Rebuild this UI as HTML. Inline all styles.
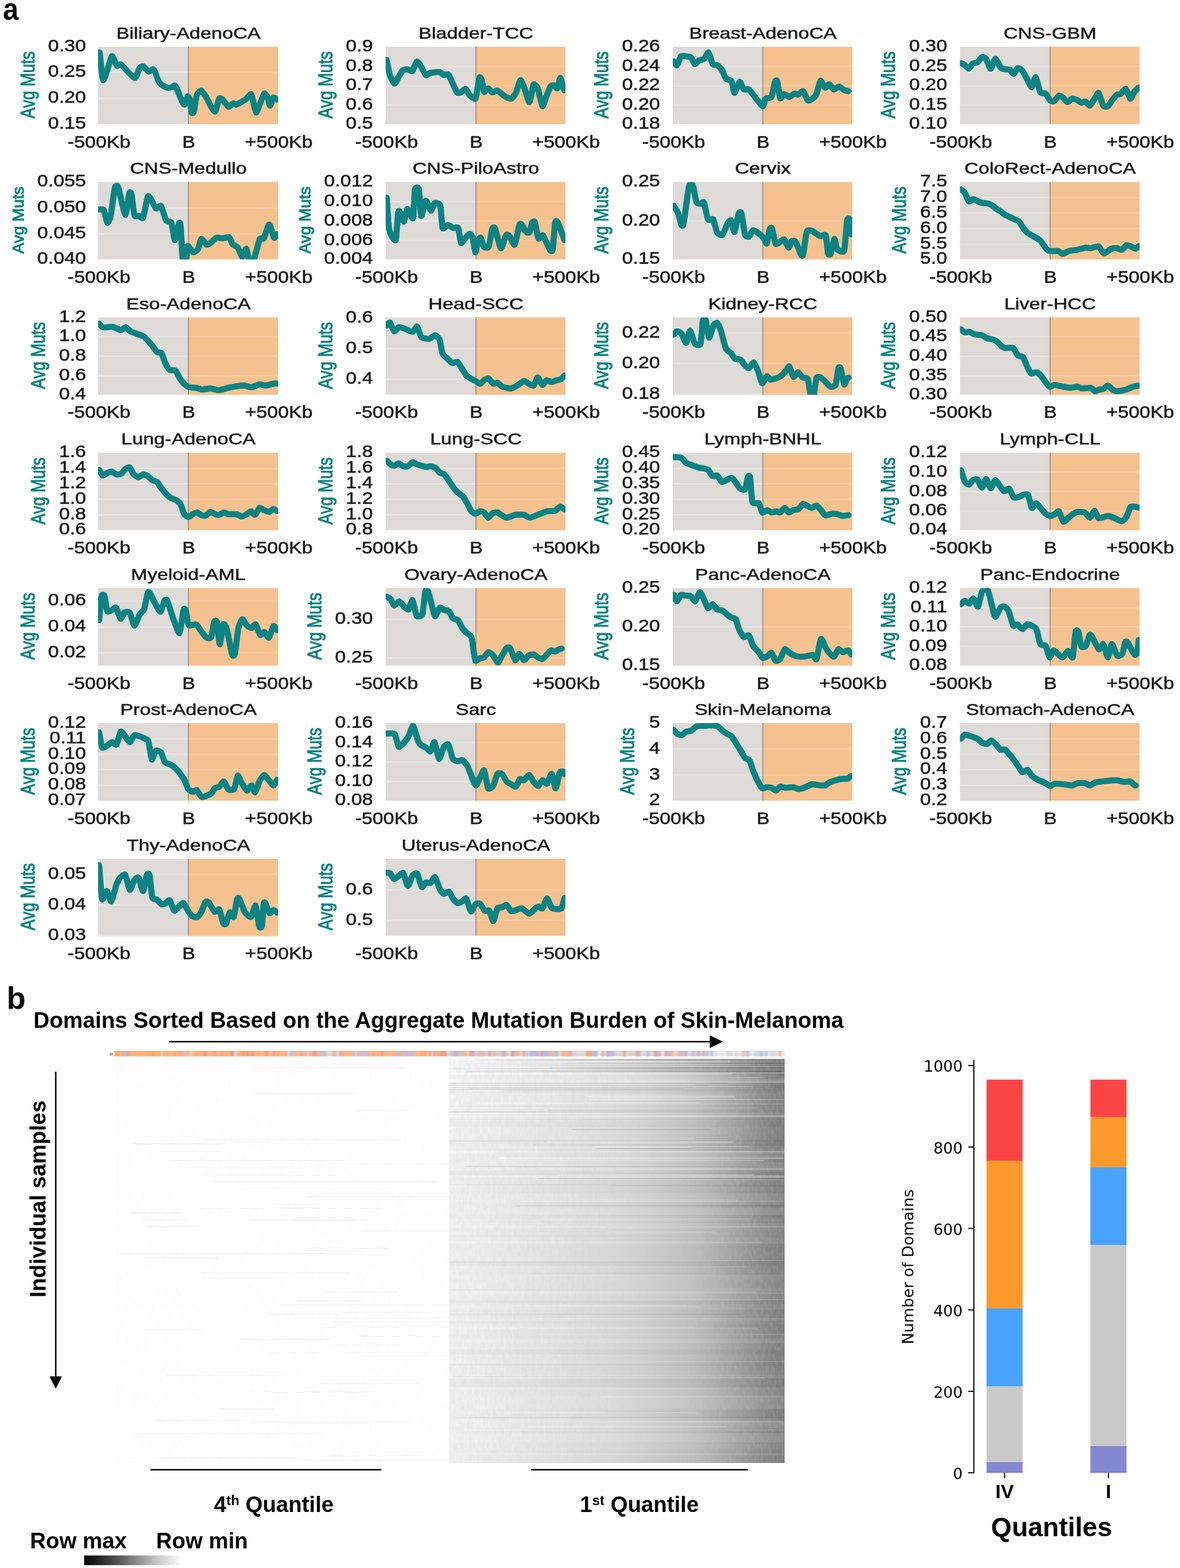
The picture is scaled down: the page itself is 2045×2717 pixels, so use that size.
<!DOCTYPE html>
<html lang="en"><head><meta charset="utf-8"><title>Figure</title>
<style>html,body{margin:0;padding:0;background:#fff}body{width:2045px;height:2717px;overflow:hidden}svg{display:block}</style>
</head><body>
<svg width="2045" height="2717" viewBox="0 0 2045 2717" role="img" aria-label="Figure: mutation burden around domain boundaries">
<defs>
<clipPath id="cp00"><rect x="170.00" y="81.00" width="312.00" height="134.20"/></clipPath>
<clipPath id="cp01"><rect x="668.40" y="81.00" width="311.60" height="134.20"/></clipPath>
<clipPath id="cp02"><rect x="1166.00" y="81.00" width="311.00" height="134.20"/></clipPath>
<clipPath id="cp03"><rect x="1663.60" y="81.00" width="311.40" height="134.20"/></clipPath>
<clipPath id="cp10"><rect x="170.00" y="315.40" width="312.00" height="134.00"/></clipPath>
<clipPath id="cp11"><rect x="668.40" y="315.40" width="311.60" height="134.00"/></clipPath>
<clipPath id="cp12"><rect x="1166.00" y="315.40" width="311.00" height="134.00"/></clipPath>
<clipPath id="cp13"><rect x="1663.60" y="315.40" width="311.40" height="134.00"/></clipPath>
<clipPath id="cp20"><rect x="170.00" y="550.00" width="312.00" height="134.00"/></clipPath>
<clipPath id="cp21"><rect x="668.40" y="550.00" width="311.60" height="134.00"/></clipPath>
<clipPath id="cp22"><rect x="1166.00" y="550.00" width="311.00" height="134.00"/></clipPath>
<clipPath id="cp23"><rect x="1663.60" y="550.00" width="311.40" height="134.00"/></clipPath>
<clipPath id="cp30"><rect x="170.00" y="784.60" width="312.00" height="134.00"/></clipPath>
<clipPath id="cp31"><rect x="668.40" y="784.60" width="311.60" height="134.00"/></clipPath>
<clipPath id="cp32"><rect x="1166.00" y="784.60" width="311.00" height="134.00"/></clipPath>
<clipPath id="cp33"><rect x="1663.60" y="784.60" width="311.40" height="134.00"/></clipPath>
<clipPath id="cp40"><rect x="170.00" y="1019.00" width="312.00" height="134.40"/></clipPath>
<clipPath id="cp41"><rect x="668.40" y="1019.00" width="311.60" height="134.40"/></clipPath>
<clipPath id="cp42"><rect x="1166.00" y="1019.00" width="311.00" height="134.40"/></clipPath>
<clipPath id="cp43"><rect x="1663.60" y="1019.00" width="311.40" height="134.40"/></clipPath>
<clipPath id="cp50"><rect x="170.00" y="1253.00" width="312.00" height="134.40"/></clipPath>
<clipPath id="cp51"><rect x="668.40" y="1253.00" width="311.60" height="134.40"/></clipPath>
<clipPath id="cp52"><rect x="1166.00" y="1253.00" width="311.00" height="134.40"/></clipPath>
<clipPath id="cp53"><rect x="1663.60" y="1253.00" width="311.40" height="134.40"/></clipPath>
<clipPath id="cp60"><rect x="170.00" y="1488.00" width="312.00" height="133.60"/></clipPath>
<clipPath id="cp61"><rect x="668.40" y="1488.00" width="311.60" height="133.60"/></clipPath>
<linearGradient id="gbar" x1="0" x2="1" y1="0" y2="0"><stop offset="0" stop-color="#000"/><stop offset="0.35" stop-color="#555"/><stop offset="0.7" stop-color="#bbb"/><stop offset="1" stop-color="#fff"/></linearGradient>
<filter id="soft" filterUnits="userSpaceOnUse" x="770" y="1830" width="600" height="710"><feGaussianBlur stdDeviation="1.2 0.7"/></filter>
</defs>
<rect width="2045" height="2717" fill="#fff"/>
<text transform="translate(4.90 33.80) scale(0.9 1)" font-family="'Liberation Sans', sans-serif" font-size="54" font-weight="bold" text-anchor="start" fill="#000">a</text>
<text transform="translate(11.40 1747.80)" font-family="'Liberation Sans', sans-serif" font-size="54" font-weight="bold" text-anchor="start" fill="#000">b</text>
<g>
<rect x="170.00" y="81.00" width="156.60" height="134.20" fill="#dedad7"/>
<rect x="326.60" y="81.00" width="155.40" height="134.20" fill="#f5c18f"/>
<text transform="translate(149.20 88.80) scale(1.18 1)" font-family="'Liberation Sans', sans-serif" font-size="28.7" font-weight="normal" text-anchor="end" fill="#1a1a1a" stroke="#1a1a1a" stroke-width="0.6">0.30</text>
<line x1="170.00" x2="326.60" y1="125.40" y2="125.40" stroke="#e8e4e2" stroke-width="2.8"/>
<line x1="326.60" x2="482.00" y1="125.40" y2="125.40" stroke="#f8ca9e" stroke-width="2.8"/>
<text transform="translate(149.20 133.20) scale(1.18 1)" font-family="'Liberation Sans', sans-serif" font-size="28.7" font-weight="normal" text-anchor="end" fill="#1a1a1a" stroke="#1a1a1a" stroke-width="0.6">0.25</text>
<line x1="170.00" x2="326.60" y1="170.40" y2="170.40" stroke="#e8e4e2" stroke-width="2.8"/>
<line x1="326.60" x2="482.00" y1="170.40" y2="170.40" stroke="#f8ca9e" stroke-width="2.8"/>
<text transform="translate(149.20 178.20) scale(1.18 1)" font-family="'Liberation Sans', sans-serif" font-size="28.7" font-weight="normal" text-anchor="end" fill="#1a1a1a" stroke="#1a1a1a" stroke-width="0.6">0.20</text>
<text transform="translate(149.20 223.00) scale(1.18 1)" font-family="'Liberation Sans', sans-serif" font-size="28.7" font-weight="normal" text-anchor="end" fill="#1a1a1a" stroke="#1a1a1a" stroke-width="0.6">0.15</text>
<line x1="326.60" x2="326.60" y1="81.00" y2="215.20" stroke="#7d7068" stroke-width="1.2"/>
<path d="M171.8 93.0C171.9 93.0 172.3 88.4 173.0 93.0C173.7 97.6 177.0 138.4 179.0 139.0C181.0 139.6 191.3 102.9 193.0 99.0C194.7 95.1 195.0 98.5 196.0 100.0C197.0 101.5 201.6 112.8 203.0 114.0C204.4 115.2 207.0 109.9 210.0 112.0C213.0 114.1 229.8 134.4 233.0 135.0C236.2 135.6 240.5 120.0 242.0 118.0C243.5 116.0 246.4 114.4 248.0 115.0C249.6 115.6 256.3 123.5 258.0 124.0C259.7 124.5 263.9 119.9 265.0 120.0C266.1 120.1 268.1 123.1 269.0 125.0C269.9 126.9 272.9 136.8 274.0 139.0C275.1 141.2 278.4 145.7 280.0 147.0C281.6 148.3 288.2 151.6 290.0 152.0C291.8 152.4 296.7 151.4 298.0 151.0C299.3 150.6 302.0 147.4 303.0 148.0C304.0 148.6 306.8 154.3 308.0 157.0C309.2 159.7 313.8 172.6 315.0 175.0C316.2 177.4 319.0 181.8 320.0 181.0C321.0 180.2 324.1 167.8 325.0 167.0C325.9 166.2 328.3 170.2 329.0 173.0C329.7 175.8 331.3 193.0 332.0 195.0C332.7 197.0 335.1 196.0 336.0 193.0C336.9 190.0 339.7 168.6 341.0 165.0C342.3 161.4 347.4 156.7 349.0 157.0C350.6 157.3 355.3 165.2 357.0 168.0C358.7 170.8 364.4 182.5 366.0 185.0C367.6 187.5 371.6 194.4 373.0 193.0C374.4 191.6 378.7 173.0 380.0 171.0C381.3 169.0 384.4 171.6 386.0 173.0C387.6 174.4 394.2 184.4 396.0 185.0C397.8 185.6 402.6 179.4 404.0 179.0C405.4 178.6 407.8 181.7 410.0 181.0C412.2 180.3 423.5 173.8 426.0 172.0C428.5 170.2 433.7 162.5 435.0 163.0C436.3 163.5 438.1 173.8 439.0 177.0C439.9 180.2 442.9 194.6 444.0 195.0C445.1 195.4 448.6 184.3 450.0 181.0C451.4 177.7 456.6 163.2 458.0 162.0C459.4 160.8 463.0 166.9 464.0 169.0C465.0 171.1 467.0 183.0 468.0 183.0C469.0 183.0 472.8 170.0 474.0 169.0C475.2 168.0 479.6 172.2 480.2 172.5" fill="none" stroke="#0d8383" stroke-width="10.6" stroke-linejoin="round" stroke-linecap="round" clip-path="url(#cp00)"/>
<text transform="translate(326.50 66.80) scale(1.2 1)" font-family="'Liberation Sans', sans-serif" font-size="28.4" font-weight="normal" text-anchor="middle" fill="#1a1a1a" stroke="#1a1a1a" stroke-width="0.6">Biliary-AdenoCA</text>
<text transform="translate(171.60 255.50) scale(1.165 1)" font-family="'Liberation Sans', sans-serif" font-size="29" font-weight="normal" text-anchor="middle" fill="#1a1a1a" stroke="#1a1a1a" stroke-width="0.6">-500Kb</text>
<text transform="translate(327.00 255.50) scale(1.165 1)" font-family="'Liberation Sans', sans-serif" font-size="29" font-weight="normal" text-anchor="middle" fill="#1a1a1a" stroke="#1a1a1a" stroke-width="0.6">B</text>
<text transform="translate(483.20 255.50) scale(1.165 1)" font-family="'Liberation Sans', sans-serif" font-size="29" font-weight="normal" text-anchor="middle" fill="#1a1a1a" stroke="#1a1a1a" stroke-width="0.6">+500Kb</text>
<text transform="translate(59.60 147.10) rotate(-90) scale(0.8 1)" font-family="'Liberation Sans', sans-serif" font-size="35" text-anchor="middle" fill="#0d8383" stroke="#0d8383" stroke-width="1.2">Avg Muts</text>
</g>
<g>
<rect x="668.40" y="81.00" width="156.40" height="134.20" fill="#dedad7"/>
<rect x="824.80" y="81.00" width="155.20" height="134.20" fill="#f5c18f"/>
<text transform="translate(646.30 88.80) scale(1.18 1)" font-family="'Liberation Sans', sans-serif" font-size="28.7" font-weight="normal" text-anchor="end" fill="#1a1a1a" stroke="#1a1a1a" stroke-width="0.6">0.9</text>
<line x1="668.40" x2="824.80" y1="115.00" y2="115.00" stroke="#e8e4e2" stroke-width="2.8"/>
<line x1="824.80" x2="980.00" y1="115.00" y2="115.00" stroke="#f8ca9e" stroke-width="2.8"/>
<text transform="translate(646.30 122.80) scale(1.18 1)" font-family="'Liberation Sans', sans-serif" font-size="28.7" font-weight="normal" text-anchor="end" fill="#1a1a1a" stroke="#1a1a1a" stroke-width="0.6">0.8</text>
<line x1="668.40" x2="824.80" y1="148.60" y2="148.60" stroke="#e8e4e2" stroke-width="2.8"/>
<line x1="824.80" x2="980.00" y1="148.60" y2="148.60" stroke="#f8ca9e" stroke-width="2.8"/>
<text transform="translate(646.30 156.40) scale(1.18 1)" font-family="'Liberation Sans', sans-serif" font-size="28.7" font-weight="normal" text-anchor="end" fill="#1a1a1a" stroke="#1a1a1a" stroke-width="0.6">0.7</text>
<line x1="668.40" x2="824.80" y1="182.00" y2="182.00" stroke="#e8e4e2" stroke-width="2.8"/>
<line x1="824.80" x2="980.00" y1="182.00" y2="182.00" stroke="#f8ca9e" stroke-width="2.8"/>
<text transform="translate(646.30 189.80) scale(1.18 1)" font-family="'Liberation Sans', sans-serif" font-size="28.7" font-weight="normal" text-anchor="end" fill="#1a1a1a" stroke="#1a1a1a" stroke-width="0.6">0.6</text>
<text transform="translate(646.30 223.00) scale(1.18 1)" font-family="'Liberation Sans', sans-serif" font-size="28.7" font-weight="normal" text-anchor="end" fill="#1a1a1a" stroke="#1a1a1a" stroke-width="0.6">0.5</text>
<line x1="824.80" x2="824.80" y1="81.00" y2="215.20" stroke="#7d7068" stroke-width="1.2"/>
<path d="M670.2 104.8C670.2 104.8 669.8 102.4 670.4 105.0C671.0 107.6 674.6 127.0 676.0 131.0C677.4 135.0 682.5 144.8 684.0 145.0C685.5 145.2 689.6 135.3 691.0 133.0C692.4 130.7 696.5 123.3 698.0 122.0C699.5 120.7 704.3 119.9 706.0 120.0C707.7 120.1 713.4 124.3 715.0 123.0C716.6 121.7 720.7 108.1 722.0 107.0C723.3 105.9 726.4 109.7 728.0 112.0C729.6 114.3 736.2 128.6 738.0 130.0C739.8 131.4 743.6 126.5 746.0 126.0C748.4 125.5 759.7 124.6 762.0 125.0C764.3 125.4 767.5 129.6 769.0 130.0C770.5 130.4 775.6 127.9 777.0 129.0C778.4 130.1 781.5 137.9 783.0 141.0C784.5 144.1 790.4 158.1 792.0 160.0C793.6 161.9 797.5 160.6 799.0 160.0C800.5 159.4 805.5 153.5 807.0 154.0C808.5 154.5 812.3 163.3 814.0 165.0C815.7 166.7 822.6 172.2 824.0 171.0C825.4 169.8 826.9 156.7 827.6 153.0C828.3 149.3 830.3 135.4 831.0 134.0C831.7 132.6 834.2 136.5 835.0 139.0C835.8 141.5 837.9 157.6 839.0 159.0C840.1 160.4 844.6 152.9 846.0 153.0C847.4 153.1 851.4 159.6 853.0 160.0C854.6 160.4 859.8 156.3 862.0 157.0C864.2 157.7 872.6 165.6 875.0 167.0C877.4 168.4 884.1 171.6 886.0 171.0C887.9 170.4 892.4 164.2 894.0 161.0C895.6 157.8 900.5 139.8 902.0 139.0C903.5 138.2 907.5 149.2 909.0 153.0C910.5 156.8 915.7 176.4 917.0 177.0C918.3 177.6 921.2 162.1 922.0 159.0C922.8 155.9 924.0 146.6 925.0 146.0C926.0 145.4 930.5 149.2 932.0 153.0C933.5 156.8 938.6 182.4 940.0 184.0C941.4 185.6 944.6 172.4 946.0 169.0C947.4 165.6 952.6 152.1 954.0 150.0C955.4 147.9 958.8 147.7 960.0 148.0C961.2 148.3 964.9 154.3 966.0 153.0C967.1 151.7 970.0 135.2 971.0 135.0C972.0 134.8 975.3 148.9 976.0 151.0C976.7 153.1 978.0 155.8 978.2 156.3" fill="none" stroke="#0d8383" stroke-width="10.6" stroke-linejoin="round" stroke-linecap="round" clip-path="url(#cp01)"/>
<text transform="translate(824.70 66.80) scale(1.2 1)" font-family="'Liberation Sans', sans-serif" font-size="28.4" font-weight="normal" text-anchor="middle" fill="#1a1a1a" stroke="#1a1a1a" stroke-width="0.6">Bladder-TCC</text>
<text transform="translate(670.00 255.50) scale(1.165 1)" font-family="'Liberation Sans', sans-serif" font-size="29" font-weight="normal" text-anchor="middle" fill="#1a1a1a" stroke="#1a1a1a" stroke-width="0.6">-500Kb</text>
<text transform="translate(825.20 255.50) scale(1.165 1)" font-family="'Liberation Sans', sans-serif" font-size="29" font-weight="normal" text-anchor="middle" fill="#1a1a1a" stroke="#1a1a1a" stroke-width="0.6">B</text>
<text transform="translate(981.20 255.50) scale(1.165 1)" font-family="'Liberation Sans', sans-serif" font-size="29" font-weight="normal" text-anchor="middle" fill="#1a1a1a" stroke="#1a1a1a" stroke-width="0.6">+500Kb</text>
<text transform="translate(575.53 147.10) rotate(-90) scale(0.8 1)" font-family="'Liberation Sans', sans-serif" font-size="35" text-anchor="middle" fill="#0d8383" stroke="#0d8383" stroke-width="1.2">Avg Muts</text>
</g>
<g>
<rect x="1166.00" y="81.00" width="156.10" height="134.20" fill="#dedad7"/>
<rect x="1322.10" y="81.00" width="154.90" height="134.20" fill="#f5c18f"/>
<text transform="translate(1143.90 88.80) scale(1.18 1)" font-family="'Liberation Sans', sans-serif" font-size="28.7" font-weight="normal" text-anchor="end" fill="#1a1a1a" stroke="#1a1a1a" stroke-width="0.6">0.26</text>
<line x1="1166.00" x2="1322.10" y1="115.00" y2="115.00" stroke="#e8e4e2" stroke-width="2.8"/>
<line x1="1322.10" x2="1477.00" y1="115.00" y2="115.00" stroke="#f8ca9e" stroke-width="2.8"/>
<text transform="translate(1143.90 122.80) scale(1.18 1)" font-family="'Liberation Sans', sans-serif" font-size="28.7" font-weight="normal" text-anchor="end" fill="#1a1a1a" stroke="#1a1a1a" stroke-width="0.6">0.24</text>
<line x1="1166.00" x2="1322.10" y1="148.60" y2="148.60" stroke="#e8e4e2" stroke-width="2.8"/>
<line x1="1322.10" x2="1477.00" y1="148.60" y2="148.60" stroke="#f8ca9e" stroke-width="2.8"/>
<text transform="translate(1143.90 156.40) scale(1.18 1)" font-family="'Liberation Sans', sans-serif" font-size="28.7" font-weight="normal" text-anchor="end" fill="#1a1a1a" stroke="#1a1a1a" stroke-width="0.6">0.22</text>
<line x1="1166.00" x2="1322.10" y1="182.00" y2="182.00" stroke="#e8e4e2" stroke-width="2.8"/>
<line x1="1322.10" x2="1477.00" y1="182.00" y2="182.00" stroke="#f8ca9e" stroke-width="2.8"/>
<text transform="translate(1143.90 189.80) scale(1.18 1)" font-family="'Liberation Sans', sans-serif" font-size="28.7" font-weight="normal" text-anchor="end" fill="#1a1a1a" stroke="#1a1a1a" stroke-width="0.6">0.20</text>
<text transform="translate(1143.90 223.00) scale(1.18 1)" font-family="'Liberation Sans', sans-serif" font-size="28.7" font-weight="normal" text-anchor="end" fill="#1a1a1a" stroke="#1a1a1a" stroke-width="0.6">0.18</text>
<line x1="1322.10" x2="1322.10" y1="81.00" y2="215.20" stroke="#7d7068" stroke-width="1.2"/>
<path d="M1167.8 106.5C1168.3 107.1 1171.8 113.8 1173.0 113.0C1174.2 112.2 1178.4 99.6 1180.0 98.0C1181.6 96.4 1187.2 97.2 1189.0 97.4C1190.8 97.6 1196.5 98.6 1198.0 100.0C1199.5 101.4 1202.7 110.5 1204.0 111.0C1205.3 111.5 1209.4 105.9 1211.0 105.0C1212.6 104.1 1218.3 103.4 1220.0 102.0C1221.7 100.6 1226.5 90.1 1228.0 91.0C1229.5 91.9 1233.5 108.8 1235.0 111.0C1236.5 113.2 1241.4 112.0 1243.0 113.0C1244.6 114.0 1249.5 118.7 1251.0 121.0C1252.5 123.3 1256.3 134.0 1258.0 136.0C1259.7 138.0 1266.5 138.5 1268.0 141.0C1269.5 143.5 1271.6 160.9 1273.0 161.0C1274.4 161.1 1280.4 142.6 1282.0 142.0C1283.6 141.4 1287.4 153.7 1289.0 155.0C1290.6 156.3 1296.0 153.6 1298.0 155.0C1300.0 156.4 1306.6 166.1 1309.0 169.0C1311.4 171.9 1320.2 183.8 1322.0 184.0C1323.8 184.2 1325.5 172.6 1327.0 171.0C1328.5 169.4 1335.4 170.9 1337.0 168.0C1338.6 165.1 1342.0 144.7 1343.0 142.0C1344.0 139.3 1346.1 138.2 1347.0 141.0C1347.9 143.8 1350.8 167.8 1352.0 170.0C1353.2 172.2 1357.4 163.2 1359.0 163.0C1360.6 162.8 1366.2 168.1 1368.0 168.0C1369.8 167.9 1375.5 162.4 1377.0 162.0C1378.5 161.6 1381.5 164.4 1383.0 164.0C1384.5 163.6 1390.3 157.0 1392.0 158.0C1393.7 159.0 1398.4 172.7 1400.0 174.0C1401.6 175.3 1406.5 172.1 1408.0 171.0C1409.5 169.9 1413.6 166.1 1415.0 163.0C1416.4 159.9 1420.5 141.1 1422.0 140.0C1423.5 138.9 1428.5 151.4 1430.0 152.0C1431.5 152.6 1435.5 145.7 1437.0 146.0C1438.5 146.3 1443.3 154.6 1445.0 155.0C1446.7 155.4 1452.2 149.9 1454.0 150.0C1455.8 150.1 1461.4 155.2 1463.0 156.0C1464.6 156.8 1469.7 157.8 1470.4 158.0" fill="none" stroke="#0d8383" stroke-width="10.6" stroke-linejoin="round" stroke-linecap="round" clip-path="url(#cp02)"/>
<text transform="translate(1322.00 66.80) scale(1.2 1)" font-family="'Liberation Sans', sans-serif" font-size="28.4" font-weight="normal" text-anchor="middle" fill="#1a1a1a" stroke="#1a1a1a" stroke-width="0.6">Breast-AdenoCA</text>
<text transform="translate(1167.60 255.50) scale(1.165 1)" font-family="'Liberation Sans', sans-serif" font-size="29" font-weight="normal" text-anchor="middle" fill="#1a1a1a" stroke="#1a1a1a" stroke-width="0.6">-500Kb</text>
<text transform="translate(1322.50 255.50) scale(1.165 1)" font-family="'Liberation Sans', sans-serif" font-size="29" font-weight="normal" text-anchor="middle" fill="#1a1a1a" stroke="#1a1a1a" stroke-width="0.6">B</text>
<text transform="translate(1478.20 255.50) scale(1.165 1)" font-family="'Liberation Sans', sans-serif" font-size="29" font-weight="normal" text-anchor="middle" fill="#1a1a1a" stroke="#1a1a1a" stroke-width="0.6">+500Kb</text>
<text transform="translate(1054.10 147.10) rotate(-90) scale(0.8 1)" font-family="'Liberation Sans', sans-serif" font-size="35" text-anchor="middle" fill="#0d8383" stroke="#0d8383" stroke-width="1.2">Avg Muts</text>
</g>
<g>
<rect x="1663.60" y="81.00" width="156.30" height="134.20" fill="#dedad7"/>
<rect x="1819.90" y="81.00" width="155.10" height="134.20" fill="#f5c18f"/>
<text transform="translate(1641.50 88.80) scale(1.18 1)" font-family="'Liberation Sans', sans-serif" font-size="28.7" font-weight="normal" text-anchor="end" fill="#1a1a1a" stroke="#1a1a1a" stroke-width="0.6">0.30</text>
<line x1="1663.60" x2="1819.90" y1="115.00" y2="115.00" stroke="#e8e4e2" stroke-width="2.8"/>
<line x1="1819.90" x2="1975.00" y1="115.00" y2="115.00" stroke="#f8ca9e" stroke-width="2.8"/>
<text transform="translate(1641.50 122.80) scale(1.18 1)" font-family="'Liberation Sans', sans-serif" font-size="28.7" font-weight="normal" text-anchor="end" fill="#1a1a1a" stroke="#1a1a1a" stroke-width="0.6">0.25</text>
<line x1="1663.60" x2="1819.90" y1="148.60" y2="148.60" stroke="#e8e4e2" stroke-width="2.8"/>
<line x1="1819.90" x2="1975.00" y1="148.60" y2="148.60" stroke="#f8ca9e" stroke-width="2.8"/>
<text transform="translate(1641.50 156.40) scale(1.18 1)" font-family="'Liberation Sans', sans-serif" font-size="28.7" font-weight="normal" text-anchor="end" fill="#1a1a1a" stroke="#1a1a1a" stroke-width="0.6">0.20</text>
<line x1="1663.60" x2="1819.90" y1="182.00" y2="182.00" stroke="#e8e4e2" stroke-width="2.8"/>
<line x1="1819.90" x2="1975.00" y1="182.00" y2="182.00" stroke="#f8ca9e" stroke-width="2.8"/>
<text transform="translate(1641.50 189.80) scale(1.18 1)" font-family="'Liberation Sans', sans-serif" font-size="28.7" font-weight="normal" text-anchor="end" fill="#1a1a1a" stroke="#1a1a1a" stroke-width="0.6">0.15</text>
<text transform="translate(1641.50 223.00) scale(1.18 1)" font-family="'Liberation Sans', sans-serif" font-size="28.7" font-weight="normal" text-anchor="end" fill="#1a1a1a" stroke="#1a1a1a" stroke-width="0.6">0.10</text>
<line x1="1819.90" x2="1819.90" y1="81.00" y2="215.20" stroke="#7d7068" stroke-width="1.2"/>
<path d="M1665.4 109.6C1666.0 109.8 1669.6 111.1 1671.0 112.0C1672.4 112.9 1677.5 119.2 1679.0 119.0C1680.5 118.8 1684.5 111.1 1686.0 110.0C1687.5 108.9 1692.4 109.1 1694.0 108.0C1695.6 106.9 1700.5 99.6 1702.0 99.0C1703.5 98.4 1707.5 100.0 1709.0 102.0C1710.5 104.0 1715.4 119.0 1717.0 119.0C1718.6 119.0 1723.3 102.2 1725.0 102.0C1726.7 101.8 1732.3 115.2 1734.0 117.0C1735.7 118.8 1740.4 119.6 1742.0 120.0C1743.6 120.4 1748.5 120.2 1750.0 121.0C1751.5 121.8 1755.6 128.3 1757.0 128.0C1758.4 127.7 1762.5 118.5 1764.0 118.0C1765.5 117.5 1770.3 120.9 1772.0 123.0C1773.7 125.1 1779.4 136.2 1781.0 139.0C1782.6 141.8 1786.6 151.5 1788.0 151.0C1789.4 150.5 1793.5 133.1 1795.0 134.0C1796.5 134.9 1801.3 157.2 1803.0 160.0C1804.7 162.8 1810.3 160.6 1812.0 162.0C1813.7 163.4 1818.5 172.7 1820.0 174.0C1821.5 175.3 1825.5 175.8 1827.0 175.0C1828.5 174.2 1833.5 166.6 1835.0 166.0C1836.5 165.4 1840.5 167.9 1842.0 169.0C1843.5 170.1 1848.4 176.8 1850.0 177.0C1851.6 177.2 1856.4 171.4 1858.0 171.0C1859.6 170.6 1864.4 172.3 1866.0 173.0C1867.6 173.7 1872.5 177.7 1874.0 178.0C1875.5 178.3 1879.5 175.5 1881.0 176.0C1882.5 176.5 1887.4 183.5 1889.0 183.0C1890.6 182.5 1895.5 173.2 1897.0 171.0C1898.5 168.8 1902.5 159.8 1904.0 161.0C1905.5 162.2 1910.4 180.7 1912.0 183.0C1913.6 185.3 1918.4 185.0 1920.0 184.0C1921.6 183.0 1926.4 175.0 1928.0 173.0C1929.6 171.0 1934.6 165.0 1936.0 164.0C1937.4 163.0 1940.5 164.0 1942.0 163.0C1943.5 162.0 1949.3 153.2 1951.0 154.0C1952.7 154.8 1957.5 170.5 1959.0 171.0C1960.5 171.5 1964.6 160.9 1966.0 159.0C1967.4 157.1 1972.5 152.5 1973.2 151.8" fill="none" stroke="#0d8383" stroke-width="10.6" stroke-linejoin="round" stroke-linecap="round" clip-path="url(#cp03)"/>
<text transform="translate(1819.80 66.80) scale(1.2 1)" font-family="'Liberation Sans', sans-serif" font-size="28.4" font-weight="normal" text-anchor="middle" fill="#1a1a1a" stroke="#1a1a1a" stroke-width="0.6">CNS-GBM</text>
<text transform="translate(1665.20 255.50) scale(1.165 1)" font-family="'Liberation Sans', sans-serif" font-size="29" font-weight="normal" text-anchor="middle" fill="#1a1a1a" stroke="#1a1a1a" stroke-width="0.6">-500Kb</text>
<text transform="translate(1820.30 255.50) scale(1.165 1)" font-family="'Liberation Sans', sans-serif" font-size="29" font-weight="normal" text-anchor="middle" fill="#1a1a1a" stroke="#1a1a1a" stroke-width="0.6">B</text>
<text transform="translate(1976.20 255.50) scale(1.165 1)" font-family="'Liberation Sans', sans-serif" font-size="29" font-weight="normal" text-anchor="middle" fill="#1a1a1a" stroke="#1a1a1a" stroke-width="0.6">+500Kb</text>
<text transform="translate(1551.20 147.10) rotate(-90) scale(0.8 1)" font-family="'Liberation Sans', sans-serif" font-size="35" text-anchor="middle" fill="#0d8383" stroke="#0d8383" stroke-width="1.2">Avg Muts</text>
</g>
<g>
<rect x="170.00" y="315.40" width="156.60" height="134.00" fill="#dedad7"/>
<rect x="326.60" y="315.40" width="155.40" height="134.00" fill="#f5c18f"/>
<text transform="translate(149.20 323.20) scale(1.18 1)" font-family="'Liberation Sans', sans-serif" font-size="28.7" font-weight="normal" text-anchor="end" fill="#1a1a1a" stroke="#1a1a1a" stroke-width="0.6">0.055</text>
<line x1="170.00" x2="326.60" y1="360.60" y2="360.60" stroke="#e8e4e2" stroke-width="2.8"/>
<line x1="326.60" x2="482.00" y1="360.60" y2="360.60" stroke="#f8ca9e" stroke-width="2.8"/>
<text transform="translate(149.20 368.40) scale(1.18 1)" font-family="'Liberation Sans', sans-serif" font-size="28.7" font-weight="normal" text-anchor="end" fill="#1a1a1a" stroke="#1a1a1a" stroke-width="0.6">0.050</text>
<line x1="170.00" x2="326.60" y1="405.00" y2="405.00" stroke="#e8e4e2" stroke-width="2.8"/>
<line x1="326.60" x2="482.00" y1="405.00" y2="405.00" stroke="#f8ca9e" stroke-width="2.8"/>
<text transform="translate(149.20 412.80) scale(1.18 1)" font-family="'Liberation Sans', sans-serif" font-size="28.7" font-weight="normal" text-anchor="end" fill="#1a1a1a" stroke="#1a1a1a" stroke-width="0.6">0.045</text>
<text transform="translate(149.20 457.20) scale(1.18 1)" font-family="'Liberation Sans', sans-serif" font-size="28.7" font-weight="normal" text-anchor="end" fill="#1a1a1a" stroke="#1a1a1a" stroke-width="0.6">0.040</text>
<line x1="326.60" x2="326.60" y1="315.40" y2="449.40" stroke="#7d7068" stroke-width="1.2"/>
<path d="M171.8 363.0C171.8 363.0 171.2 362.9 172.0 363.0C172.8 363.1 178.6 361.7 180.0 364.0C181.4 366.3 184.8 385.1 186.0 386.0C187.2 386.9 190.7 379.0 192.0 373.0C193.3 367.0 197.7 330.8 199.0 326.0C200.3 321.2 203.2 320.4 205.0 325.0C206.8 329.6 215.1 371.0 217.0 372.0C218.9 373.0 222.9 338.5 224.0 335.0C225.1 331.5 227.1 333.2 228.0 337.0C228.9 340.8 231.7 369.3 233.0 373.0C234.3 376.7 239.5 373.6 241.0 374.0C242.5 374.4 246.5 380.3 248.0 377.0C249.5 373.7 254.7 344.3 256.0 341.0C257.3 337.7 259.6 342.0 261.0 344.0C262.4 346.0 268.2 359.7 270.0 361.0C271.8 362.3 277.2 354.9 279.0 357.0C280.8 359.1 286.2 379.1 288.0 382.0C289.8 384.9 295.5 382.6 297.0 386.0C298.5 389.4 301.7 415.8 303.0 416.0C304.3 416.2 309.0 390.5 310.0 388.0C311.0 385.5 312.3 384.1 313.0 391.0C313.7 397.9 316.1 450.4 317.0 457.0C317.9 463.6 321.2 460.0 322.0 457.0C322.8 454.0 324.3 429.7 325.0 427.0C325.7 424.3 328.0 429.0 329.0 430.0C330.0 431.0 333.6 436.8 335.0 437.0C336.4 437.2 341.6 434.3 343.0 432.0C344.4 429.7 347.5 414.8 349.0 414.0C350.5 413.2 356.3 423.4 358.0 424.0C359.7 424.6 364.3 421.2 366.0 420.0C367.7 418.8 373.0 412.7 375.0 412.0C377.0 411.3 383.8 413.1 386.0 413.0C388.2 412.9 395.3 410.0 397.0 411.0C398.7 412.0 401.5 421.2 403.0 423.0C404.5 424.8 410.3 426.8 412.0 429.0C413.7 431.2 418.5 444.8 420.0 445.0C421.5 445.2 425.8 430.0 427.0 431.0C428.2 432.0 431.3 452.6 432.4 455.0C433.5 457.4 436.6 459.0 438.4 455.0C440.2 451.0 448.1 419.2 450.0 415.0C451.9 410.8 455.5 415.4 457.0 413.0C458.5 410.6 463.9 393.2 465.0 391.0C466.1 388.8 467.0 388.9 468.0 391.0C469.0 393.1 473.8 410.5 475.0 412.0C476.2 413.5 479.7 406.5 480.2 405.9" fill="none" stroke="#0d8383" stroke-width="10.6" stroke-linejoin="round" stroke-linecap="round" clip-path="url(#cp10)"/>
<text transform="translate(326.50 301.20) scale(1.2 1)" font-family="'Liberation Sans', sans-serif" font-size="28.4" font-weight="normal" text-anchor="middle" fill="#1a1a1a" stroke="#1a1a1a" stroke-width="0.6">CNS-Medullo</text>
<text transform="translate(171.60 489.70) scale(1.165 1)" font-family="'Liberation Sans', sans-serif" font-size="29" font-weight="normal" text-anchor="middle" fill="#1a1a1a" stroke="#1a1a1a" stroke-width="0.6">-500Kb</text>
<text transform="translate(327.00 489.70) scale(1.165 1)" font-family="'Liberation Sans', sans-serif" font-size="29" font-weight="normal" text-anchor="middle" fill="#1a1a1a" stroke="#1a1a1a" stroke-width="0.6">B</text>
<text transform="translate(483.20 489.70) scale(1.165 1)" font-family="'Liberation Sans', sans-serif" font-size="29" font-weight="normal" text-anchor="middle" fill="#1a1a1a" stroke="#1a1a1a" stroke-width="0.6">+500Kb</text>
<text transform="translate(40.77 381.40) rotate(-90) scale(1.018 1)" font-family="'Liberation Sans', sans-serif" font-size="27.5" text-anchor="middle" fill="#0d8383" stroke="#0d8383" stroke-width="1.2">Avg Muts</text>
</g>
<g>
<rect x="668.40" y="315.40" width="156.40" height="134.00" fill="#dedad7"/>
<rect x="824.80" y="315.40" width="155.20" height="134.00" fill="#f5c18f"/>
<text transform="translate(646.30 323.20) scale(1.18 1)" font-family="'Liberation Sans', sans-serif" font-size="28.7" font-weight="normal" text-anchor="end" fill="#1a1a1a" stroke="#1a1a1a" stroke-width="0.6">0.012</text>
<line x1="668.40" x2="824.80" y1="349.40" y2="349.40" stroke="#e8e4e2" stroke-width="2.8"/>
<line x1="824.80" x2="980.00" y1="349.40" y2="349.40" stroke="#f8ca9e" stroke-width="2.8"/>
<text transform="translate(646.30 357.20) scale(1.18 1)" font-family="'Liberation Sans', sans-serif" font-size="28.7" font-weight="normal" text-anchor="end" fill="#1a1a1a" stroke="#1a1a1a" stroke-width="0.6">0.010</text>
<line x1="668.40" x2="824.80" y1="383.00" y2="383.00" stroke="#e8e4e2" stroke-width="2.8"/>
<line x1="824.80" x2="980.00" y1="383.00" y2="383.00" stroke="#f8ca9e" stroke-width="2.8"/>
<text transform="translate(646.30 390.80) scale(1.18 1)" font-family="'Liberation Sans', sans-serif" font-size="28.7" font-weight="normal" text-anchor="end" fill="#1a1a1a" stroke="#1a1a1a" stroke-width="0.6">0.008</text>
<line x1="668.40" x2="824.80" y1="417.00" y2="417.00" stroke="#e8e4e2" stroke-width="2.8"/>
<line x1="824.80" x2="980.00" y1="417.00" y2="417.00" stroke="#f8ca9e" stroke-width="2.8"/>
<text transform="translate(646.30 424.80) scale(1.18 1)" font-family="'Liberation Sans', sans-serif" font-size="28.7" font-weight="normal" text-anchor="end" fill="#1a1a1a" stroke="#1a1a1a" stroke-width="0.6">0.006</text>
<text transform="translate(646.30 457.20) scale(1.18 1)" font-family="'Liberation Sans', sans-serif" font-size="28.7" font-weight="normal" text-anchor="end" fill="#1a1a1a" stroke="#1a1a1a" stroke-width="0.6">0.004</text>
<line x1="824.80" x2="824.80" y1="315.40" y2="449.40" stroke="#7d7068" stroke-width="1.2"/>
<path d="M670.2 344.8C670.2 344.8 670.0 340.0 670.4 345.0C670.8 350.0 673.0 388.4 674.0 395.0C675.0 401.6 678.8 409.0 680.0 411.0C681.2 413.0 685.0 419.2 686.0 415.0C687.0 410.8 689.3 373.8 690.0 369.0C690.7 364.2 692.0 365.5 693.0 367.0C694.0 368.5 698.7 384.5 700.0 384.0C701.3 383.5 704.4 362.6 706.0 362.0C707.6 361.4 714.7 381.3 716.0 378.0C717.3 374.7 718.0 334.0 719.0 329.0C720.0 324.0 724.9 323.5 726.0 328.0C727.1 332.5 728.9 371.9 730.0 374.0C731.1 376.1 736.0 351.4 737.0 349.0C738.0 346.6 739.0 348.4 740.0 350.0C741.0 351.6 745.7 364.8 747.0 365.0C748.3 365.2 751.4 352.9 753.0 352.0C754.6 351.1 761.6 351.7 763.0 356.0C764.4 360.3 765.7 391.6 767.0 395.0C768.3 398.4 774.1 390.0 776.0 390.0C777.9 390.0 784.2 394.5 786.0 395.0C787.8 395.5 792.7 392.4 794.0 395.0C795.3 397.6 797.8 419.2 799.0 421.0C800.2 422.8 804.5 414.6 806.0 413.0C807.5 411.4 812.7 405.2 814.0 405.0C815.3 404.8 818.0 407.8 819.0 411.0C820.0 414.2 823.0 436.5 824.0 437.0C825.0 437.5 828.1 418.5 829.0 416.0C829.9 413.5 832.0 410.8 833.0 412.0C834.0 413.2 837.6 426.5 839.0 428.0C840.4 429.5 845.6 430.1 847.0 427.0C848.4 423.9 851.9 400.1 853.0 397.0C854.1 393.9 856.5 392.7 858.0 396.0C859.5 399.3 866.1 428.8 868.0 430.0C869.9 431.2 875.5 410.1 877.0 408.0C878.5 405.9 881.5 407.4 883.0 409.0C884.5 410.6 890.3 425.9 892.0 424.0C893.7 422.1 898.8 393.5 900.0 390.0C901.2 386.5 902.8 387.8 904.0 389.0C905.2 390.2 910.6 400.7 912.0 402.0C913.4 403.3 917.0 403.6 918.0 402.0C919.0 400.4 921.1 387.7 922.0 386.0C922.9 384.3 925.9 382.3 927.0 385.0C928.1 387.7 931.6 410.7 933.0 413.0C934.4 415.3 939.0 406.0 941.0 408.0C943.0 410.0 951.3 430.6 953.0 433.0C954.7 435.4 957.1 436.7 958.0 432.0C958.9 427.3 961.1 390.6 962.0 386.0C962.9 381.4 965.4 383.0 967.0 386.0C968.6 389.0 977.1 412.9 978.2 415.9" fill="none" stroke="#0d8383" stroke-width="10.6" stroke-linejoin="round" stroke-linecap="round" clip-path="url(#cp11)"/>
<text transform="translate(824.70 301.20) scale(1.2 1)" font-family="'Liberation Sans', sans-serif" font-size="28.4" font-weight="normal" text-anchor="middle" fill="#1a1a1a" stroke="#1a1a1a" stroke-width="0.6">CNS-PiloAstro</text>
<text transform="translate(670.00 489.70) scale(1.165 1)" font-family="'Liberation Sans', sans-serif" font-size="29" font-weight="normal" text-anchor="middle" fill="#1a1a1a" stroke="#1a1a1a" stroke-width="0.6">-500Kb</text>
<text transform="translate(825.20 489.70) scale(1.165 1)" font-family="'Liberation Sans', sans-serif" font-size="29" font-weight="normal" text-anchor="middle" fill="#1a1a1a" stroke="#1a1a1a" stroke-width="0.6">B</text>
<text transform="translate(981.20 489.70) scale(1.165 1)" font-family="'Liberation Sans', sans-serif" font-size="29" font-weight="normal" text-anchor="middle" fill="#1a1a1a" stroke="#1a1a1a" stroke-width="0.6">+500Kb</text>
<text transform="translate(537.87 381.40) rotate(-90) scale(1.018 1)" font-family="'Liberation Sans', sans-serif" font-size="27.5" text-anchor="middle" fill="#0d8383" stroke="#0d8383" stroke-width="1.2">Avg Muts</text>
</g>
<g>
<rect x="1166.00" y="315.40" width="156.10" height="134.00" fill="#dedad7"/>
<rect x="1322.10" y="315.40" width="154.90" height="134.00" fill="#f5c18f"/>
<text transform="translate(1143.90 323.20) scale(1.18 1)" font-family="'Liberation Sans', sans-serif" font-size="28.7" font-weight="normal" text-anchor="end" fill="#1a1a1a" stroke="#1a1a1a" stroke-width="0.6">0.25</text>
<line x1="1166.00" x2="1322.10" y1="383.00" y2="383.00" stroke="#e8e4e2" stroke-width="2.8"/>
<line x1="1322.10" x2="1477.00" y1="383.00" y2="383.00" stroke="#f8ca9e" stroke-width="2.8"/>
<text transform="translate(1143.90 390.80) scale(1.18 1)" font-family="'Liberation Sans', sans-serif" font-size="28.7" font-weight="normal" text-anchor="end" fill="#1a1a1a" stroke="#1a1a1a" stroke-width="0.6">0.20</text>
<text transform="translate(1143.90 457.20) scale(1.18 1)" font-family="'Liberation Sans', sans-serif" font-size="28.7" font-weight="normal" text-anchor="end" fill="#1a1a1a" stroke="#1a1a1a" stroke-width="0.6">0.15</text>
<line x1="1322.10" x2="1322.10" y1="315.40" y2="449.40" stroke="#7d7068" stroke-width="1.2"/>
<path d="M1167.8 356.7C1168.5 357.9 1173.7 365.7 1175.0 369.0C1176.3 372.3 1180.0 388.3 1181.0 390.0C1182.0 391.7 1183.7 392.7 1185.0 386.0C1186.3 379.3 1192.4 329.4 1194.0 323.0C1195.6 316.6 1199.7 319.3 1201.0 322.0C1202.3 324.7 1205.7 346.9 1207.0 350.0C1208.3 353.1 1212.7 352.9 1214.0 353.0C1215.3 353.1 1218.7 348.3 1220.0 351.0C1221.3 353.7 1225.4 377.1 1227.0 380.0C1228.6 382.9 1234.4 377.7 1236.0 380.0C1237.6 382.3 1241.4 400.3 1243.0 403.0C1244.6 405.7 1250.2 408.6 1252.0 407.0C1253.8 405.4 1259.5 389.5 1261.0 387.0C1262.5 384.5 1265.8 380.5 1267.0 382.0C1268.2 383.5 1271.7 403.2 1273.0 402.0C1274.3 400.8 1278.8 373.2 1280.0 370.0C1281.2 366.8 1283.9 366.4 1285.0 370.0C1286.1 373.6 1289.7 402.0 1291.0 406.0C1292.3 410.0 1296.6 410.7 1298.0 410.0C1299.4 409.3 1303.1 399.4 1305.0 399.0C1306.9 398.6 1315.0 404.4 1317.0 406.0C1319.0 407.6 1323.8 413.4 1325.0 415.0C1326.2 416.6 1328.1 423.8 1329.0 422.0C1329.9 420.2 1333.1 399.6 1334.0 397.0C1334.9 394.4 1337.0 393.5 1338.0 396.0C1339.0 398.5 1342.6 419.7 1344.0 422.0C1345.4 424.3 1350.5 419.7 1352.0 419.0C1353.5 418.3 1357.5 414.0 1359.0 415.0C1360.5 416.0 1365.7 428.7 1367.0 429.0C1368.3 429.3 1370.8 419.0 1372.0 418.0C1373.2 417.0 1377.4 416.7 1379.0 419.0C1380.6 421.3 1386.7 438.8 1388.0 441.0C1389.3 443.2 1391.0 444.9 1392.0 441.0C1393.0 437.1 1396.5 406.1 1398.0 402.0C1399.5 397.9 1404.7 399.3 1407.0 400.0C1409.3 400.7 1418.6 408.2 1421.0 409.0C1423.4 409.8 1429.6 405.0 1431.0 408.0C1432.4 411.0 1434.1 435.9 1435.0 439.0C1435.9 442.1 1438.9 441.5 1440.0 439.0C1441.1 436.5 1444.9 414.7 1446.0 414.0C1447.1 413.3 1449.3 430.0 1451.0 432.0C1452.7 434.0 1461.3 439.0 1463.0 434.0C1464.7 429.0 1467.0 387.3 1468.0 382.0C1469.0 376.7 1472.3 378.6 1473.0 381.0C1473.7 383.4 1475.0 403.4 1475.2 405.9" fill="none" stroke="#0d8383" stroke-width="10.6" stroke-linejoin="round" stroke-linecap="round" clip-path="url(#cp12)"/>
<text transform="translate(1322.00 301.20) scale(1.2 1)" font-family="'Liberation Sans', sans-serif" font-size="28.4" font-weight="normal" text-anchor="middle" fill="#1a1a1a" stroke="#1a1a1a" stroke-width="0.6">Cervix</text>
<text transform="translate(1167.60 489.70) scale(1.165 1)" font-family="'Liberation Sans', sans-serif" font-size="29" font-weight="normal" text-anchor="middle" fill="#1a1a1a" stroke="#1a1a1a" stroke-width="0.6">-500Kb</text>
<text transform="translate(1322.50 489.70) scale(1.165 1)" font-family="'Liberation Sans', sans-serif" font-size="29" font-weight="normal" text-anchor="middle" fill="#1a1a1a" stroke="#1a1a1a" stroke-width="0.6">B</text>
<text transform="translate(1478.20 489.70) scale(1.165 1)" font-family="'Liberation Sans', sans-serif" font-size="29" font-weight="normal" text-anchor="middle" fill="#1a1a1a" stroke="#1a1a1a" stroke-width="0.6">+500Kb</text>
<text transform="translate(1054.10 381.40) rotate(-90) scale(0.8 1)" font-family="'Liberation Sans', sans-serif" font-size="35" text-anchor="middle" fill="#0d8383" stroke="#0d8383" stroke-width="1.2">Avg Muts</text>
</g>
<g>
<rect x="1663.60" y="315.40" width="156.30" height="134.00" fill="#dedad7"/>
<rect x="1819.90" y="315.40" width="155.10" height="134.00" fill="#f5c18f"/>
<text transform="translate(1641.50 323.20) scale(1.18 1)" font-family="'Liberation Sans', sans-serif" font-size="28.7" font-weight="normal" text-anchor="end" fill="#1a1a1a" stroke="#1a1a1a" stroke-width="0.6">7.5</text>
<line x1="1663.60" x2="1819.90" y1="342.20" y2="342.20" stroke="#e8e4e2" stroke-width="2.8"/>
<line x1="1819.90" x2="1975.00" y1="342.20" y2="342.20" stroke="#f8ca9e" stroke-width="2.8"/>
<text transform="translate(1641.50 350.00) scale(1.18 1)" font-family="'Liberation Sans', sans-serif" font-size="28.7" font-weight="normal" text-anchor="end" fill="#1a1a1a" stroke="#1a1a1a" stroke-width="0.6">7.0</text>
<line x1="1663.60" x2="1819.90" y1="369.00" y2="369.00" stroke="#e8e4e2" stroke-width="2.8"/>
<line x1="1819.90" x2="1975.00" y1="369.00" y2="369.00" stroke="#f8ca9e" stroke-width="2.8"/>
<text transform="translate(1641.50 376.80) scale(1.18 1)" font-family="'Liberation Sans', sans-serif" font-size="28.7" font-weight="normal" text-anchor="end" fill="#1a1a1a" stroke="#1a1a1a" stroke-width="0.6">6.5</text>
<line x1="1663.60" x2="1819.90" y1="396.00" y2="396.00" stroke="#e8e4e2" stroke-width="2.8"/>
<line x1="1819.90" x2="1975.00" y1="396.00" y2="396.00" stroke="#f8ca9e" stroke-width="2.8"/>
<text transform="translate(1641.50 403.80) scale(1.18 1)" font-family="'Liberation Sans', sans-serif" font-size="28.7" font-weight="normal" text-anchor="end" fill="#1a1a1a" stroke="#1a1a1a" stroke-width="0.6">6.0</text>
<line x1="1663.60" x2="1819.90" y1="423.00" y2="423.00" stroke="#e8e4e2" stroke-width="2.8"/>
<line x1="1819.90" x2="1975.00" y1="423.00" y2="423.00" stroke="#f8ca9e" stroke-width="2.8"/>
<text transform="translate(1641.50 430.80) scale(1.18 1)" font-family="'Liberation Sans', sans-serif" font-size="28.7" font-weight="normal" text-anchor="end" fill="#1a1a1a" stroke="#1a1a1a" stroke-width="0.6">5.5</text>
<text transform="translate(1641.50 457.20) scale(1.18 1)" font-family="'Liberation Sans', sans-serif" font-size="28.7" font-weight="normal" text-anchor="end" fill="#1a1a1a" stroke="#1a1a1a" stroke-width="0.6">5.0</text>
<line x1="1819.90" x2="1819.90" y1="315.40" y2="449.40" stroke="#7d7068" stroke-width="1.2"/>
<path d="M1665.4 328.2C1666.1 328.8 1670.6 331.9 1672.0 334.0C1673.4 336.1 1677.5 347.9 1679.0 349.0C1680.5 350.1 1685.2 344.9 1687.0 345.0C1688.8 345.1 1695.2 349.3 1697.0 350.0C1698.8 350.7 1703.4 351.7 1705.0 352.0C1706.6 352.3 1711.4 352.5 1713.0 353.0C1714.6 353.5 1719.5 356.0 1721.0 357.0C1722.5 358.0 1726.7 362.1 1728.0 363.0C1729.3 363.9 1732.8 365.2 1734.0 366.0C1735.2 366.8 1738.0 369.8 1740.0 371.0C1742.0 372.2 1751.4 376.7 1754.0 378.0C1756.6 379.3 1764.2 382.5 1766.0 384.0C1767.8 385.5 1770.6 391.1 1772.0 393.0C1773.4 394.9 1778.2 401.4 1780.0 403.0C1781.8 404.6 1787.8 407.7 1790.0 409.0C1792.2 410.3 1800.2 414.5 1802.0 416.0C1803.8 417.5 1806.8 422.4 1808.0 424.0C1809.2 425.6 1812.8 430.9 1814.0 432.0C1815.2 433.1 1818.0 434.7 1820.0 435.0C1822.0 435.3 1831.8 434.5 1834.0 435.0C1836.2 435.5 1840.2 440.0 1842.0 440.0C1843.8 440.0 1849.6 435.7 1852.0 435.0C1854.4 434.3 1863.0 433.6 1866.0 433.0C1869.0 432.4 1879.6 429.3 1882.0 429.0C1884.4 428.7 1887.8 430.2 1890.0 430.0C1892.2 429.8 1901.7 426.1 1904.0 427.0C1906.3 427.9 1910.8 438.6 1913.0 439.0C1915.2 439.4 1923.7 431.9 1926.0 431.0C1928.3 430.1 1934.2 429.8 1936.0 430.0C1937.8 430.2 1942.4 433.5 1944.0 433.0C1945.6 432.5 1950.4 425.6 1952.0 425.0C1953.6 424.4 1958.4 426.4 1960.0 427.0C1961.6 427.6 1966.7 431.0 1968.0 431.0C1969.3 431.0 1972.7 427.0 1973.2 426.5" fill="none" stroke="#0d8383" stroke-width="10.6" stroke-linejoin="round" stroke-linecap="round" clip-path="url(#cp13)"/>
<text transform="translate(1819.80 301.20) scale(1.2 1)" font-family="'Liberation Sans', sans-serif" font-size="28.4" font-weight="normal" text-anchor="middle" fill="#1a1a1a" stroke="#1a1a1a" stroke-width="0.6">ColoRect-AdenoCA</text>
<text transform="translate(1665.20 489.70) scale(1.165 1)" font-family="'Liberation Sans', sans-serif" font-size="29" font-weight="normal" text-anchor="middle" fill="#1a1a1a" stroke="#1a1a1a" stroke-width="0.6">-500Kb</text>
<text transform="translate(1820.30 489.70) scale(1.165 1)" font-family="'Liberation Sans', sans-serif" font-size="29" font-weight="normal" text-anchor="middle" fill="#1a1a1a" stroke="#1a1a1a" stroke-width="0.6">B</text>
<text transform="translate(1976.20 489.70) scale(1.165 1)" font-family="'Liberation Sans', sans-serif" font-size="29" font-weight="normal" text-anchor="middle" fill="#1a1a1a" stroke="#1a1a1a" stroke-width="0.6">+500Kb</text>
<text transform="translate(1570.03 381.40) rotate(-90) scale(0.8 1)" font-family="'Liberation Sans', sans-serif" font-size="35" text-anchor="middle" fill="#0d8383" stroke="#0d8383" stroke-width="1.2">Avg Muts</text>
</g>
<g>
<rect x="170.00" y="550.00" width="156.60" height="134.00" fill="#dedad7"/>
<rect x="326.60" y="550.00" width="155.40" height="134.00" fill="#f5c18f"/>
<text transform="translate(149.20 557.80) scale(1.18 1)" font-family="'Liberation Sans', sans-serif" font-size="28.7" font-weight="normal" text-anchor="end" fill="#1a1a1a" stroke="#1a1a1a" stroke-width="0.6">1.2</text>
<line x1="170.00" x2="326.60" y1="583.60" y2="583.60" stroke="#e8e4e2" stroke-width="2.8"/>
<line x1="326.60" x2="482.00" y1="583.60" y2="583.60" stroke="#f8ca9e" stroke-width="2.8"/>
<text transform="translate(149.20 591.40) scale(1.18 1)" font-family="'Liberation Sans', sans-serif" font-size="28.7" font-weight="normal" text-anchor="end" fill="#1a1a1a" stroke="#1a1a1a" stroke-width="0.6">1.0</text>
<line x1="170.00" x2="326.60" y1="617.20" y2="617.20" stroke="#e8e4e2" stroke-width="2.8"/>
<line x1="326.60" x2="482.00" y1="617.20" y2="617.20" stroke="#f8ca9e" stroke-width="2.8"/>
<text transform="translate(149.20 625.00) scale(1.18 1)" font-family="'Liberation Sans', sans-serif" font-size="28.7" font-weight="normal" text-anchor="end" fill="#1a1a1a" stroke="#1a1a1a" stroke-width="0.6">0.8</text>
<line x1="170.00" x2="326.60" y1="651.00" y2="651.00" stroke="#e8e4e2" stroke-width="2.8"/>
<line x1="326.60" x2="482.00" y1="651.00" y2="651.00" stroke="#f8ca9e" stroke-width="2.8"/>
<text transform="translate(149.20 658.80) scale(1.18 1)" font-family="'Liberation Sans', sans-serif" font-size="28.7" font-weight="normal" text-anchor="end" fill="#1a1a1a" stroke="#1a1a1a" stroke-width="0.6">0.6</text>
<text transform="translate(149.20 691.80) scale(1.18 1)" font-family="'Liberation Sans', sans-serif" font-size="28.7" font-weight="normal" text-anchor="end" fill="#1a1a1a" stroke="#1a1a1a" stroke-width="0.6">0.4</text>
<line x1="326.60" x2="326.60" y1="550.00" y2="684.00" stroke="#7d7068" stroke-width="1.2"/>
<path d="M171.8 560.8C172.4 561.4 176.6 566.4 178.0 567.0C179.4 567.6 184.4 567.1 186.0 567.0C187.6 566.9 192.4 565.8 194.0 566.0C195.6 566.2 200.4 568.4 202.0 569.0C203.6 569.6 208.4 572.2 210.0 572.0C211.6 571.8 216.4 566.8 218.0 567.0C219.6 567.2 224.2 572.9 226.0 574.0C227.8 575.1 233.7 577.1 236.0 578.0C238.3 578.9 247.0 581.8 249.0 583.0C251.0 584.2 254.5 588.4 256.0 590.0C257.5 591.6 262.4 597.0 264.0 599.0C265.6 601.0 270.4 608.7 272.0 610.0C273.6 611.3 278.6 610.2 280.0 612.0C281.4 613.8 284.6 625.1 286.0 628.0C287.4 630.9 292.2 639.6 294.0 641.0C295.8 642.4 302.2 640.5 304.0 642.0C305.8 643.5 310.4 653.6 312.0 656.0C313.6 658.4 318.4 664.5 320.0 666.0C321.6 667.5 326.0 670.4 328.0 671.0C330.0 671.6 337.8 671.6 340.0 672.0C342.2 672.4 347.6 674.9 350.0 675.0C352.4 675.1 361.0 672.9 364.0 673.0C367.0 673.1 376.4 676.2 380.0 676.0C383.6 675.8 395.8 671.8 400.0 671.0C404.2 670.2 418.4 668.0 422.0 668.0C425.6 668.0 433.2 671.2 436.0 671.0C438.8 670.8 447.6 666.3 450.0 666.0C452.4 665.7 457.4 668.2 460.0 668.0C462.6 667.8 474.0 664.7 476.0 664.4C478.0 664.1 479.8 664.7 480.2 664.8" fill="none" stroke="#0d8383" stroke-width="10.6" stroke-linejoin="round" stroke-linecap="round" clip-path="url(#cp20)"/>
<text transform="translate(326.50 535.80) scale(1.2 1)" font-family="'Liberation Sans', sans-serif" font-size="28.4" font-weight="normal" text-anchor="middle" fill="#1a1a1a" stroke="#1a1a1a" stroke-width="0.6">Eso-AdenoCA</text>
<text transform="translate(171.60 724.30) scale(1.165 1)" font-family="'Liberation Sans', sans-serif" font-size="29" font-weight="normal" text-anchor="middle" fill="#1a1a1a" stroke="#1a1a1a" stroke-width="0.6">-500Kb</text>
<text transform="translate(327.00 724.30) scale(1.165 1)" font-family="'Liberation Sans', sans-serif" font-size="29" font-weight="normal" text-anchor="middle" fill="#1a1a1a" stroke="#1a1a1a" stroke-width="0.6">B</text>
<text transform="translate(483.20 724.30) scale(1.165 1)" font-family="'Liberation Sans', sans-serif" font-size="29" font-weight="normal" text-anchor="middle" fill="#1a1a1a" stroke="#1a1a1a" stroke-width="0.6">+500Kb</text>
<text transform="translate(78.43 616.00) rotate(-90) scale(0.8 1)" font-family="'Liberation Sans', sans-serif" font-size="35" text-anchor="middle" fill="#0d8383" stroke="#0d8383" stroke-width="1.2">Avg Muts</text>
</g>
<g>
<rect x="668.40" y="550.00" width="156.40" height="134.00" fill="#dedad7"/>
<rect x="824.80" y="550.00" width="155.20" height="134.00" fill="#f5c18f"/>
<line x1="668.40" x2="824.80" y1="550.80" y2="550.80" stroke="#e8e4e2" stroke-width="2.8"/>
<line x1="824.80" x2="980.00" y1="550.80" y2="550.80" stroke="#f8ca9e" stroke-width="2.8"/>
<text transform="translate(646.30 558.60) scale(1.18 1)" font-family="'Liberation Sans', sans-serif" font-size="28.7" font-weight="normal" text-anchor="end" fill="#1a1a1a" stroke="#1a1a1a" stroke-width="0.6">0.6</text>
<line x1="668.40" x2="824.80" y1="604.00" y2="604.00" stroke="#e8e4e2" stroke-width="2.8"/>
<line x1="824.80" x2="980.00" y1="604.00" y2="604.00" stroke="#f8ca9e" stroke-width="2.8"/>
<text transform="translate(646.30 611.80) scale(1.18 1)" font-family="'Liberation Sans', sans-serif" font-size="28.7" font-weight="normal" text-anchor="end" fill="#1a1a1a" stroke="#1a1a1a" stroke-width="0.6">0.5</text>
<line x1="668.40" x2="824.80" y1="657.00" y2="657.00" stroke="#e8e4e2" stroke-width="2.8"/>
<line x1="824.80" x2="980.00" y1="657.00" y2="657.00" stroke="#f8ca9e" stroke-width="2.8"/>
<text transform="translate(646.30 664.80) scale(1.18 1)" font-family="'Liberation Sans', sans-serif" font-size="28.7" font-weight="normal" text-anchor="end" fill="#1a1a1a" stroke="#1a1a1a" stroke-width="0.6">0.4</text>
<line x1="824.80" x2="824.80" y1="550.00" y2="684.00" stroke="#7d7068" stroke-width="1.2"/>
<path d="M670.2 564.0C670.8 563.5 674.7 558.0 676.0 559.0C677.3 560.0 681.5 573.2 683.0 574.0C684.5 574.8 689.3 567.5 691.0 567.0C692.7 566.5 697.6 568.2 700.0 569.0C702.4 569.8 712.7 575.3 715.0 575.0C717.3 574.7 721.5 565.1 723.0 566.0C724.5 566.9 727.9 581.9 730.0 584.0C732.1 586.1 741.6 587.3 744.0 587.0C746.4 586.7 752.2 580.8 754.0 581.0C755.8 581.2 760.7 585.8 762.0 589.0C763.3 592.2 765.6 609.7 767.0 613.0C768.4 616.3 774.3 620.4 776.0 622.0C777.7 623.6 782.3 628.5 784.0 629.0C785.7 629.5 791.4 626.1 793.0 627.0C794.6 627.9 798.5 635.7 800.0 638.0C801.5 640.3 806.4 648.2 808.0 650.0C809.6 651.8 814.4 655.0 816.0 656.0C817.6 657.0 822.4 659.1 824.0 660.0C825.6 660.9 830.4 665.2 832.0 665.0C833.6 664.8 838.5 658.9 840.0 658.0C841.5 657.1 845.5 655.3 847.0 656.0C848.5 656.7 853.5 664.3 855.0 665.0C856.5 665.7 860.5 662.5 862.0 663.0C863.5 663.5 868.4 669.1 870.0 670.0C871.6 670.9 876.4 671.7 878.0 672.0C879.6 672.3 884.0 673.5 886.0 673.0C888.0 672.5 895.8 668.3 898.0 667.0C900.2 665.7 906.0 660.1 908.0 660.0C910.0 659.9 916.3 665.2 918.0 666.0C919.7 666.8 923.6 669.2 925.0 668.0C926.4 666.8 930.5 654.1 932.0 654.0C933.5 653.9 938.5 666.5 940.0 667.0C941.5 667.5 945.4 659.5 947.0 659.0C948.6 658.5 954.3 662.0 956.0 662.0C957.7 662.0 962.4 659.5 964.0 659.0C965.6 658.5 970.6 657.8 972.0 657.0C973.4 656.2 977.6 651.4 978.2 650.8" fill="none" stroke="#0d8383" stroke-width="10.6" stroke-linejoin="round" stroke-linecap="round" clip-path="url(#cp21)"/>
<text transform="translate(824.70 535.80) scale(1.2 1)" font-family="'Liberation Sans', sans-serif" font-size="28.4" font-weight="normal" text-anchor="middle" fill="#1a1a1a" stroke="#1a1a1a" stroke-width="0.6">Head-SCC</text>
<text transform="translate(670.00 724.30) scale(1.165 1)" font-family="'Liberation Sans', sans-serif" font-size="29" font-weight="normal" text-anchor="middle" fill="#1a1a1a" stroke="#1a1a1a" stroke-width="0.6">-500Kb</text>
<text transform="translate(825.20 724.30) scale(1.165 1)" font-family="'Liberation Sans', sans-serif" font-size="29" font-weight="normal" text-anchor="middle" fill="#1a1a1a" stroke="#1a1a1a" stroke-width="0.6">B</text>
<text transform="translate(981.20 724.30) scale(1.165 1)" font-family="'Liberation Sans', sans-serif" font-size="29" font-weight="normal" text-anchor="middle" fill="#1a1a1a" stroke="#1a1a1a" stroke-width="0.6">+500Kb</text>
<text transform="translate(575.53 616.00) rotate(-90) scale(0.8 1)" font-family="'Liberation Sans', sans-serif" font-size="35" text-anchor="middle" fill="#0d8383" stroke="#0d8383" stroke-width="1.2">Avg Muts</text>
</g>
<g>
<rect x="1166.00" y="550.00" width="156.10" height="134.00" fill="#dedad7"/>
<rect x="1322.10" y="550.00" width="154.90" height="134.00" fill="#f5c18f"/>
<line x1="1166.00" x2="1322.10" y1="577.00" y2="577.00" stroke="#e8e4e2" stroke-width="2.8"/>
<line x1="1322.10" x2="1477.00" y1="577.00" y2="577.00" stroke="#f8ca9e" stroke-width="2.8"/>
<text transform="translate(1143.90 584.80) scale(1.18 1)" font-family="'Liberation Sans', sans-serif" font-size="28.7" font-weight="normal" text-anchor="end" fill="#1a1a1a" stroke="#1a1a1a" stroke-width="0.6">0.22</text>
<line x1="1166.00" x2="1322.10" y1="630.00" y2="630.00" stroke="#e8e4e2" stroke-width="2.8"/>
<line x1="1322.10" x2="1477.00" y1="630.00" y2="630.00" stroke="#f8ca9e" stroke-width="2.8"/>
<text transform="translate(1143.90 637.80) scale(1.18 1)" font-family="'Liberation Sans', sans-serif" font-size="28.7" font-weight="normal" text-anchor="end" fill="#1a1a1a" stroke="#1a1a1a" stroke-width="0.6">0.20</text>
<line x1="1166.00" x2="1322.10" y1="683.00" y2="683.00" stroke="#e8e4e2" stroke-width="2.8"/>
<line x1="1322.10" x2="1477.00" y1="683.00" y2="683.00" stroke="#f8ca9e" stroke-width="2.8"/>
<text transform="translate(1143.90 690.80) scale(1.18 1)" font-family="'Liberation Sans', sans-serif" font-size="28.7" font-weight="normal" text-anchor="end" fill="#1a1a1a" stroke="#1a1a1a" stroke-width="0.6">0.18</text>
<line x1="1322.10" x2="1322.10" y1="550.00" y2="684.00" stroke="#7d7068" stroke-width="1.2"/>
<path d="M1167.8 579.7C1168.3 579.1 1171.7 574.2 1173.0 574.0C1174.3 573.8 1179.4 576.0 1181.0 578.0C1182.6 580.0 1187.5 594.5 1189.0 594.0C1190.5 593.5 1194.5 572.9 1196.0 573.0C1197.5 573.1 1202.2 592.7 1204.0 595.0C1205.8 597.3 1212.6 599.9 1214.0 596.0C1215.4 592.1 1217.1 560.1 1218.0 556.0C1218.9 551.9 1221.9 552.1 1223.0 555.0C1224.1 557.9 1227.6 584.2 1229.0 585.0C1230.4 585.8 1235.6 565.5 1237.0 563.0C1238.4 560.5 1241.8 559.1 1243.0 560.0C1244.2 560.9 1247.5 567.6 1249.0 572.0C1250.5 576.4 1256.2 600.0 1258.0 604.0C1259.8 608.0 1265.4 610.2 1267.0 612.0C1268.6 613.8 1272.4 620.9 1274.0 622.0C1275.6 623.1 1281.3 621.9 1283.0 623.0C1284.7 624.1 1289.5 631.5 1291.0 633.0C1292.5 634.5 1296.5 638.5 1298.0 638.0C1299.5 637.5 1304.5 627.7 1306.0 628.0C1307.5 628.3 1311.5 637.4 1313.0 641.0C1314.5 644.6 1319.4 662.9 1321.0 664.0C1322.6 665.1 1327.5 652.6 1329.0 652.0C1330.5 651.4 1333.8 657.9 1336.0 658.0C1338.2 658.1 1348.5 654.4 1351.0 653.0C1353.5 651.6 1359.3 645.8 1361.0 644.0C1362.7 642.2 1366.6 634.1 1368.0 635.0C1369.4 635.9 1373.5 652.0 1375.0 653.0C1376.5 654.0 1381.4 644.9 1383.0 645.0C1384.6 645.1 1389.3 652.8 1391.0 654.0C1392.7 655.2 1398.6 653.8 1400.0 657.0C1401.4 660.2 1404.0 683.0 1405.0 686.0C1406.0 689.0 1409.0 690.1 1410.0 687.0C1411.0 683.9 1413.8 658.3 1415.0 655.0C1416.2 651.7 1420.4 653.3 1422.0 654.0C1423.6 654.7 1429.3 660.4 1431.0 662.0C1432.7 663.6 1437.3 669.5 1439.0 670.0C1440.7 670.5 1446.6 670.2 1448.0 667.0C1449.4 663.8 1452.1 640.8 1453.0 638.0C1453.9 635.2 1456.0 636.2 1457.0 639.0C1458.0 641.8 1461.9 664.3 1463.0 666.0C1464.1 667.7 1467.2 657.2 1468.0 656.0C1468.8 654.8 1470.3 654.6 1470.6 654.4" fill="none" stroke="#0d8383" stroke-width="10.6" stroke-linejoin="round" stroke-linecap="round" clip-path="url(#cp22)"/>
<text transform="translate(1322.00 535.80) scale(1.2 1)" font-family="'Liberation Sans', sans-serif" font-size="28.4" font-weight="normal" text-anchor="middle" fill="#1a1a1a" stroke="#1a1a1a" stroke-width="0.6">Kidney-RCC</text>
<text transform="translate(1167.60 724.30) scale(1.165 1)" font-family="'Liberation Sans', sans-serif" font-size="29" font-weight="normal" text-anchor="middle" fill="#1a1a1a" stroke="#1a1a1a" stroke-width="0.6">-500Kb</text>
<text transform="translate(1322.50 724.30) scale(1.165 1)" font-family="'Liberation Sans', sans-serif" font-size="29" font-weight="normal" text-anchor="middle" fill="#1a1a1a" stroke="#1a1a1a" stroke-width="0.6">B</text>
<text transform="translate(1478.20 724.30) scale(1.165 1)" font-family="'Liberation Sans', sans-serif" font-size="29" font-weight="normal" text-anchor="middle" fill="#1a1a1a" stroke="#1a1a1a" stroke-width="0.6">+500Kb</text>
<text transform="translate(1054.10 616.00) rotate(-90) scale(0.8 1)" font-family="'Liberation Sans', sans-serif" font-size="35" text-anchor="middle" fill="#0d8383" stroke="#0d8383" stroke-width="1.2">Avg Muts</text>
</g>
<g>
<rect x="1663.60" y="550.00" width="156.30" height="134.00" fill="#dedad7"/>
<rect x="1819.90" y="550.00" width="155.10" height="134.00" fill="#f5c18f"/>
<text transform="translate(1641.50 557.80) scale(1.18 1)" font-family="'Liberation Sans', sans-serif" font-size="28.7" font-weight="normal" text-anchor="end" fill="#1a1a1a" stroke="#1a1a1a" stroke-width="0.6">0.50</text>
<line x1="1663.60" x2="1819.90" y1="583.60" y2="583.60" stroke="#e8e4e2" stroke-width="2.8"/>
<line x1="1819.90" x2="1975.00" y1="583.60" y2="583.60" stroke="#f8ca9e" stroke-width="2.8"/>
<text transform="translate(1641.50 591.40) scale(1.18 1)" font-family="'Liberation Sans', sans-serif" font-size="28.7" font-weight="normal" text-anchor="end" fill="#1a1a1a" stroke="#1a1a1a" stroke-width="0.6">0.45</text>
<line x1="1663.60" x2="1819.90" y1="617.20" y2="617.20" stroke="#e8e4e2" stroke-width="2.8"/>
<line x1="1819.90" x2="1975.00" y1="617.20" y2="617.20" stroke="#f8ca9e" stroke-width="2.8"/>
<text transform="translate(1641.50 625.00) scale(1.18 1)" font-family="'Liberation Sans', sans-serif" font-size="28.7" font-weight="normal" text-anchor="end" fill="#1a1a1a" stroke="#1a1a1a" stroke-width="0.6">0.40</text>
<line x1="1663.60" x2="1819.90" y1="651.00" y2="651.00" stroke="#e8e4e2" stroke-width="2.8"/>
<line x1="1819.90" x2="1975.00" y1="651.00" y2="651.00" stroke="#f8ca9e" stroke-width="2.8"/>
<text transform="translate(1641.50 658.80) scale(1.18 1)" font-family="'Liberation Sans', sans-serif" font-size="28.7" font-weight="normal" text-anchor="end" fill="#1a1a1a" stroke="#1a1a1a" stroke-width="0.6">0.35</text>
<text transform="translate(1641.50 691.80) scale(1.18 1)" font-family="'Liberation Sans', sans-serif" font-size="28.7" font-weight="normal" text-anchor="end" fill="#1a1a1a" stroke="#1a1a1a" stroke-width="0.6">0.30</text>
<line x1="1819.90" x2="1819.90" y1="550.00" y2="684.00" stroke="#7d7068" stroke-width="1.2"/>
<path d="M1665.4 570.8C1666.1 571.3 1670.5 575.6 1672.0 576.0C1673.5 576.4 1678.4 574.7 1680.0 575.0C1681.6 575.3 1685.8 578.4 1688.0 579.0C1690.2 579.6 1699.8 580.3 1702.0 581.0C1704.2 581.7 1708.2 585.3 1710.0 586.0C1711.8 586.7 1718.2 587.4 1720.0 588.0C1721.8 588.6 1726.4 590.8 1728.0 592.0C1729.6 593.2 1734.6 598.9 1736.0 600.0C1737.4 601.1 1740.0 602.7 1742.0 603.0C1744.0 603.3 1753.8 601.7 1756.0 603.0C1758.2 604.3 1762.3 614.4 1764.0 616.0C1765.7 617.6 1771.4 617.1 1773.0 619.0C1774.6 620.9 1778.6 632.2 1780.0 635.0C1781.4 637.8 1785.4 646.0 1787.0 647.0C1788.6 648.0 1794.3 644.6 1796.0 645.0C1797.7 645.4 1802.4 649.3 1804.0 651.0C1805.6 652.7 1810.5 660.1 1812.0 662.0C1813.5 663.9 1817.4 669.5 1819.0 670.0C1820.6 670.5 1825.7 667.0 1828.0 667.0C1830.3 667.0 1839.2 669.5 1842.0 670.0C1844.8 670.5 1853.6 672.0 1856.0 672.0C1858.4 672.0 1864.0 669.9 1866.0 670.0C1868.0 670.1 1873.6 672.8 1876.0 673.0C1878.4 673.2 1887.8 671.5 1890.0 672.0C1892.2 672.5 1896.5 677.7 1898.0 678.0C1899.5 678.3 1903.6 675.4 1905.0 675.0C1906.4 674.6 1910.5 674.7 1912.0 674.0C1913.5 673.3 1918.4 667.9 1920.0 668.0C1921.6 668.1 1926.4 674.0 1928.0 675.0C1929.6 676.0 1933.6 678.0 1936.0 678.0C1938.4 678.0 1949.2 675.8 1952.0 675.0C1954.8 674.2 1961.9 670.7 1964.0 670.0C1966.1 669.3 1972.3 668.5 1973.2 668.3" fill="none" stroke="#0d8383" stroke-width="10.6" stroke-linejoin="round" stroke-linecap="round" clip-path="url(#cp23)"/>
<text transform="translate(1819.80 535.80) scale(1.2 1)" font-family="'Liberation Sans', sans-serif" font-size="28.4" font-weight="normal" text-anchor="middle" fill="#1a1a1a" stroke="#1a1a1a" stroke-width="0.6">Liver-HCC</text>
<text transform="translate(1665.20 724.30) scale(1.165 1)" font-family="'Liberation Sans', sans-serif" font-size="29" font-weight="normal" text-anchor="middle" fill="#1a1a1a" stroke="#1a1a1a" stroke-width="0.6">-500Kb</text>
<text transform="translate(1820.30 724.30) scale(1.165 1)" font-family="'Liberation Sans', sans-serif" font-size="29" font-weight="normal" text-anchor="middle" fill="#1a1a1a" stroke="#1a1a1a" stroke-width="0.6">B</text>
<text transform="translate(1976.20 724.30) scale(1.165 1)" font-family="'Liberation Sans', sans-serif" font-size="29" font-weight="normal" text-anchor="middle" fill="#1a1a1a" stroke="#1a1a1a" stroke-width="0.6">+500Kb</text>
<text transform="translate(1551.20 616.00) rotate(-90) scale(0.8 1)" font-family="'Liberation Sans', sans-serif" font-size="35" text-anchor="middle" fill="#0d8383" stroke="#0d8383" stroke-width="1.2">Avg Muts</text>
</g>
<g>
<rect x="170.00" y="784.60" width="156.60" height="134.00" fill="#dedad7"/>
<rect x="326.60" y="784.60" width="155.40" height="134.00" fill="#f5c18f"/>
<text transform="translate(149.20 792.40) scale(1.18 1)" font-family="'Liberation Sans', sans-serif" font-size="28.7" font-weight="normal" text-anchor="end" fill="#1a1a1a" stroke="#1a1a1a" stroke-width="0.6">1.6</text>
<line x1="170.00" x2="326.60" y1="811.60" y2="811.60" stroke="#e8e4e2" stroke-width="2.8"/>
<line x1="326.60" x2="482.00" y1="811.60" y2="811.60" stroke="#f8ca9e" stroke-width="2.8"/>
<text transform="translate(149.20 819.40) scale(1.18 1)" font-family="'Liberation Sans', sans-serif" font-size="28.7" font-weight="normal" text-anchor="end" fill="#1a1a1a" stroke="#1a1a1a" stroke-width="0.6">1.4</text>
<line x1="170.00" x2="326.60" y1="838.40" y2="838.40" stroke="#e8e4e2" stroke-width="2.8"/>
<line x1="326.60" x2="482.00" y1="838.40" y2="838.40" stroke="#f8ca9e" stroke-width="2.8"/>
<text transform="translate(149.20 846.20) scale(1.18 1)" font-family="'Liberation Sans', sans-serif" font-size="28.7" font-weight="normal" text-anchor="end" fill="#1a1a1a" stroke="#1a1a1a" stroke-width="0.6">1.2</text>
<line x1="170.00" x2="326.60" y1="865.00" y2="865.00" stroke="#e8e4e2" stroke-width="2.8"/>
<line x1="326.60" x2="482.00" y1="865.00" y2="865.00" stroke="#f8ca9e" stroke-width="2.8"/>
<text transform="translate(149.20 872.80) scale(1.18 1)" font-family="'Liberation Sans', sans-serif" font-size="28.7" font-weight="normal" text-anchor="end" fill="#1a1a1a" stroke="#1a1a1a" stroke-width="0.6">1.0</text>
<line x1="170.00" x2="326.60" y1="892.00" y2="892.00" stroke="#e8e4e2" stroke-width="2.8"/>
<line x1="326.60" x2="482.00" y1="892.00" y2="892.00" stroke="#f8ca9e" stroke-width="2.8"/>
<text transform="translate(149.20 899.80) scale(1.18 1)" font-family="'Liberation Sans', sans-serif" font-size="28.7" font-weight="normal" text-anchor="end" fill="#1a1a1a" stroke="#1a1a1a" stroke-width="0.6">0.8</text>
<text transform="translate(149.20 926.40) scale(1.18 1)" font-family="'Liberation Sans', sans-serif" font-size="28.7" font-weight="normal" text-anchor="end" fill="#1a1a1a" stroke="#1a1a1a" stroke-width="0.6">0.6</text>
<line x1="326.60" x2="326.60" y1="784.60" y2="918.60" stroke="#7d7068" stroke-width="1.2"/>
<path d="M171.8 814.3C172.4 815.2 176.7 823.4 178.0 824.0C179.3 824.6 183.5 820.7 185.0 820.0C186.5 819.3 191.3 816.8 193.0 817.0C194.7 817.2 200.3 821.6 202.0 822.0C203.7 822.4 208.5 821.9 210.0 821.0C211.5 820.1 215.5 814.1 217.0 813.0C218.5 811.9 223.6 809.2 225.0 810.0C226.4 810.8 229.5 819.3 231.0 821.0C232.5 822.7 238.3 826.9 240.0 827.0C241.7 827.1 246.4 822.2 248.0 822.0C249.6 821.8 254.4 824.0 256.0 825.0C257.6 826.0 262.4 831.0 264.0 832.0C265.6 833.0 270.5 833.7 272.0 835.0C273.5 836.3 277.4 842.9 279.0 845.0C280.6 847.1 286.3 854.2 288.0 856.0C289.7 857.8 294.2 861.9 296.0 863.0C297.8 864.1 304.3 865.9 306.0 867.0C307.7 868.1 311.7 871.7 313.0 874.0C314.3 876.3 317.7 887.8 319.0 890.0C320.3 892.2 324.5 895.9 326.0 896.0C327.5 896.1 332.5 891.8 334.0 891.0C335.5 890.2 339.4 887.8 341.0 888.0C342.6 888.2 348.4 892.5 350.0 893.0C351.6 893.5 355.5 893.6 357.0 893.0C358.5 892.4 363.4 887.2 365.0 887.0C366.6 886.8 371.5 890.5 373.0 891.0C374.5 891.5 378.5 892.3 380.0 892.0C381.5 891.7 386.4 888.1 388.0 888.0C389.6 887.9 393.8 890.7 396.0 891.0C398.2 891.3 407.7 890.6 410.0 891.0C412.3 891.4 417.2 895.0 419.0 895.0C420.8 895.0 426.4 891.9 428.0 891.0C429.6 890.1 433.6 885.9 435.0 886.0C436.4 886.1 440.5 892.6 442.0 892.0C443.5 891.4 448.4 880.8 450.0 880.0C451.6 879.2 456.4 883.3 458.0 884.0C459.6 884.7 464.4 887.2 466.0 887.0C467.6 886.8 472.6 882.1 474.0 882.0C475.4 881.9 479.6 885.2 480.2 885.5" fill="none" stroke="#0d8383" stroke-width="10.6" stroke-linejoin="round" stroke-linecap="round" clip-path="url(#cp30)"/>
<text transform="translate(326.50 770.40) scale(1.2 1)" font-family="'Liberation Sans', sans-serif" font-size="28.4" font-weight="normal" text-anchor="middle" fill="#1a1a1a" stroke="#1a1a1a" stroke-width="0.6">Lung-AdenoCA</text>
<text transform="translate(171.60 958.90) scale(1.165 1)" font-family="'Liberation Sans', sans-serif" font-size="29" font-weight="normal" text-anchor="middle" fill="#1a1a1a" stroke="#1a1a1a" stroke-width="0.6">-500Kb</text>
<text transform="translate(327.00 958.90) scale(1.165 1)" font-family="'Liberation Sans', sans-serif" font-size="29" font-weight="normal" text-anchor="middle" fill="#1a1a1a" stroke="#1a1a1a" stroke-width="0.6">B</text>
<text transform="translate(483.20 958.90) scale(1.165 1)" font-family="'Liberation Sans', sans-serif" font-size="29" font-weight="normal" text-anchor="middle" fill="#1a1a1a" stroke="#1a1a1a" stroke-width="0.6">+500Kb</text>
<text transform="translate(78.43 850.60) rotate(-90) scale(0.8 1)" font-family="'Liberation Sans', sans-serif" font-size="35" text-anchor="middle" fill="#0d8383" stroke="#0d8383" stroke-width="1.2">Avg Muts</text>
</g>
<g>
<rect x="668.40" y="784.60" width="156.40" height="134.00" fill="#dedad7"/>
<rect x="824.80" y="784.60" width="155.20" height="134.00" fill="#f5c18f"/>
<text transform="translate(646.30 792.40) scale(1.18 1)" font-family="'Liberation Sans', sans-serif" font-size="28.7" font-weight="normal" text-anchor="end" fill="#1a1a1a" stroke="#1a1a1a" stroke-width="0.6">1.8</text>
<line x1="668.40" x2="824.80" y1="811.60" y2="811.60" stroke="#e8e4e2" stroke-width="2.8"/>
<line x1="824.80" x2="980.00" y1="811.60" y2="811.60" stroke="#f8ca9e" stroke-width="2.8"/>
<text transform="translate(646.30 819.40) scale(1.18 1)" font-family="'Liberation Sans', sans-serif" font-size="28.7" font-weight="normal" text-anchor="end" fill="#1a1a1a" stroke="#1a1a1a" stroke-width="0.6">1.6</text>
<line x1="668.40" x2="824.80" y1="838.40" y2="838.40" stroke="#e8e4e2" stroke-width="2.8"/>
<line x1="824.80" x2="980.00" y1="838.40" y2="838.40" stroke="#f8ca9e" stroke-width="2.8"/>
<text transform="translate(646.30 846.20) scale(1.18 1)" font-family="'Liberation Sans', sans-serif" font-size="28.7" font-weight="normal" text-anchor="end" fill="#1a1a1a" stroke="#1a1a1a" stroke-width="0.6">1.4</text>
<line x1="668.40" x2="824.80" y1="865.00" y2="865.00" stroke="#e8e4e2" stroke-width="2.8"/>
<line x1="824.80" x2="980.00" y1="865.00" y2="865.00" stroke="#f8ca9e" stroke-width="2.8"/>
<text transform="translate(646.30 872.80) scale(1.18 1)" font-family="'Liberation Sans', sans-serif" font-size="28.7" font-weight="normal" text-anchor="end" fill="#1a1a1a" stroke="#1a1a1a" stroke-width="0.6">1.2</text>
<line x1="668.40" x2="824.80" y1="892.00" y2="892.00" stroke="#e8e4e2" stroke-width="2.8"/>
<line x1="824.80" x2="980.00" y1="892.00" y2="892.00" stroke="#f8ca9e" stroke-width="2.8"/>
<text transform="translate(646.30 899.80) scale(1.18 1)" font-family="'Liberation Sans', sans-serif" font-size="28.7" font-weight="normal" text-anchor="end" fill="#1a1a1a" stroke="#1a1a1a" stroke-width="0.6">1.0</text>
<text transform="translate(646.30 926.40) scale(1.18 1)" font-family="'Liberation Sans', sans-serif" font-size="28.7" font-weight="normal" text-anchor="end" fill="#1a1a1a" stroke="#1a1a1a" stroke-width="0.6">0.8</text>
<line x1="824.80" x2="824.80" y1="784.60" y2="918.60" stroke="#7d7068" stroke-width="1.2"/>
<path d="M670.2 798.2C670.8 798.8 674.7 803.1 676.0 804.0C677.3 804.9 681.5 807.1 683.0 807.0C684.5 806.9 689.4 802.9 691.0 803.0C692.6 803.1 697.4 807.5 699.0 808.0C700.6 808.5 705.4 808.7 707.0 808.0C708.6 807.3 713.3 801.3 715.0 801.0C716.7 800.7 721.7 804.2 724.0 805.0C726.3 805.8 735.8 808.7 738.0 809.0C740.2 809.3 744.3 807.8 746.0 808.0C747.7 808.2 753.4 809.9 755.0 811.0C756.6 812.1 760.5 817.9 762.0 819.0C763.5 820.1 768.4 820.6 770.0 822.0C771.6 823.4 776.4 830.7 778.0 833.0C779.6 835.3 784.4 842.9 786.0 845.0C787.6 847.1 792.3 852.4 794.0 854.0C795.7 855.6 801.4 859.1 803.0 861.0C804.6 862.9 808.6 870.5 810.0 873.0C811.4 875.5 815.6 884.3 817.0 886.0C818.4 887.7 822.5 890.0 824.0 890.0C825.5 890.0 830.5 886.2 832.0 886.0C833.5 885.8 837.6 886.9 839.0 888.0C840.4 889.1 844.5 896.9 846.0 897.0C847.5 897.1 852.4 889.9 854.0 889.0C855.6 888.1 860.4 887.6 862.0 888.0C863.6 888.4 868.4 892.1 870.0 893.0C871.6 893.9 875.6 897.1 878.0 897.0C880.4 896.9 891.0 892.5 894.0 892.0C897.0 891.5 905.6 891.5 908.0 892.0C910.4 892.5 915.6 897.0 918.0 897.0C920.4 897.0 929.0 893.1 932.0 892.0C935.0 890.9 945.0 886.7 948.0 886.0C951.0 885.3 959.7 885.8 962.0 885.0C964.3 884.2 969.4 878.2 971.0 878.0C972.6 877.8 977.5 882.0 978.2 882.5" fill="none" stroke="#0d8383" stroke-width="10.6" stroke-linejoin="round" stroke-linecap="round" clip-path="url(#cp31)"/>
<text transform="translate(824.70 770.40) scale(1.2 1)" font-family="'Liberation Sans', sans-serif" font-size="28.4" font-weight="normal" text-anchor="middle" fill="#1a1a1a" stroke="#1a1a1a" stroke-width="0.6">Lung-SCC</text>
<text transform="translate(670.00 958.90) scale(1.165 1)" font-family="'Liberation Sans', sans-serif" font-size="29" font-weight="normal" text-anchor="middle" fill="#1a1a1a" stroke="#1a1a1a" stroke-width="0.6">-500Kb</text>
<text transform="translate(825.20 958.90) scale(1.165 1)" font-family="'Liberation Sans', sans-serif" font-size="29" font-weight="normal" text-anchor="middle" fill="#1a1a1a" stroke="#1a1a1a" stroke-width="0.6">B</text>
<text transform="translate(981.20 958.90) scale(1.165 1)" font-family="'Liberation Sans', sans-serif" font-size="29" font-weight="normal" text-anchor="middle" fill="#1a1a1a" stroke="#1a1a1a" stroke-width="0.6">+500Kb</text>
<text transform="translate(575.53 850.60) rotate(-90) scale(0.8 1)" font-family="'Liberation Sans', sans-serif" font-size="35" text-anchor="middle" fill="#0d8383" stroke="#0d8383" stroke-width="1.2">Avg Muts</text>
</g>
<g>
<rect x="1166.00" y="784.60" width="156.10" height="134.00" fill="#dedad7"/>
<rect x="1322.10" y="784.60" width="154.90" height="134.00" fill="#f5c18f"/>
<text transform="translate(1143.90 792.40) scale(1.18 1)" font-family="'Liberation Sans', sans-serif" font-size="28.7" font-weight="normal" text-anchor="end" fill="#1a1a1a" stroke="#1a1a1a" stroke-width="0.6">0.45</text>
<line x1="1166.00" x2="1322.10" y1="811.60" y2="811.60" stroke="#e8e4e2" stroke-width="2.8"/>
<line x1="1322.10" x2="1477.00" y1="811.60" y2="811.60" stroke="#f8ca9e" stroke-width="2.8"/>
<text transform="translate(1143.90 819.40) scale(1.18 1)" font-family="'Liberation Sans', sans-serif" font-size="28.7" font-weight="normal" text-anchor="end" fill="#1a1a1a" stroke="#1a1a1a" stroke-width="0.6">0.40</text>
<line x1="1166.00" x2="1322.10" y1="838.40" y2="838.40" stroke="#e8e4e2" stroke-width="2.8"/>
<line x1="1322.10" x2="1477.00" y1="838.40" y2="838.40" stroke="#f8ca9e" stroke-width="2.8"/>
<text transform="translate(1143.90 846.20) scale(1.18 1)" font-family="'Liberation Sans', sans-serif" font-size="28.7" font-weight="normal" text-anchor="end" fill="#1a1a1a" stroke="#1a1a1a" stroke-width="0.6">0.35</text>
<line x1="1166.00" x2="1322.10" y1="865.00" y2="865.00" stroke="#e8e4e2" stroke-width="2.8"/>
<line x1="1322.10" x2="1477.00" y1="865.00" y2="865.00" stroke="#f8ca9e" stroke-width="2.8"/>
<text transform="translate(1143.90 872.80) scale(1.18 1)" font-family="'Liberation Sans', sans-serif" font-size="28.7" font-weight="normal" text-anchor="end" fill="#1a1a1a" stroke="#1a1a1a" stroke-width="0.6">0.30</text>
<line x1="1166.00" x2="1322.10" y1="892.00" y2="892.00" stroke="#e8e4e2" stroke-width="2.8"/>
<line x1="1322.10" x2="1477.00" y1="892.00" y2="892.00" stroke="#f8ca9e" stroke-width="2.8"/>
<text transform="translate(1143.90 899.80) scale(1.18 1)" font-family="'Liberation Sans', sans-serif" font-size="28.7" font-weight="normal" text-anchor="end" fill="#1a1a1a" stroke="#1a1a1a" stroke-width="0.6">0.25</text>
<text transform="translate(1143.90 926.40) scale(1.18 1)" font-family="'Liberation Sans', sans-serif" font-size="28.7" font-weight="normal" text-anchor="end" fill="#1a1a1a" stroke="#1a1a1a" stroke-width="0.6">0.20</text>
<line x1="1322.10" x2="1322.10" y1="784.60" y2="918.60" stroke="#7d7068" stroke-width="1.2"/>
<path d="M1167.8 792.1C1168.5 792.1 1173.6 792.2 1175.0 792.4C1176.4 792.6 1180.6 793.0 1182.0 794.0C1183.4 795.0 1187.3 800.8 1189.0 802.0C1190.7 803.2 1196.8 805.2 1199.0 806.0C1201.2 806.8 1208.8 809.8 1211.0 810.4C1213.2 811.0 1219.3 811.5 1221.0 812.0C1222.7 812.5 1226.6 813.7 1228.0 815.0C1229.4 816.3 1233.5 824.1 1235.0 825.0C1236.5 825.9 1241.4 823.0 1243.0 824.0C1244.6 825.0 1249.4 834.2 1251.0 835.0C1252.6 835.8 1257.4 832.7 1259.0 832.0C1260.6 831.3 1265.5 827.8 1267.0 828.0C1268.5 828.2 1272.5 832.2 1274.0 834.0C1275.5 835.8 1280.3 844.6 1282.0 846.0C1283.7 847.4 1289.6 849.9 1291.0 848.0C1292.4 846.1 1295.1 829.1 1296.0 827.0C1296.9 824.9 1299.2 822.7 1300.0 827.0C1300.8 831.3 1302.5 865.5 1304.0 870.0C1305.5 874.5 1313.3 870.2 1315.0 872.0C1316.7 873.8 1319.6 886.8 1321.0 888.0C1322.4 889.2 1327.4 884.0 1329.0 884.0C1330.6 884.0 1335.4 887.8 1337.0 888.0C1338.6 888.2 1343.5 886.0 1345.0 886.0C1346.5 886.0 1350.5 888.6 1352.0 888.0C1353.5 887.4 1358.5 880.0 1360.0 880.0C1361.5 880.0 1365.5 887.6 1367.0 888.0C1368.5 888.4 1373.3 884.6 1375.0 884.0C1376.7 883.4 1382.3 883.1 1384.0 882.0C1385.7 880.9 1390.6 873.6 1392.0 873.0C1393.4 872.4 1396.5 875.3 1398.0 876.0C1399.5 876.7 1405.3 880.0 1407.0 880.0C1408.7 880.0 1413.4 875.6 1415.0 876.0C1416.6 876.4 1421.5 882.3 1423.0 884.0C1424.5 885.7 1428.0 892.4 1430.0 893.0C1432.0 893.6 1440.9 890.2 1443.0 890.0C1445.1 889.8 1449.2 890.6 1451.0 891.0C1452.8 891.4 1459.1 893.8 1461.0 894.0C1462.9 894.2 1469.5 892.7 1470.4 892.6" fill="none" stroke="#0d8383" stroke-width="10.6" stroke-linejoin="round" stroke-linecap="round" clip-path="url(#cp32)"/>
<text transform="translate(1322.00 770.40) scale(1.2 1)" font-family="'Liberation Sans', sans-serif" font-size="28.4" font-weight="normal" text-anchor="middle" fill="#1a1a1a" stroke="#1a1a1a" stroke-width="0.6">Lymph-BNHL</text>
<text transform="translate(1167.60 958.90) scale(1.165 1)" font-family="'Liberation Sans', sans-serif" font-size="29" font-weight="normal" text-anchor="middle" fill="#1a1a1a" stroke="#1a1a1a" stroke-width="0.6">-500Kb</text>
<text transform="translate(1322.50 958.90) scale(1.165 1)" font-family="'Liberation Sans', sans-serif" font-size="29" font-weight="normal" text-anchor="middle" fill="#1a1a1a" stroke="#1a1a1a" stroke-width="0.6">B</text>
<text transform="translate(1478.20 958.90) scale(1.165 1)" font-family="'Liberation Sans', sans-serif" font-size="29" font-weight="normal" text-anchor="middle" fill="#1a1a1a" stroke="#1a1a1a" stroke-width="0.6">+500Kb</text>
<text transform="translate(1054.10 850.60) rotate(-90) scale(0.8 1)" font-family="'Liberation Sans', sans-serif" font-size="35" text-anchor="middle" fill="#0d8383" stroke="#0d8383" stroke-width="1.2">Avg Muts</text>
</g>
<g>
<rect x="1663.60" y="784.60" width="156.30" height="134.00" fill="#dedad7"/>
<rect x="1819.90" y="784.60" width="155.10" height="134.00" fill="#f5c18f"/>
<text transform="translate(1641.50 792.40) scale(1.18 1)" font-family="'Liberation Sans', sans-serif" font-size="28.7" font-weight="normal" text-anchor="end" fill="#1a1a1a" stroke="#1a1a1a" stroke-width="0.6">0.12</text>
<line x1="1663.60" x2="1819.90" y1="818.40" y2="818.40" stroke="#e8e4e2" stroke-width="2.8"/>
<line x1="1819.90" x2="1975.00" y1="818.40" y2="818.40" stroke="#f8ca9e" stroke-width="2.8"/>
<text transform="translate(1641.50 826.20) scale(1.18 1)" font-family="'Liberation Sans', sans-serif" font-size="28.7" font-weight="normal" text-anchor="end" fill="#1a1a1a" stroke="#1a1a1a" stroke-width="0.6">0.10</text>
<line x1="1663.60" x2="1819.90" y1="852.00" y2="852.00" stroke="#e8e4e2" stroke-width="2.8"/>
<line x1="1819.90" x2="1975.00" y1="852.00" y2="852.00" stroke="#f8ca9e" stroke-width="2.8"/>
<text transform="translate(1641.50 859.80) scale(1.18 1)" font-family="'Liberation Sans', sans-serif" font-size="28.7" font-weight="normal" text-anchor="end" fill="#1a1a1a" stroke="#1a1a1a" stroke-width="0.6">0.08</text>
<line x1="1663.60" x2="1819.90" y1="885.60" y2="885.60" stroke="#e8e4e2" stroke-width="2.8"/>
<line x1="1819.90" x2="1975.00" y1="885.60" y2="885.60" stroke="#f8ca9e" stroke-width="2.8"/>
<text transform="translate(1641.50 893.40) scale(1.18 1)" font-family="'Liberation Sans', sans-serif" font-size="28.7" font-weight="normal" text-anchor="end" fill="#1a1a1a" stroke="#1a1a1a" stroke-width="0.6">0.06</text>
<text transform="translate(1641.50 926.40) scale(1.18 1)" font-family="'Liberation Sans', sans-serif" font-size="28.7" font-weight="normal" text-anchor="end" fill="#1a1a1a" stroke="#1a1a1a" stroke-width="0.6">0.04</text>
<line x1="1819.90" x2="1819.90" y1="784.60" y2="918.60" stroke="#7d7068" stroke-width="1.2"/>
<path d="M1665.4 814.9C1666.1 816.8 1670.6 831.5 1672.0 834.0C1673.4 836.5 1677.6 840.2 1679.0 840.0C1680.4 839.8 1684.5 832.9 1686.0 832.0C1687.5 831.1 1692.4 829.7 1694.0 831.0C1695.6 832.3 1700.5 845.1 1702.0 845.0C1703.5 844.9 1707.5 829.9 1709.0 830.0C1710.5 830.1 1715.4 845.8 1717.0 846.0C1718.6 846.2 1723.3 832.2 1725.0 832.0C1726.7 831.8 1732.5 842.1 1734.0 844.0C1735.5 845.9 1738.5 850.7 1740.0 851.0C1741.5 851.3 1747.3 845.9 1749.0 847.0C1750.7 848.1 1755.3 860.6 1757.0 862.0C1758.7 863.4 1764.3 861.5 1766.0 861.0C1767.7 860.5 1772.4 857.3 1774.0 857.0C1775.6 856.7 1780.6 855.7 1782.0 858.0C1783.4 860.3 1786.6 878.6 1788.0 880.0C1789.4 881.4 1794.4 871.9 1796.0 872.0C1797.6 872.1 1802.4 879.2 1804.0 881.0C1805.6 882.8 1810.4 888.7 1812.0 890.0C1813.6 891.3 1818.4 893.9 1820.0 894.0C1821.6 894.1 1826.5 891.8 1828.0 891.0C1829.5 890.2 1833.5 884.7 1835.0 886.0C1836.5 887.3 1841.4 902.8 1843.0 904.0C1844.6 905.2 1849.5 899.2 1851.0 898.0C1852.5 896.8 1856.4 893.1 1858.0 892.0C1859.6 890.9 1864.8 887.4 1867.0 887.0C1869.2 886.6 1877.8 887.0 1880.0 888.0C1882.2 889.0 1887.3 897.3 1889.0 897.0C1890.7 896.7 1895.5 884.9 1897.0 885.0C1898.5 885.1 1901.7 897.1 1904.0 898.0C1906.3 898.9 1917.4 894.1 1920.0 894.0C1922.6 893.9 1927.6 896.1 1930.0 897.0C1932.4 897.9 1941.8 903.1 1944.0 903.0C1946.2 902.9 1950.5 898.4 1952.0 896.0C1953.5 893.6 1957.6 880.8 1959.0 879.0C1960.4 877.2 1964.6 877.9 1966.0 878.0C1967.4 878.1 1972.5 879.4 1973.2 879.6" fill="none" stroke="#0d8383" stroke-width="10.6" stroke-linejoin="round" stroke-linecap="round" clip-path="url(#cp33)"/>
<text transform="translate(1819.80 770.40) scale(1.2 1)" font-family="'Liberation Sans', sans-serif" font-size="28.4" font-weight="normal" text-anchor="middle" fill="#1a1a1a" stroke="#1a1a1a" stroke-width="0.6">Lymph-CLL</text>
<text transform="translate(1665.20 958.90) scale(1.165 1)" font-family="'Liberation Sans', sans-serif" font-size="29" font-weight="normal" text-anchor="middle" fill="#1a1a1a" stroke="#1a1a1a" stroke-width="0.6">-500Kb</text>
<text transform="translate(1820.30 958.90) scale(1.165 1)" font-family="'Liberation Sans', sans-serif" font-size="29" font-weight="normal" text-anchor="middle" fill="#1a1a1a" stroke="#1a1a1a" stroke-width="0.6">B</text>
<text transform="translate(1976.20 958.90) scale(1.165 1)" font-family="'Liberation Sans', sans-serif" font-size="29" font-weight="normal" text-anchor="middle" fill="#1a1a1a" stroke="#1a1a1a" stroke-width="0.6">+500Kb</text>
<text transform="translate(1551.20 850.60) rotate(-90) scale(0.8 1)" font-family="'Liberation Sans', sans-serif" font-size="35" text-anchor="middle" fill="#0d8383" stroke="#0d8383" stroke-width="1.2">Avg Muts</text>
</g>
<g>
<rect x="170.00" y="1019.00" width="156.60" height="134.40" fill="#dedad7"/>
<rect x="326.60" y="1019.00" width="155.40" height="134.40" fill="#f5c18f"/>
<line x1="170.00" x2="326.60" y1="1041.40" y2="1041.40" stroke="#e8e4e2" stroke-width="2.8"/>
<line x1="326.60" x2="482.00" y1="1041.40" y2="1041.40" stroke="#f8ca9e" stroke-width="2.8"/>
<text transform="translate(149.20 1049.20) scale(1.18 1)" font-family="'Liberation Sans', sans-serif" font-size="28.7" font-weight="normal" text-anchor="end" fill="#1a1a1a" stroke="#1a1a1a" stroke-width="0.6">0.06</text>
<line x1="170.00" x2="326.60" y1="1086.60" y2="1086.60" stroke="#e8e4e2" stroke-width="2.8"/>
<line x1="326.60" x2="482.00" y1="1086.60" y2="1086.60" stroke="#f8ca9e" stroke-width="2.8"/>
<text transform="translate(149.20 1094.40) scale(1.18 1)" font-family="'Liberation Sans', sans-serif" font-size="28.7" font-weight="normal" text-anchor="end" fill="#1a1a1a" stroke="#1a1a1a" stroke-width="0.6">0.04</text>
<line x1="170.00" x2="326.60" y1="1131.00" y2="1131.00" stroke="#e8e4e2" stroke-width="2.8"/>
<line x1="326.60" x2="482.00" y1="1131.00" y2="1131.00" stroke="#f8ca9e" stroke-width="2.8"/>
<text transform="translate(149.20 1138.80) scale(1.18 1)" font-family="'Liberation Sans', sans-serif" font-size="28.7" font-weight="normal" text-anchor="end" fill="#1a1a1a" stroke="#1a1a1a" stroke-width="0.6">0.02</text>
<line x1="326.60" x2="326.60" y1="1019.00" y2="1153.40" stroke="#7d7068" stroke-width="1.2"/>
<path d="M171.8 1073.2C171.8 1073.2 171.6 1077.0 172.0 1073.0C172.4 1069.0 175.1 1037.0 176.0 1033.0C176.9 1029.0 180.0 1030.4 181.0 1033.0C182.0 1035.6 184.7 1056.6 186.0 1059.0C187.3 1061.4 192.5 1057.6 194.0 1057.0C195.5 1056.4 199.5 1051.5 201.0 1053.0C202.5 1054.5 207.5 1071.2 209.0 1072.0C210.5 1072.8 214.4 1062.0 216.0 1061.0C217.6 1060.0 223.3 1059.7 225.0 1062.0C226.7 1064.3 231.3 1083.7 233.0 1084.0C234.7 1084.3 240.3 1067.9 242.0 1065.0C243.7 1062.1 248.6 1058.8 250.0 1055.0C251.4 1051.2 255.0 1029.7 256.0 1027.0C257.0 1024.3 258.8 1026.3 260.0 1028.0C261.2 1029.7 266.2 1040.8 268.0 1044.0C269.8 1047.2 276.3 1060.3 278.0 1060.0C279.7 1059.7 283.8 1042.9 285.0 1041.0C286.2 1039.1 288.5 1038.0 290.0 1041.0C291.5 1044.0 297.9 1065.4 300.0 1071.0C302.1 1076.6 309.2 1098.4 311.0 1097.0C312.8 1095.6 316.9 1060.9 318.0 1057.0C319.1 1053.1 321.1 1055.4 322.0 1058.0C322.9 1060.6 325.2 1080.6 327.0 1083.0C328.8 1085.4 337.9 1081.0 340.0 1082.0C342.1 1083.0 346.2 1090.7 348.0 1093.0C349.8 1095.3 356.2 1103.9 358.0 1105.0C359.8 1106.1 364.7 1106.7 366.0 1104.0C367.3 1101.3 370.0 1080.6 371.0 1078.0C372.0 1075.4 375.0 1074.2 376.0 1078.0C377.0 1081.8 379.9 1115.6 381.0 1116.0C382.1 1116.4 385.8 1084.6 387.0 1082.0C388.2 1079.4 391.5 1084.9 393.0 1090.0C394.5 1095.1 400.6 1128.7 402.0 1133.0C403.4 1137.3 405.9 1137.4 407.0 1133.0C408.1 1128.6 411.7 1095.0 413.0 1089.0C414.3 1083.0 418.5 1073.5 420.0 1073.0C421.5 1072.5 426.4 1082.5 428.0 1084.0C429.6 1085.5 434.5 1088.2 436.0 1088.0C437.5 1087.8 441.5 1080.8 443.0 1082.0C444.5 1083.2 449.5 1098.7 451.0 1100.0C452.5 1101.3 456.5 1094.5 458.0 1095.0C459.5 1095.5 464.4 1106.0 466.0 1105.0C467.6 1104.0 472.6 1086.3 474.0 1085.0C475.4 1083.7 479.6 1091.4 480.2 1092.1" fill="none" stroke="#0d8383" stroke-width="10.6" stroke-linejoin="round" stroke-linecap="round" clip-path="url(#cp40)"/>
<text transform="translate(326.50 1004.80) scale(1.2 1)" font-family="'Liberation Sans', sans-serif" font-size="28.4" font-weight="normal" text-anchor="middle" fill="#1a1a1a" stroke="#1a1a1a" stroke-width="0.6">Myeloid-AML</text>
<text transform="translate(171.60 1193.70) scale(1.165 1)" font-family="'Liberation Sans', sans-serif" font-size="29" font-weight="normal" text-anchor="middle" fill="#1a1a1a" stroke="#1a1a1a" stroke-width="0.6">-500Kb</text>
<text transform="translate(327.00 1193.70) scale(1.165 1)" font-family="'Liberation Sans', sans-serif" font-size="29" font-weight="normal" text-anchor="middle" fill="#1a1a1a" stroke="#1a1a1a" stroke-width="0.6">B</text>
<text transform="translate(483.20 1193.70) scale(1.165 1)" font-family="'Liberation Sans', sans-serif" font-size="29" font-weight="normal" text-anchor="middle" fill="#1a1a1a" stroke="#1a1a1a" stroke-width="0.6">+500Kb</text>
<text transform="translate(59.60 1085.20) rotate(-90) scale(0.8 1)" font-family="'Liberation Sans', sans-serif" font-size="35" text-anchor="middle" fill="#0d8383" stroke="#0d8383" stroke-width="1.2">Avg Muts</text>
</g>
<g>
<rect x="668.40" y="1019.00" width="156.40" height="134.40" fill="#dedad7"/>
<rect x="824.80" y="1019.00" width="155.20" height="134.40" fill="#f5c18f"/>
<line x1="668.40" x2="824.80" y1="1073.00" y2="1073.00" stroke="#e8e4e2" stroke-width="2.8"/>
<line x1="824.80" x2="980.00" y1="1073.00" y2="1073.00" stroke="#f8ca9e" stroke-width="2.8"/>
<text transform="translate(646.30 1080.80) scale(1.18 1)" font-family="'Liberation Sans', sans-serif" font-size="28.7" font-weight="normal" text-anchor="end" fill="#1a1a1a" stroke="#1a1a1a" stroke-width="0.6">0.30</text>
<line x1="668.40" x2="824.80" y1="1140.00" y2="1140.00" stroke="#e8e4e2" stroke-width="2.8"/>
<line x1="824.80" x2="980.00" y1="1140.00" y2="1140.00" stroke="#f8ca9e" stroke-width="2.8"/>
<text transform="translate(646.30 1147.80) scale(1.18 1)" font-family="'Liberation Sans', sans-serif" font-size="28.7" font-weight="normal" text-anchor="end" fill="#1a1a1a" stroke="#1a1a1a" stroke-width="0.6">0.25</text>
<line x1="824.80" x2="824.80" y1="1019.00" y2="1153.40" stroke="#7d7068" stroke-width="1.2"/>
<path d="M670.2 1033.8C670.9 1034.2 675.7 1036.5 677.0 1038.0C678.3 1039.5 681.5 1048.6 683.0 1049.0C684.5 1049.4 690.3 1041.8 692.0 1042.0C693.7 1042.2 698.4 1049.6 700.0 1051.0C701.6 1052.4 706.5 1057.1 708.0 1056.0C709.5 1054.9 713.6 1038.9 715.0 1040.0C716.4 1041.1 720.3 1064.6 722.0 1067.0C723.7 1069.4 730.5 1068.2 732.0 1064.0C733.5 1059.8 736.0 1028.9 737.0 1025.0C738.0 1021.1 740.8 1022.4 742.0 1025.0C743.2 1027.6 747.8 1046.7 749.0 1051.0C750.2 1055.3 752.7 1067.8 754.0 1068.0C755.3 1068.2 760.4 1054.1 762.0 1053.0C763.6 1051.9 768.4 1056.4 770.0 1057.0C771.6 1057.6 776.5 1057.6 778.0 1059.0C779.5 1060.4 783.4 1069.4 785.0 1071.0C786.6 1072.6 792.4 1073.3 794.0 1075.0C795.6 1076.7 799.6 1085.9 801.0 1088.0C802.4 1090.1 806.4 1094.4 808.0 1096.0C809.6 1097.6 815.7 1100.7 817.0 1104.0C818.3 1107.3 820.3 1124.9 821.0 1129.0C821.7 1133.1 823.0 1143.8 824.0 1145.0C825.0 1146.2 829.5 1141.6 831.0 1141.0C832.5 1140.4 837.5 1140.1 839.0 1139.0C840.5 1137.9 844.5 1130.4 846.0 1130.0C847.5 1129.6 852.3 1133.2 854.0 1135.0C855.7 1136.8 861.4 1147.9 863.0 1148.0C864.6 1148.1 868.5 1138.5 870.0 1136.0C871.5 1133.5 876.6 1124.3 878.0 1123.0C879.4 1121.7 882.5 1120.9 884.0 1123.0C885.5 1125.1 891.4 1143.0 893.0 1144.0C894.6 1145.0 898.5 1133.0 900.0 1133.0C901.5 1133.0 906.4 1143.7 908.0 1144.0C909.6 1144.3 914.3 1137.0 916.0 1136.0C917.7 1135.0 923.4 1133.7 925.0 1134.0C926.6 1134.3 930.5 1138.2 932.0 1139.0C933.5 1139.8 938.4 1142.5 940.0 1142.0C941.6 1141.5 946.5 1135.5 948.0 1134.0C949.5 1132.5 953.6 1127.5 955.0 1127.0C956.4 1126.5 960.6 1129.2 962.0 1129.0C963.4 1128.8 967.9 1125.5 969.0 1125.0C970.1 1124.5 973.0 1124.1 973.4 1124.0" fill="none" stroke="#0d8383" stroke-width="10.6" stroke-linejoin="round" stroke-linecap="round" clip-path="url(#cp41)"/>
<text transform="translate(824.70 1004.80) scale(1.2 1)" font-family="'Liberation Sans', sans-serif" font-size="28.4" font-weight="normal" text-anchor="middle" fill="#1a1a1a" stroke="#1a1a1a" stroke-width="0.6">Ovary-AdenoCA</text>
<text transform="translate(670.00 1193.70) scale(1.165 1)" font-family="'Liberation Sans', sans-serif" font-size="29" font-weight="normal" text-anchor="middle" fill="#1a1a1a" stroke="#1a1a1a" stroke-width="0.6">-500Kb</text>
<text transform="translate(825.20 1193.70) scale(1.165 1)" font-family="'Liberation Sans', sans-serif" font-size="29" font-weight="normal" text-anchor="middle" fill="#1a1a1a" stroke="#1a1a1a" stroke-width="0.6">B</text>
<text transform="translate(981.20 1193.70) scale(1.165 1)" font-family="'Liberation Sans', sans-serif" font-size="29" font-weight="normal" text-anchor="middle" fill="#1a1a1a" stroke="#1a1a1a" stroke-width="0.6">+500Kb</text>
<text transform="translate(556.70 1085.20) rotate(-90) scale(0.8 1)" font-family="'Liberation Sans', sans-serif" font-size="35" text-anchor="middle" fill="#0d8383" stroke="#0d8383" stroke-width="1.2">Avg Muts</text>
</g>
<g>
<rect x="1166.00" y="1019.00" width="156.10" height="134.40" fill="#dedad7"/>
<rect x="1322.10" y="1019.00" width="154.90" height="134.40" fill="#f5c18f"/>
<text transform="translate(1143.90 1026.80) scale(1.18 1)" font-family="'Liberation Sans', sans-serif" font-size="28.7" font-weight="normal" text-anchor="end" fill="#1a1a1a" stroke="#1a1a1a" stroke-width="0.6">0.25</text>
<line x1="1166.00" x2="1322.10" y1="1086.00" y2="1086.00" stroke="#e8e4e2" stroke-width="2.8"/>
<line x1="1322.10" x2="1477.00" y1="1086.00" y2="1086.00" stroke="#f8ca9e" stroke-width="2.8"/>
<text transform="translate(1143.90 1093.80) scale(1.18 1)" font-family="'Liberation Sans', sans-serif" font-size="28.7" font-weight="normal" text-anchor="end" fill="#1a1a1a" stroke="#1a1a1a" stroke-width="0.6">0.20</text>
<text transform="translate(1143.90 1161.20) scale(1.18 1)" font-family="'Liberation Sans', sans-serif" font-size="28.7" font-weight="normal" text-anchor="end" fill="#1a1a1a" stroke="#1a1a1a" stroke-width="0.6">0.15</text>
<line x1="1322.10" x2="1322.10" y1="1019.00" y2="1153.40" stroke="#7d7068" stroke-width="1.2"/>
<path d="M1167.8 1030.6C1168.3 1031.8 1171.8 1042.0 1173.0 1042.0C1174.2 1042.0 1178.5 1032.0 1180.0 1031.0C1181.5 1030.0 1186.3 1031.8 1188.0 1032.0C1189.7 1032.2 1195.3 1032.0 1197.0 1033.0C1198.7 1034.0 1203.4 1042.7 1205.0 1042.0C1206.6 1041.3 1211.4 1026.1 1213.0 1026.0C1214.6 1025.9 1219.6 1038.2 1221.0 1041.0C1222.4 1043.8 1225.6 1053.4 1227.0 1054.0C1228.4 1054.6 1233.4 1046.8 1235.0 1047.0C1236.6 1047.2 1241.3 1054.9 1243.0 1056.0C1244.7 1057.1 1250.4 1057.2 1252.0 1058.0C1253.6 1058.8 1257.5 1062.8 1259.0 1064.0C1260.5 1065.2 1265.4 1069.1 1267.0 1070.0C1268.6 1070.9 1273.6 1070.9 1275.0 1073.0C1276.4 1075.1 1279.6 1087.9 1281.0 1091.0C1282.4 1094.1 1287.3 1103.0 1289.0 1104.0C1290.7 1105.0 1296.4 1099.5 1298.0 1101.0C1299.6 1102.5 1303.3 1116.1 1305.0 1119.0C1306.7 1121.9 1313.3 1127.9 1315.0 1130.0C1316.7 1132.1 1320.5 1139.3 1322.0 1140.0C1323.5 1140.7 1328.5 1137.9 1330.0 1137.0C1331.5 1136.1 1335.6 1130.2 1337.0 1131.0C1338.4 1131.8 1342.5 1143.9 1344.0 1145.0C1345.5 1146.1 1350.4 1144.0 1352.0 1142.0C1353.6 1140.0 1358.4 1126.1 1360.0 1125.0C1361.6 1123.9 1366.3 1129.9 1368.0 1131.0C1369.7 1132.1 1375.1 1135.3 1377.0 1136.0C1378.9 1136.7 1384.9 1137.9 1387.0 1138.0C1389.1 1138.1 1395.8 1137.3 1398.0 1137.0C1400.2 1136.7 1407.3 1134.5 1409.0 1135.0C1410.7 1135.5 1413.7 1144.6 1415.0 1142.0C1416.3 1139.4 1421.0 1112.3 1422.0 1109.0C1423.0 1105.7 1423.9 1107.3 1425.0 1109.0C1426.1 1110.7 1431.0 1123.1 1433.0 1126.0C1435.0 1128.9 1443.0 1138.1 1445.0 1138.0C1447.0 1137.9 1451.4 1125.8 1453.0 1125.0C1454.6 1124.2 1459.3 1129.8 1461.0 1130.0C1462.7 1130.2 1468.6 1126.6 1470.0 1127.0C1471.4 1127.4 1474.7 1133.2 1475.2 1133.9" fill="none" stroke="#0d8383" stroke-width="10.6" stroke-linejoin="round" stroke-linecap="round" clip-path="url(#cp42)"/>
<text transform="translate(1322.00 1004.80) scale(1.2 1)" font-family="'Liberation Sans', sans-serif" font-size="28.4" font-weight="normal" text-anchor="middle" fill="#1a1a1a" stroke="#1a1a1a" stroke-width="0.6">Panc-AdenoCA</text>
<text transform="translate(1167.60 1193.70) scale(1.165 1)" font-family="'Liberation Sans', sans-serif" font-size="29" font-weight="normal" text-anchor="middle" fill="#1a1a1a" stroke="#1a1a1a" stroke-width="0.6">-500Kb</text>
<text transform="translate(1322.50 1193.70) scale(1.165 1)" font-family="'Liberation Sans', sans-serif" font-size="29" font-weight="normal" text-anchor="middle" fill="#1a1a1a" stroke="#1a1a1a" stroke-width="0.6">B</text>
<text transform="translate(1478.20 1193.70) scale(1.165 1)" font-family="'Liberation Sans', sans-serif" font-size="29" font-weight="normal" text-anchor="middle" fill="#1a1a1a" stroke="#1a1a1a" stroke-width="0.6">+500Kb</text>
<text transform="translate(1054.10 1085.20) rotate(-90) scale(0.8 1)" font-family="'Liberation Sans', sans-serif" font-size="35" text-anchor="middle" fill="#0d8383" stroke="#0d8383" stroke-width="1.2">Avg Muts</text>
</g>
<g>
<rect x="1663.60" y="1019.00" width="156.30" height="134.40" fill="#dedad7"/>
<rect x="1819.90" y="1019.00" width="155.10" height="134.40" fill="#f5c18f"/>
<text transform="translate(1641.50 1026.80) scale(1.18 1)" font-family="'Liberation Sans', sans-serif" font-size="28.7" font-weight="normal" text-anchor="end" fill="#1a1a1a" stroke="#1a1a1a" stroke-width="0.6">0.12</text>
<line x1="1663.60" x2="1819.90" y1="1053.00" y2="1053.00" stroke="#e8e4e2" stroke-width="2.8"/>
<line x1="1819.90" x2="1975.00" y1="1053.00" y2="1053.00" stroke="#f8ca9e" stroke-width="2.8"/>
<text transform="translate(1641.50 1060.80) scale(1.18 1)" font-family="'Liberation Sans', sans-serif" font-size="28.7" font-weight="normal" text-anchor="end" fill="#1a1a1a" stroke="#1a1a1a" stroke-width="0.6">0.11</text>
<line x1="1663.60" x2="1819.90" y1="1086.20" y2="1086.20" stroke="#e8e4e2" stroke-width="2.8"/>
<line x1="1819.90" x2="1975.00" y1="1086.20" y2="1086.20" stroke="#f8ca9e" stroke-width="2.8"/>
<text transform="translate(1641.50 1094.00) scale(1.18 1)" font-family="'Liberation Sans', sans-serif" font-size="28.7" font-weight="normal" text-anchor="end" fill="#1a1a1a" stroke="#1a1a1a" stroke-width="0.6">0.10</text>
<line x1="1663.60" x2="1819.90" y1="1120.00" y2="1120.00" stroke="#e8e4e2" stroke-width="2.8"/>
<line x1="1819.90" x2="1975.00" y1="1120.00" y2="1120.00" stroke="#f8ca9e" stroke-width="2.8"/>
<text transform="translate(1641.50 1127.80) scale(1.18 1)" font-family="'Liberation Sans', sans-serif" font-size="28.7" font-weight="normal" text-anchor="end" fill="#1a1a1a" stroke="#1a1a1a" stroke-width="0.6">0.09</text>
<text transform="translate(1641.50 1161.20) scale(1.18 1)" font-family="'Liberation Sans', sans-serif" font-size="28.7" font-weight="normal" text-anchor="end" fill="#1a1a1a" stroke="#1a1a1a" stroke-width="0.6">0.08</text>
<line x1="1819.90" x2="1819.90" y1="1019.00" y2="1153.40" stroke="#7d7068" stroke-width="1.2"/>
<path d="M1665.4 1047.1C1666.1 1046.5 1670.5 1041.1 1672.0 1041.0C1673.5 1040.9 1678.5 1046.4 1680.0 1046.0C1681.5 1045.6 1685.5 1036.5 1687.0 1037.0C1688.5 1037.5 1693.5 1052.2 1695.0 1051.0C1696.5 1049.8 1700.3 1027.8 1702.0 1025.0C1703.7 1022.2 1710.2 1020.2 1712.0 1023.0C1713.8 1025.8 1718.7 1048.4 1720.0 1053.0C1721.3 1057.6 1723.6 1069.0 1725.0 1069.0C1726.4 1069.0 1732.4 1054.8 1734.0 1053.0C1735.6 1051.2 1739.6 1050.4 1741.0 1051.0C1742.4 1051.6 1746.5 1055.7 1748.0 1059.0C1749.5 1062.3 1754.5 1081.7 1756.0 1084.0C1757.5 1086.3 1761.4 1081.4 1763.0 1082.0C1764.6 1082.6 1770.3 1090.0 1772.0 1090.0C1773.7 1090.0 1778.4 1082.6 1780.0 1082.0C1781.6 1081.4 1786.4 1083.2 1788.0 1084.0C1789.6 1084.8 1794.5 1086.8 1796.0 1090.0C1797.5 1093.2 1801.4 1113.1 1803.0 1116.0C1804.6 1118.9 1810.4 1116.7 1812.0 1119.0C1813.6 1121.3 1817.6 1138.2 1819.0 1139.0C1820.4 1139.8 1824.4 1127.4 1826.0 1127.0C1827.6 1126.6 1833.4 1133.8 1835.0 1135.0C1836.6 1136.2 1840.4 1139.7 1842.0 1139.0C1843.6 1138.3 1849.3 1128.0 1851.0 1128.0C1852.7 1128.0 1857.7 1142.3 1859.0 1139.0C1860.3 1135.7 1863.0 1099.4 1864.0 1095.0C1865.0 1090.6 1868.0 1092.5 1869.0 1095.0C1870.0 1097.5 1872.7 1117.6 1874.0 1120.0C1875.3 1122.4 1880.6 1120.9 1882.0 1119.0C1883.4 1117.1 1887.0 1102.7 1888.0 1101.0C1889.0 1099.3 1890.4 1099.6 1892.0 1102.0C1893.6 1104.4 1902.0 1123.6 1904.0 1125.0C1906.0 1126.4 1910.4 1114.6 1912.0 1116.0C1913.6 1117.4 1918.5 1139.0 1920.0 1139.0C1921.5 1139.0 1925.4 1116.3 1927.0 1116.0C1928.6 1115.7 1934.2 1134.3 1936.0 1136.0C1937.8 1137.7 1943.6 1135.3 1945.0 1133.0C1946.4 1130.7 1949.1 1115.0 1950.0 1113.0C1950.9 1111.0 1952.4 1110.9 1954.0 1113.0C1955.6 1115.1 1964.3 1132.2 1966.0 1134.0C1967.7 1135.8 1970.3 1133.5 1971.0 1131.0C1971.7 1128.5 1973.0 1111.2 1973.2 1109.0" fill="none" stroke="#0d8383" stroke-width="10.6" stroke-linejoin="round" stroke-linecap="round" clip-path="url(#cp43)"/>
<text transform="translate(1819.80 1004.80) scale(1.2 1)" font-family="'Liberation Sans', sans-serif" font-size="28.4" font-weight="normal" text-anchor="middle" fill="#1a1a1a" stroke="#1a1a1a" stroke-width="0.6">Panc-Endocrine</text>
<text transform="translate(1665.20 1193.70) scale(1.165 1)" font-family="'Liberation Sans', sans-serif" font-size="29" font-weight="normal" text-anchor="middle" fill="#1a1a1a" stroke="#1a1a1a" stroke-width="0.6">-500Kb</text>
<text transform="translate(1820.30 1193.70) scale(1.165 1)" font-family="'Liberation Sans', sans-serif" font-size="29" font-weight="normal" text-anchor="middle" fill="#1a1a1a" stroke="#1a1a1a" stroke-width="0.6">B</text>
<text transform="translate(1976.20 1193.70) scale(1.165 1)" font-family="'Liberation Sans', sans-serif" font-size="29" font-weight="normal" text-anchor="middle" fill="#1a1a1a" stroke="#1a1a1a" stroke-width="0.6">+500Kb</text>
<text transform="translate(1551.20 1085.20) rotate(-90) scale(0.8 1)" font-family="'Liberation Sans', sans-serif" font-size="35" text-anchor="middle" fill="#0d8383" stroke="#0d8383" stroke-width="1.2">Avg Muts</text>
</g>
<g>
<rect x="170.00" y="1253.00" width="156.60" height="134.40" fill="#dedad7"/>
<rect x="326.60" y="1253.00" width="155.40" height="134.40" fill="#f5c18f"/>
<text transform="translate(149.20 1260.80) scale(1.18 1)" font-family="'Liberation Sans', sans-serif" font-size="28.7" font-weight="normal" text-anchor="end" fill="#1a1a1a" stroke="#1a1a1a" stroke-width="0.6">0.12</text>
<line x1="170.00" x2="326.60" y1="1280.00" y2="1280.00" stroke="#e8e4e2" stroke-width="2.8"/>
<line x1="326.60" x2="482.00" y1="1280.00" y2="1280.00" stroke="#f8ca9e" stroke-width="2.8"/>
<text transform="translate(149.20 1287.80) scale(1.18 1)" font-family="'Liberation Sans', sans-serif" font-size="28.7" font-weight="normal" text-anchor="end" fill="#1a1a1a" stroke="#1a1a1a" stroke-width="0.6">0.11</text>
<line x1="170.00" x2="326.60" y1="1307.00" y2="1307.00" stroke="#e8e4e2" stroke-width="2.8"/>
<line x1="326.60" x2="482.00" y1="1307.00" y2="1307.00" stroke="#f8ca9e" stroke-width="2.8"/>
<text transform="translate(149.20 1314.80) scale(1.18 1)" font-family="'Liberation Sans', sans-serif" font-size="28.7" font-weight="normal" text-anchor="end" fill="#1a1a1a" stroke="#1a1a1a" stroke-width="0.6">0.10</text>
<line x1="170.00" x2="326.60" y1="1333.60" y2="1333.60" stroke="#e8e4e2" stroke-width="2.8"/>
<line x1="326.60" x2="482.00" y1="1333.60" y2="1333.60" stroke="#f8ca9e" stroke-width="2.8"/>
<text transform="translate(149.20 1341.40) scale(1.18 1)" font-family="'Liberation Sans', sans-serif" font-size="28.7" font-weight="normal" text-anchor="end" fill="#1a1a1a" stroke="#1a1a1a" stroke-width="0.6">0.09</text>
<line x1="170.00" x2="326.60" y1="1360.60" y2="1360.60" stroke="#e8e4e2" stroke-width="2.8"/>
<line x1="326.60" x2="482.00" y1="1360.60" y2="1360.60" stroke="#f8ca9e" stroke-width="2.8"/>
<text transform="translate(149.20 1368.40) scale(1.18 1)" font-family="'Liberation Sans', sans-serif" font-size="28.7" font-weight="normal" text-anchor="end" fill="#1a1a1a" stroke="#1a1a1a" stroke-width="0.6">0.08</text>
<text transform="translate(149.20 1395.20) scale(1.18 1)" font-family="'Liberation Sans', sans-serif" font-size="28.7" font-weight="normal" text-anchor="end" fill="#1a1a1a" stroke="#1a1a1a" stroke-width="0.6">0.07</text>
<line x1="326.60" x2="326.60" y1="1253.00" y2="1387.40" stroke="#7d7068" stroke-width="1.2"/>
<path d="M171.8 1269.0C172.3 1271.6 175.6 1292.7 177.0 1295.0C178.4 1297.3 184.3 1292.9 186.0 1292.0C187.7 1291.1 192.4 1286.2 194.0 1286.0C195.6 1285.8 200.5 1291.8 202.0 1290.0C203.5 1288.2 207.7 1269.7 209.0 1268.0C210.3 1266.3 213.4 1271.2 215.0 1273.0C216.6 1274.8 223.2 1285.9 225.0 1286.0C226.8 1286.1 231.3 1275.0 233.0 1274.0C234.7 1273.0 240.4 1275.5 242.0 1276.0C243.6 1276.5 247.5 1278.2 249.0 1279.0C250.5 1279.8 255.6 1280.3 257.0 1284.0C258.4 1287.7 261.7 1314.3 263.0 1316.0C264.3 1317.7 268.4 1302.2 270.0 1301.0C271.6 1299.8 277.4 1302.0 279.0 1304.0C280.6 1306.0 284.3 1318.9 286.0 1321.0C287.7 1323.1 294.2 1324.0 296.0 1325.0C297.8 1326.0 302.2 1329.2 304.0 1331.0C305.8 1332.8 312.4 1340.9 314.0 1343.0C315.6 1345.1 318.8 1349.6 320.0 1352.0C321.2 1354.4 324.6 1365.0 326.0 1367.0C327.4 1369.0 332.5 1371.8 334.0 1372.0C335.5 1372.2 339.4 1368.1 341.0 1369.0C342.6 1369.9 347.5 1380.4 350.0 1381.0C352.5 1381.6 363.8 1376.5 366.0 1375.0C368.2 1373.5 370.6 1367.2 372.0 1366.0C373.4 1364.8 378.4 1364.2 380.0 1363.0C381.6 1361.8 386.4 1353.5 388.0 1354.0C389.6 1354.5 394.2 1366.7 396.0 1368.0C397.8 1369.3 404.4 1369.4 406.0 1367.0C407.6 1364.6 410.8 1345.2 412.0 1344.0C413.2 1342.8 416.4 1352.4 418.0 1355.0C419.6 1357.6 426.2 1369.4 428.0 1370.0C429.8 1370.6 434.6 1360.7 436.0 1361.0C437.4 1361.3 440.6 1373.8 442.0 1373.0C443.4 1372.2 448.4 1356.0 450.0 1353.0C451.6 1350.0 456.4 1343.1 458.0 1343.0C459.6 1342.9 464.4 1350.2 466.0 1352.0C467.6 1353.8 472.6 1361.1 474.0 1361.0C475.4 1360.9 479.6 1352.2 480.2 1351.3" fill="none" stroke="#0d8383" stroke-width="10.6" stroke-linejoin="round" stroke-linecap="round" clip-path="url(#cp50)"/>
<text transform="translate(326.50 1238.80) scale(1.2 1)" font-family="'Liberation Sans', sans-serif" font-size="28.4" font-weight="normal" text-anchor="middle" fill="#1a1a1a" stroke="#1a1a1a" stroke-width="0.6">Prost-AdenoCA</text>
<text transform="translate(171.60 1427.70) scale(1.165 1)" font-family="'Liberation Sans', sans-serif" font-size="29" font-weight="normal" text-anchor="middle" fill="#1a1a1a" stroke="#1a1a1a" stroke-width="0.6">-500Kb</text>
<text transform="translate(327.00 1427.70) scale(1.165 1)" font-family="'Liberation Sans', sans-serif" font-size="29" font-weight="normal" text-anchor="middle" fill="#1a1a1a" stroke="#1a1a1a" stroke-width="0.6">B</text>
<text transform="translate(483.20 1427.70) scale(1.165 1)" font-family="'Liberation Sans', sans-serif" font-size="29" font-weight="normal" text-anchor="middle" fill="#1a1a1a" stroke="#1a1a1a" stroke-width="0.6">+500Kb</text>
<text transform="translate(59.60 1319.20) rotate(-90) scale(0.8 1)" font-family="'Liberation Sans', sans-serif" font-size="35" text-anchor="middle" fill="#0d8383" stroke="#0d8383" stroke-width="1.2">Avg Muts</text>
</g>
<g>
<rect x="668.40" y="1253.00" width="156.40" height="134.40" fill="#dedad7"/>
<rect x="824.80" y="1253.00" width="155.20" height="134.40" fill="#f5c18f"/>
<text transform="translate(646.30 1260.80) scale(1.18 1)" font-family="'Liberation Sans', sans-serif" font-size="28.7" font-weight="normal" text-anchor="end" fill="#1a1a1a" stroke="#1a1a1a" stroke-width="0.6">0.16</text>
<line x1="668.40" x2="824.80" y1="1287.00" y2="1287.00" stroke="#e8e4e2" stroke-width="2.8"/>
<line x1="824.80" x2="980.00" y1="1287.00" y2="1287.00" stroke="#f8ca9e" stroke-width="2.8"/>
<text transform="translate(646.30 1294.80) scale(1.18 1)" font-family="'Liberation Sans', sans-serif" font-size="28.7" font-weight="normal" text-anchor="end" fill="#1a1a1a" stroke="#1a1a1a" stroke-width="0.6">0.14</text>
<line x1="668.40" x2="824.80" y1="1320.60" y2="1320.60" stroke="#e8e4e2" stroke-width="2.8"/>
<line x1="824.80" x2="980.00" y1="1320.60" y2="1320.60" stroke="#f8ca9e" stroke-width="2.8"/>
<text transform="translate(646.30 1328.40) scale(1.18 1)" font-family="'Liberation Sans', sans-serif" font-size="28.7" font-weight="normal" text-anchor="end" fill="#1a1a1a" stroke="#1a1a1a" stroke-width="0.6">0.12</text>
<line x1="668.40" x2="824.80" y1="1354.40" y2="1354.40" stroke="#e8e4e2" stroke-width="2.8"/>
<line x1="824.80" x2="980.00" y1="1354.40" y2="1354.40" stroke="#f8ca9e" stroke-width="2.8"/>
<text transform="translate(646.30 1362.20) scale(1.18 1)" font-family="'Liberation Sans', sans-serif" font-size="28.7" font-weight="normal" text-anchor="end" fill="#1a1a1a" stroke="#1a1a1a" stroke-width="0.6">0.10</text>
<text transform="translate(646.30 1395.20) scale(1.18 1)" font-family="'Liberation Sans', sans-serif" font-size="28.7" font-weight="normal" text-anchor="end" fill="#1a1a1a" stroke="#1a1a1a" stroke-width="0.6">0.08</text>
<line x1="824.80" x2="824.80" y1="1253.00" y2="1387.40" stroke="#7d7068" stroke-width="1.2"/>
<path d="M670.2 1271.1C671.6 1271.2 681.9 1269.7 684.0 1272.0C686.1 1274.3 689.4 1292.5 691.0 1294.0C692.6 1295.5 698.3 1288.8 700.0 1287.0C701.7 1285.2 706.4 1278.9 708.0 1276.0C709.6 1273.1 714.3 1257.1 716.0 1258.0C717.7 1258.9 723.5 1281.6 725.0 1285.0C726.5 1288.4 729.7 1291.0 731.0 1292.0C732.3 1293.0 736.5 1294.0 738.0 1295.0C739.5 1296.0 744.5 1302.9 746.0 1302.0C747.5 1301.1 751.5 1284.7 753.0 1286.0C754.5 1287.3 759.4 1314.1 761.0 1315.0C762.6 1315.9 767.4 1297.5 769.0 1295.0C770.6 1292.5 775.4 1288.0 777.0 1290.0C778.6 1292.0 783.3 1312.1 785.0 1315.0C786.7 1317.9 792.4 1318.8 794.0 1319.0C795.6 1319.2 799.4 1316.2 801.0 1317.0C802.6 1317.8 808.3 1324.0 810.0 1327.0C811.7 1330.0 816.5 1343.6 818.0 1347.0C819.5 1350.4 823.6 1361.0 825.0 1361.0C826.4 1361.0 830.6 1349.6 832.0 1347.0C833.4 1344.4 837.6 1333.1 839.0 1335.0C840.4 1336.9 844.4 1363.4 846.0 1366.0C847.6 1368.6 853.4 1363.5 855.0 1361.0C856.6 1358.5 860.5 1343.0 862.0 1341.0C863.5 1339.0 868.4 1339.7 870.0 1341.0C871.6 1342.3 876.4 1352.2 878.0 1354.0C879.6 1355.8 884.4 1358.1 886.0 1359.0C887.6 1359.9 892.5 1363.9 894.0 1363.0C895.5 1362.1 899.6 1351.1 901.0 1350.0C902.4 1348.9 906.4 1352.7 908.0 1352.0C909.6 1351.3 915.3 1342.7 917.0 1343.0C918.7 1343.3 923.4 1353.1 925.0 1355.0C926.6 1356.9 931.5 1362.3 933.0 1362.0C934.5 1361.7 938.5 1352.4 940.0 1352.0C941.5 1351.6 946.4 1359.1 948.0 1358.0C949.6 1356.9 954.5 1340.2 956.0 1341.0C957.5 1341.8 961.6 1366.2 963.0 1366.0C964.4 1365.8 968.7 1341.9 970.0 1339.0C971.3 1336.1 975.2 1336.8 976.0 1337.0C976.8 1337.2 978.0 1341.0 978.2 1341.4" fill="none" stroke="#0d8383" stroke-width="10.6" stroke-linejoin="round" stroke-linecap="round" clip-path="url(#cp51)"/>
<text transform="translate(824.70 1238.80) scale(1.2 1)" font-family="'Liberation Sans', sans-serif" font-size="28.4" font-weight="normal" text-anchor="middle" fill="#1a1a1a" stroke="#1a1a1a" stroke-width="0.6">Sarc</text>
<text transform="translate(670.00 1427.70) scale(1.165 1)" font-family="'Liberation Sans', sans-serif" font-size="29" font-weight="normal" text-anchor="middle" fill="#1a1a1a" stroke="#1a1a1a" stroke-width="0.6">-500Kb</text>
<text transform="translate(825.20 1427.70) scale(1.165 1)" font-family="'Liberation Sans', sans-serif" font-size="29" font-weight="normal" text-anchor="middle" fill="#1a1a1a" stroke="#1a1a1a" stroke-width="0.6">B</text>
<text transform="translate(981.20 1427.70) scale(1.165 1)" font-family="'Liberation Sans', sans-serif" font-size="29" font-weight="normal" text-anchor="middle" fill="#1a1a1a" stroke="#1a1a1a" stroke-width="0.6">+500Kb</text>
<text transform="translate(556.70 1319.20) rotate(-90) scale(0.8 1)" font-family="'Liberation Sans', sans-serif" font-size="35" text-anchor="middle" fill="#0d8383" stroke="#0d8383" stroke-width="1.2">Avg Muts</text>
</g>
<g>
<rect x="1166.00" y="1253.00" width="156.10" height="134.40" fill="#dedad7"/>
<rect x="1322.10" y="1253.00" width="154.90" height="134.40" fill="#f5c18f"/>
<text transform="translate(1143.90 1260.80) scale(1.18 1)" font-family="'Liberation Sans', sans-serif" font-size="28.7" font-weight="normal" text-anchor="end" fill="#1a1a1a" stroke="#1a1a1a" stroke-width="0.6">5</text>
<line x1="1166.00" x2="1322.10" y1="1298.00" y2="1298.00" stroke="#e8e4e2" stroke-width="2.8"/>
<line x1="1322.10" x2="1477.00" y1="1298.00" y2="1298.00" stroke="#f8ca9e" stroke-width="2.8"/>
<text transform="translate(1143.90 1305.80) scale(1.18 1)" font-family="'Liberation Sans', sans-serif" font-size="28.7" font-weight="normal" text-anchor="end" fill="#1a1a1a" stroke="#1a1a1a" stroke-width="0.6">4</text>
<line x1="1166.00" x2="1322.10" y1="1343.00" y2="1343.00" stroke="#e8e4e2" stroke-width="2.8"/>
<line x1="1322.10" x2="1477.00" y1="1343.00" y2="1343.00" stroke="#f8ca9e" stroke-width="2.8"/>
<text transform="translate(1143.90 1350.80) scale(1.18 1)" font-family="'Liberation Sans', sans-serif" font-size="28.7" font-weight="normal" text-anchor="end" fill="#1a1a1a" stroke="#1a1a1a" stroke-width="0.6">3</text>
<text transform="translate(1143.90 1395.20) scale(1.18 1)" font-family="'Liberation Sans', sans-serif" font-size="28.7" font-weight="normal" text-anchor="end" fill="#1a1a1a" stroke="#1a1a1a" stroke-width="0.6">2</text>
<line x1="1322.10" x2="1322.10" y1="1253.00" y2="1387.40" stroke="#7d7068" stroke-width="1.2"/>
<path d="M1167.8 1265.1C1168.3 1265.7 1171.7 1270.1 1173.0 1271.0C1174.3 1271.9 1179.4 1274.3 1181.0 1274.0C1182.6 1273.7 1187.3 1268.8 1189.0 1268.0C1190.7 1267.2 1196.4 1266.8 1198.0 1266.0C1199.6 1265.2 1203.5 1260.9 1205.0 1260.0C1206.5 1259.1 1211.4 1257.6 1213.0 1257.4C1214.6 1257.2 1219.4 1258.0 1221.0 1258.0C1222.6 1258.0 1226.8 1257.0 1229.0 1257.0C1231.2 1257.0 1240.8 1257.2 1243.0 1258.0C1245.2 1258.8 1249.4 1263.7 1251.0 1265.0C1252.6 1266.3 1257.3 1269.9 1259.0 1271.0C1260.7 1272.1 1266.2 1274.1 1268.0 1276.0C1269.8 1277.9 1275.3 1287.3 1277.0 1290.0C1278.7 1292.7 1283.6 1300.7 1285.0 1303.0C1286.4 1305.3 1289.6 1311.5 1291.0 1313.0C1292.4 1314.5 1297.6 1315.8 1299.0 1318.0C1300.4 1320.2 1303.6 1331.5 1305.0 1335.0C1306.4 1338.5 1311.4 1349.9 1313.0 1353.0C1314.6 1356.1 1319.4 1364.9 1321.0 1366.0C1322.6 1367.1 1327.4 1364.1 1329.0 1364.0C1330.6 1363.9 1335.4 1364.4 1337.0 1365.0C1338.6 1365.6 1343.5 1370.2 1345.0 1370.0C1346.5 1369.8 1350.4 1363.5 1352.0 1363.0C1353.6 1362.5 1358.7 1364.9 1361.0 1365.0C1363.3 1365.1 1372.8 1363.8 1375.0 1364.0C1377.2 1364.2 1381.4 1366.8 1383.0 1367.0C1384.6 1367.2 1388.6 1366.8 1391.0 1366.0C1393.4 1365.2 1404.6 1359.6 1407.0 1359.0C1409.4 1358.4 1412.7 1359.8 1415.0 1360.0C1417.3 1360.2 1427.8 1361.4 1430.0 1361.0C1432.2 1360.6 1434.5 1357.1 1437.0 1356.0C1439.5 1354.9 1451.8 1350.7 1455.0 1350.0C1458.2 1349.3 1467.0 1349.5 1469.0 1349.0C1471.0 1348.5 1474.6 1345.0 1475.2 1344.6" fill="none" stroke="#0d8383" stroke-width="10.6" stroke-linejoin="round" stroke-linecap="round" clip-path="url(#cp52)"/>
<text transform="translate(1322.00 1238.80) scale(1.2 1)" font-family="'Liberation Sans', sans-serif" font-size="28.4" font-weight="normal" text-anchor="middle" fill="#1a1a1a" stroke="#1a1a1a" stroke-width="0.6">Skin-Melanoma</text>
<text transform="translate(1167.60 1427.70) scale(1.165 1)" font-family="'Liberation Sans', sans-serif" font-size="29" font-weight="normal" text-anchor="middle" fill="#1a1a1a" stroke="#1a1a1a" stroke-width="0.6">-500Kb</text>
<text transform="translate(1322.50 1427.70) scale(1.165 1)" font-family="'Liberation Sans', sans-serif" font-size="29" font-weight="normal" text-anchor="middle" fill="#1a1a1a" stroke="#1a1a1a" stroke-width="0.6">B</text>
<text transform="translate(1478.20 1427.70) scale(1.165 1)" font-family="'Liberation Sans', sans-serif" font-size="29" font-weight="normal" text-anchor="middle" fill="#1a1a1a" stroke="#1a1a1a" stroke-width="0.6">+500Kb</text>
<text transform="translate(1099.17 1319.20) rotate(-90) scale(0.8 1)" font-family="'Liberation Sans', sans-serif" font-size="35" text-anchor="middle" fill="#0d8383" stroke="#0d8383" stroke-width="1.2">Avg Muts</text>
</g>
<g>
<rect x="1663.60" y="1253.00" width="156.30" height="134.40" fill="#dedad7"/>
<rect x="1819.90" y="1253.00" width="155.10" height="134.40" fill="#f5c18f"/>
<text transform="translate(1641.50 1260.80) scale(1.18 1)" font-family="'Liberation Sans', sans-serif" font-size="28.7" font-weight="normal" text-anchor="end" fill="#1a1a1a" stroke="#1a1a1a" stroke-width="0.6">0.7</text>
<line x1="1663.60" x2="1819.90" y1="1280.00" y2="1280.00" stroke="#e8e4e2" stroke-width="2.8"/>
<line x1="1819.90" x2="1975.00" y1="1280.00" y2="1280.00" stroke="#f8ca9e" stroke-width="2.8"/>
<text transform="translate(1641.50 1287.80) scale(1.18 1)" font-family="'Liberation Sans', sans-serif" font-size="28.7" font-weight="normal" text-anchor="end" fill="#1a1a1a" stroke="#1a1a1a" stroke-width="0.6">0.6</text>
<line x1="1663.60" x2="1819.90" y1="1307.00" y2="1307.00" stroke="#e8e4e2" stroke-width="2.8"/>
<line x1="1819.90" x2="1975.00" y1="1307.00" y2="1307.00" stroke="#f8ca9e" stroke-width="2.8"/>
<text transform="translate(1641.50 1314.80) scale(1.18 1)" font-family="'Liberation Sans', sans-serif" font-size="28.7" font-weight="normal" text-anchor="end" fill="#1a1a1a" stroke="#1a1a1a" stroke-width="0.6">0.5</text>
<line x1="1663.60" x2="1819.90" y1="1333.60" y2="1333.60" stroke="#e8e4e2" stroke-width="2.8"/>
<line x1="1819.90" x2="1975.00" y1="1333.60" y2="1333.60" stroke="#f8ca9e" stroke-width="2.8"/>
<text transform="translate(1641.50 1341.40) scale(1.18 1)" font-family="'Liberation Sans', sans-serif" font-size="28.7" font-weight="normal" text-anchor="end" fill="#1a1a1a" stroke="#1a1a1a" stroke-width="0.6">0.4</text>
<line x1="1663.60" x2="1819.90" y1="1360.60" y2="1360.60" stroke="#e8e4e2" stroke-width="2.8"/>
<line x1="1819.90" x2="1975.00" y1="1360.60" y2="1360.60" stroke="#f8ca9e" stroke-width="2.8"/>
<text transform="translate(1641.50 1368.40) scale(1.18 1)" font-family="'Liberation Sans', sans-serif" font-size="28.7" font-weight="normal" text-anchor="end" fill="#1a1a1a" stroke="#1a1a1a" stroke-width="0.6">0.3</text>
<text transform="translate(1641.50 1395.20) scale(1.18 1)" font-family="'Liberation Sans', sans-serif" font-size="28.7" font-weight="normal" text-anchor="end" fill="#1a1a1a" stroke="#1a1a1a" stroke-width="0.6">0.2</text>
<line x1="1819.90" x2="1819.90" y1="1253.00" y2="1387.40" stroke="#7d7068" stroke-width="1.2"/>
<path d="M1665.4 1279.9C1666.1 1279.3 1670.5 1273.5 1672.0 1273.0C1673.5 1272.5 1677.8 1274.3 1680.0 1275.0C1682.2 1275.7 1691.8 1278.8 1694.0 1280.0C1696.2 1281.2 1700.3 1286.1 1702.0 1287.0C1703.7 1287.9 1709.4 1289.4 1711.0 1289.0C1712.6 1288.6 1716.4 1282.8 1718.0 1283.0C1719.6 1283.2 1725.4 1289.4 1727.0 1291.0C1728.6 1292.6 1732.5 1298.2 1734.0 1299.0C1735.5 1299.8 1740.4 1298.1 1742.0 1299.0C1743.6 1299.9 1748.4 1306.1 1750.0 1308.0C1751.6 1309.9 1756.4 1315.8 1758.0 1318.0C1759.6 1320.2 1764.6 1328.0 1766.0 1330.0C1767.4 1332.0 1770.5 1337.6 1772.0 1338.0C1773.5 1338.4 1779.4 1333.4 1781.0 1334.0C1782.6 1334.6 1786.3 1342.3 1788.0 1344.0C1789.7 1345.7 1795.8 1349.8 1798.0 1351.0C1800.2 1352.2 1807.8 1354.9 1810.0 1356.0C1812.2 1357.1 1818.2 1361.8 1820.0 1362.0C1821.8 1362.2 1825.6 1358.3 1828.0 1358.0C1830.4 1357.7 1841.0 1358.7 1844.0 1359.0C1847.0 1359.3 1855.6 1361.2 1858.0 1361.0C1860.4 1360.8 1865.8 1357.4 1868.0 1357.0C1870.2 1356.6 1877.9 1356.6 1880.0 1357.0C1882.1 1357.4 1887.2 1361.1 1889.0 1361.0C1890.8 1360.9 1894.9 1356.8 1898.0 1356.0C1901.1 1355.2 1916.2 1353.4 1920.0 1353.0C1923.8 1352.6 1933.2 1351.8 1936.0 1352.0C1938.8 1352.2 1945.7 1354.8 1948.0 1355.0C1950.3 1355.2 1957.2 1353.4 1959.0 1354.0C1960.8 1354.6 1965.1 1359.9 1966.0 1360.6C1966.9 1361.3 1968.2 1361.0 1968.4 1361.0" fill="none" stroke="#0d8383" stroke-width="10.6" stroke-linejoin="round" stroke-linecap="round" clip-path="url(#cp53)"/>
<text transform="translate(1819.80 1238.80) scale(1.2 1)" font-family="'Liberation Sans', sans-serif" font-size="28.4" font-weight="normal" text-anchor="middle" fill="#1a1a1a" stroke="#1a1a1a" stroke-width="0.6">Stomach-AdenoCA</text>
<text transform="translate(1665.20 1427.70) scale(1.165 1)" font-family="'Liberation Sans', sans-serif" font-size="29" font-weight="normal" text-anchor="middle" fill="#1a1a1a" stroke="#1a1a1a" stroke-width="0.6">-500Kb</text>
<text transform="translate(1820.30 1427.70) scale(1.165 1)" font-family="'Liberation Sans', sans-serif" font-size="29" font-weight="normal" text-anchor="middle" fill="#1a1a1a" stroke="#1a1a1a" stroke-width="0.6">B</text>
<text transform="translate(1976.20 1427.70) scale(1.165 1)" font-family="'Liberation Sans', sans-serif" font-size="29" font-weight="normal" text-anchor="middle" fill="#1a1a1a" stroke="#1a1a1a" stroke-width="0.6">+500Kb</text>
<text transform="translate(1570.03 1319.20) rotate(-90) scale(0.8 1)" font-family="'Liberation Sans', sans-serif" font-size="35" text-anchor="middle" fill="#0d8383" stroke="#0d8383" stroke-width="1.2">Avg Muts</text>
</g>
<g>
<rect x="170.00" y="1488.00" width="156.60" height="133.60" fill="#dedad7"/>
<rect x="326.60" y="1488.00" width="155.40" height="133.60" fill="#f5c18f"/>
<line x1="170.00" x2="326.60" y1="1515.00" y2="1515.00" stroke="#e8e4e2" stroke-width="2.8"/>
<line x1="326.60" x2="482.00" y1="1515.00" y2="1515.00" stroke="#f8ca9e" stroke-width="2.8"/>
<text transform="translate(149.20 1522.80) scale(1.18 1)" font-family="'Liberation Sans', sans-serif" font-size="28.7" font-weight="normal" text-anchor="end" fill="#1a1a1a" stroke="#1a1a1a" stroke-width="0.6">0.05</text>
<line x1="170.00" x2="326.60" y1="1568.00" y2="1568.00" stroke="#e8e4e2" stroke-width="2.8"/>
<line x1="326.60" x2="482.00" y1="1568.00" y2="1568.00" stroke="#f8ca9e" stroke-width="2.8"/>
<text transform="translate(149.20 1575.80) scale(1.18 1)" font-family="'Liberation Sans', sans-serif" font-size="28.7" font-weight="normal" text-anchor="end" fill="#1a1a1a" stroke="#1a1a1a" stroke-width="0.6">0.04</text>
<line x1="170.00" x2="326.60" y1="1621.00" y2="1621.00" stroke="#e8e4e2" stroke-width="2.8"/>
<line x1="326.60" x2="482.00" y1="1621.00" y2="1621.00" stroke="#f8ca9e" stroke-width="2.8"/>
<text transform="translate(149.20 1628.80) scale(1.18 1)" font-family="'Liberation Sans', sans-serif" font-size="28.7" font-weight="normal" text-anchor="end" fill="#1a1a1a" stroke="#1a1a1a" stroke-width="0.6">0.03</text>
<line x1="326.60" x2="326.60" y1="1488.00" y2="1621.60" stroke="#7d7068" stroke-width="1.2"/>
<path d="M171.8 1501.8C171.8 1501.8 171.5 1496.4 172.0 1502.0C172.5 1507.6 175.7 1553.8 177.0 1558.0C178.3 1562.2 183.4 1543.6 185.0 1544.0C186.6 1544.4 191.3 1563.2 193.0 1562.0C194.7 1560.8 200.4 1536.2 202.0 1532.0C203.6 1527.8 207.5 1521.6 209.0 1520.0C210.5 1518.4 215.4 1513.8 217.0 1516.0C218.6 1518.2 223.4 1541.1 225.0 1542.0C226.6 1542.9 231.5 1527.1 233.0 1525.0C234.5 1522.9 238.5 1519.1 240.0 1521.0C241.5 1522.9 246.6 1544.4 248.0 1544.0C249.4 1543.6 252.9 1519.8 254.0 1517.0C255.1 1514.2 258.0 1512.2 259.0 1516.0C260.0 1519.8 262.7 1550.7 264.0 1555.0C265.3 1559.3 270.4 1557.8 272.0 1559.0C273.6 1560.2 278.5 1566.4 280.0 1567.0C281.5 1567.6 285.6 1565.7 287.0 1565.0C288.4 1564.3 292.5 1558.7 294.0 1560.0C295.5 1561.3 300.4 1576.9 302.0 1578.0C303.6 1579.1 308.4 1572.3 310.0 1571.0C311.6 1569.7 316.3 1564.1 318.0 1565.0C319.7 1565.9 325.4 1577.7 327.0 1580.0C328.6 1582.3 332.5 1587.1 334.0 1588.0C335.5 1588.9 340.5 1589.8 342.0 1589.0C343.5 1588.2 347.6 1582.6 349.0 1580.0C350.4 1577.4 354.7 1564.6 356.0 1563.0C357.3 1561.4 360.4 1562.3 362.0 1564.0C363.6 1565.7 370.2 1578.8 372.0 1580.0C373.8 1581.2 378.5 1574.0 380.0 1576.0C381.5 1578.0 385.8 1597.6 387.0 1600.0C388.2 1602.4 390.9 1601.9 392.0 1600.0C393.1 1598.1 396.7 1582.1 398.0 1581.0C399.3 1579.9 403.7 1591.3 405.0 1589.0C406.3 1586.7 410.0 1561.1 411.0 1558.0C412.0 1554.9 413.7 1555.8 415.0 1558.0C416.3 1560.2 422.0 1576.9 424.0 1580.0C426.0 1583.1 433.1 1590.1 435.0 1589.0C436.9 1587.9 441.6 1567.4 443.0 1569.0C444.4 1570.6 447.9 1601.5 449.0 1605.0C450.1 1608.5 453.2 1607.9 454.0 1604.0C454.8 1600.1 456.4 1569.9 457.0 1566.0C457.6 1562.1 459.0 1563.4 460.0 1565.0C461.0 1566.6 465.6 1580.8 467.0 1582.0C468.4 1583.2 472.7 1577.1 474.0 1577.0C475.3 1576.9 479.6 1581.0 480.2 1581.4" fill="none" stroke="#0d8383" stroke-width="10.6" stroke-linejoin="round" stroke-linecap="round" clip-path="url(#cp60)"/>
<text transform="translate(326.50 1473.80) scale(1.2 1)" font-family="'Liberation Sans', sans-serif" font-size="28.4" font-weight="normal" text-anchor="middle" fill="#1a1a1a" stroke="#1a1a1a" stroke-width="0.6">Thy-AdenoCA</text>
<text transform="translate(171.60 1661.90) scale(1.165 1)" font-family="'Liberation Sans', sans-serif" font-size="29" font-weight="normal" text-anchor="middle" fill="#1a1a1a" stroke="#1a1a1a" stroke-width="0.6">-500Kb</text>
<text transform="translate(327.00 1661.90) scale(1.165 1)" font-family="'Liberation Sans', sans-serif" font-size="29" font-weight="normal" text-anchor="middle" fill="#1a1a1a" stroke="#1a1a1a" stroke-width="0.6">B</text>
<text transform="translate(483.20 1661.90) scale(1.165 1)" font-family="'Liberation Sans', sans-serif" font-size="29" font-weight="normal" text-anchor="middle" fill="#1a1a1a" stroke="#1a1a1a" stroke-width="0.6">+500Kb</text>
<text transform="translate(59.60 1553.80) rotate(-90) scale(0.8 1)" font-family="'Liberation Sans', sans-serif" font-size="35" text-anchor="middle" fill="#0d8383" stroke="#0d8383" stroke-width="1.2">Avg Muts</text>
</g>
<g>
<rect x="668.40" y="1488.00" width="156.40" height="133.60" fill="#dedad7"/>
<rect x="824.80" y="1488.00" width="155.20" height="133.60" fill="#f5c18f"/>
<line x1="668.40" x2="824.80" y1="1542.00" y2="1542.00" stroke="#e8e4e2" stroke-width="2.8"/>
<line x1="824.80" x2="980.00" y1="1542.00" y2="1542.00" stroke="#f8ca9e" stroke-width="2.8"/>
<text transform="translate(646.30 1549.80) scale(1.18 1)" font-family="'Liberation Sans', sans-serif" font-size="28.7" font-weight="normal" text-anchor="end" fill="#1a1a1a" stroke="#1a1a1a" stroke-width="0.6">0.6</text>
<line x1="668.40" x2="824.80" y1="1595.00" y2="1595.00" stroke="#e8e4e2" stroke-width="2.8"/>
<line x1="824.80" x2="980.00" y1="1595.00" y2="1595.00" stroke="#f8ca9e" stroke-width="2.8"/>
<text transform="translate(646.30 1602.80) scale(1.18 1)" font-family="'Liberation Sans', sans-serif" font-size="28.7" font-weight="normal" text-anchor="end" fill="#1a1a1a" stroke="#1a1a1a" stroke-width="0.6">0.5</text>
<line x1="824.80" x2="824.80" y1="1488.00" y2="1621.60" stroke="#7d7068" stroke-width="1.2"/>
<path d="M670.2 1512.2C670.8 1512.3 674.7 1511.9 676.0 1513.0C677.3 1514.1 681.5 1522.5 683.0 1523.0C684.5 1523.5 689.4 1519.0 691.0 1518.0C692.6 1517.0 697.4 1511.3 699.0 1513.0C700.6 1514.7 705.4 1534.6 707.0 1535.0C708.6 1535.4 713.4 1519.1 715.0 1517.0C716.6 1514.9 721.4 1512.0 723.0 1514.0C724.6 1516.0 729.5 1535.5 731.0 1537.0C732.5 1538.5 736.5 1529.7 738.0 1529.0C739.5 1528.3 744.4 1530.9 746.0 1530.0C747.6 1529.1 752.4 1519.0 754.0 1520.0C755.6 1521.0 760.5 1537.1 762.0 1540.0C763.5 1542.9 767.4 1548.5 769.0 1549.0C770.6 1549.5 776.4 1544.2 778.0 1545.0C779.6 1545.8 783.5 1555.0 785.0 1557.0C786.5 1559.0 791.4 1564.5 793.0 1565.0C794.6 1565.5 799.5 1562.8 801.0 1562.0C802.5 1561.2 806.5 1555.3 808.0 1557.0C809.5 1558.7 814.4 1578.0 816.0 1579.0C817.6 1580.0 822.4 1568.3 824.0 1567.0C825.6 1565.7 830.4 1564.9 832.0 1566.0C833.6 1567.1 838.4 1576.8 840.0 1578.0C841.6 1579.2 846.5 1576.2 848.0 1578.0C849.5 1579.8 853.6 1596.4 855.0 1596.0C856.4 1595.6 860.5 1576.4 862.0 1574.0C863.5 1571.6 868.4 1572.6 870.0 1572.0C871.6 1571.4 876.4 1567.3 878.0 1568.0C879.6 1568.7 884.4 1578.1 886.0 1579.0C887.6 1579.9 892.2 1577.5 894.0 1577.0C895.8 1576.5 901.7 1573.4 904.0 1574.0C906.3 1574.6 914.8 1582.8 917.0 1583.0C919.2 1583.2 924.4 1577.2 926.0 1576.0C927.6 1574.8 931.6 1571.2 933.0 1571.0C934.4 1570.8 938.5 1575.4 940.0 1574.0C941.5 1572.6 946.4 1557.1 948.0 1557.0C949.6 1556.9 954.4 1571.2 956.0 1573.0C957.6 1574.8 962.3 1574.9 964.0 1575.0C965.7 1575.1 971.6 1575.8 973.0 1574.0C974.4 1572.2 977.5 1558.7 978.0 1557.0C978.5 1555.3 978.2 1556.8 978.2 1556.8" fill="none" stroke="#0d8383" stroke-width="10.6" stroke-linejoin="round" stroke-linecap="round" clip-path="url(#cp61)"/>
<text transform="translate(824.70 1473.80) scale(1.2 1)" font-family="'Liberation Sans', sans-serif" font-size="28.4" font-weight="normal" text-anchor="middle" fill="#1a1a1a" stroke="#1a1a1a" stroke-width="0.6">Uterus-AdenoCA</text>
<text transform="translate(670.00 1661.90) scale(1.165 1)" font-family="'Liberation Sans', sans-serif" font-size="29" font-weight="normal" text-anchor="middle" fill="#1a1a1a" stroke="#1a1a1a" stroke-width="0.6">-500Kb</text>
<text transform="translate(825.20 1661.90) scale(1.165 1)" font-family="'Liberation Sans', sans-serif" font-size="29" font-weight="normal" text-anchor="middle" fill="#1a1a1a" stroke="#1a1a1a" stroke-width="0.6">B</text>
<text transform="translate(981.20 1661.90) scale(1.165 1)" font-family="'Liberation Sans', sans-serif" font-size="29" font-weight="normal" text-anchor="middle" fill="#1a1a1a" stroke="#1a1a1a" stroke-width="0.6">+500Kb</text>
<text transform="translate(575.53 1553.80) rotate(-90) scale(0.8 1)" font-family="'Liberation Sans', sans-serif" font-size="35" text-anchor="middle" fill="#0d8383" stroke="#0d8383" stroke-width="1.2">Avg Muts</text>
</g>
<text transform="translate(58.00 1780.50)" font-family="'Liberation Sans', sans-serif" font-size="38.5" font-weight="bold" text-anchor="start" fill="#000">Domains Sorted Based on the Aggregate Mutation Burden of Skin-Melanoma</text>
<line x1="293" x2="1235" y1="1805" y2="1805" stroke="#000" stroke-width="2.5"/>
<polygon points="1230,1794 1253,1805 1230,1816" fill="#000"/>
<line x1="96.6" x2="96.6" y1="1857" y2="2390" stroke="#000" stroke-width="2.5"/>
<polygon points="86,2385 107.2,2385 96.6,2406.5" fill="#000"/>
<text transform="translate(78.7 2077.5) rotate(-90)" font-family="'Liberation Sans', sans-serif" font-size="38.2" font-weight="bold" text-anchor="middle" fill="#000">Individual samples</text>
<rect x="200" y="1834.7" width="579" height="700.3" fill="#fdfdfd"/>
<defs>
<linearGradient id="hg" x1="0" x2="1" y1="0" y2="0"><stop offset="0" stop-color="#f0f0f0"/><stop offset="0.22" stop-color="#e6e6e6"/><stop offset="0.48" stop-color="#d8d8d8"/><stop offset="0.552" stop-color="#d2d2d2"/><stop offset="0.738" stop-color="#bcbcbc"/><stop offset="0.831" stop-color="#a6a6a6"/><stop offset="0.924" stop-color="#8e8e8e"/><stop offset="1" stop-color="#7c7c7c"/></linearGradient>
<filter id="sblur" filterUnits="userSpaceOnUse" x="185" y="1821" width="1180" height="9.5"><feGaussianBlur stdDeviation="1.6 0.01"/></filter>
<filter id="noise" x="0" y="0" width="100%" height="100%"><feTurbulence type="fractalNoise" baseFrequency="0.22 0.09" numOctaves="2" seed="3" result="n"/><feColorMatrix in="n" type="matrix" values="0 0 0 0 0.62  0 0 0 0 0.62  0 0 0 0 0.62  1.6 0 0 0 -0.62"/></filter>
<linearGradient id="sk" x1="0" x2="1" y1="0" y2="0"><stop offset="0" stop-color="#000" stop-opacity="0.15"/><stop offset="0.6" stop-color="#000" stop-opacity="0.8"/><stop offset="1" stop-color="#000" stop-opacity="1"/></linearGradient>
<linearGradient id="sw" x1="0" x2="1" y1="0" y2="0"><stop offset="0" stop-color="#fff" stop-opacity="0.5"/><stop offset="0.85" stop-color="#fff" stop-opacity="1"/><stop offset="1" stop-color="#fff" stop-opacity="0.4"/></linearGradient>
</defs>
<rect x="779" y="1834.7" width="580.8" height="700.3" fill="url(#hg)"/>
<linearGradient id="tl" x1="0" x2="0" y1="0" y2="1"><stop offset="0" stop-color="#fff" stop-opacity="0.28"/><stop offset="0.6" stop-color="#fff" stop-opacity="0.14"/><stop offset="1" stop-color="#fff" stop-opacity="0"/></linearGradient>
<linearGradient id="mhg" x1="0" x2="1" y1="0" y2="0"><stop offset="0" stop-color="#fff"/><stop offset="0.55" stop-color="#fff"/><stop offset="0.95" stop-color="#000"/><stop offset="1" stop-color="#000"/></linearGradient>
<mask id="mh" maskUnits="userSpaceOnUse" x="779" y="1834.7" width="580.8" height="700.3"><rect x="779" y="1834.7" width="580.8" height="700.3" fill="url(#mhg)"/></mask>
<rect x="779" y="1834.7" width="580.8" height="210.1" fill="url(#tl)" mask="url(#mh)"/>
<g filter="url(#soft)"><rect x="779" y="1834.7" width="580.8" height="8.6" fill="#fff" opacity="0.05"/><rect x="779" y="1843.3" width="580.8" height="10.9" fill="#fff" opacity="0.08"/><rect x="779" y="1854.2" width="580.8" height="5.4" fill="#fff" opacity="0.05"/><rect x="779" y="1869.2" width="580.8" height="6.4" fill="#fff" opacity="0.12"/><rect x="779" y="1875.6" width="580.8" height="11.3" fill="#000" opacity="0.006"/><rect x="779" y="1886.9" width="580.8" height="14.4" fill="#fff" opacity="0.05"/><rect x="779" y="1916.8" width="580.8" height="12.0" fill="#fff" opacity="0.05"/><rect x="779" y="1928.8" width="580.8" height="5.7" fill="#fff" opacity="0.07"/><rect x="779" y="1942.9" width="580.8" height="10.0" fill="#000" opacity="0.014"/><rect x="779" y="1971.4" width="580.8" height="13.0" fill="#000" opacity="0.007"/><rect x="779" y="1994.0" width="580.8" height="6.7" fill="#fff" opacity="0.09"/><rect x="779" y="2014.1" width="580.8" height="14.6" fill="#fff" opacity="0.09"/><rect x="779" y="2028.7" width="580.8" height="11.4" fill="#000" opacity="0.017"/><rect x="779" y="2068.1" width="580.8" height="14.0" fill="#fff" opacity="0.09"/><rect x="779" y="2082.1" width="580.8" height="5.2" fill="#fff" opacity="0.05"/><rect x="779" y="2093.0" width="580.8" height="6.4" fill="#fff" opacity="0.11"/><rect x="779" y="2099.4" width="580.8" height="5.9" fill="#fff" opacity="0.11"/><rect x="779" y="2119.3" width="580.8" height="8.1" fill="#fff" opacity="0.11"/><rect x="779" y="2127.4" width="580.8" height="15.5" fill="#fff" opacity="0.06"/><rect x="779" y="2142.9" width="580.8" height="7.6" fill="#fff" opacity="0.06"/><rect x="779" y="2150.5" width="580.8" height="5.0" fill="#fff" opacity="0.09"/><rect x="779" y="2181.7" width="580.8" height="12.4" fill="#000" opacity="0.015"/><rect x="779" y="2208.8" width="580.8" height="9.3" fill="#fff" opacity="0.09"/><rect x="779" y="2218.1" width="580.8" height="5.7" fill="#fff" opacity="0.05"/><rect x="779" y="2223.8" width="580.8" height="8.7" fill="#fff" opacity="0.05"/><rect x="779" y="2232.5" width="580.8" height="6.1" fill="#fff" opacity="0.11"/><rect x="779" y="2238.6" width="580.8" height="11.8" fill="#fff" opacity="0.07"/><rect x="779" y="2250.4" width="580.8" height="9.0" fill="#000" opacity="0.018"/><rect x="779" y="2259.4" width="580.8" height="10.1" fill="#fff" opacity="0.05"/><rect x="779" y="2269.5" width="580.8" height="8.8" fill="#000" opacity="0.007"/><rect x="779" y="2283.5" width="580.8" height="10.8" fill="#fff" opacity="0.04"/><rect x="779" y="2319.6" width="580.8" height="7.9" fill="#fff" opacity="0.10"/><rect x="779" y="2338.4" width="580.8" height="8.6" fill="#000" opacity="0.018"/><rect x="779" y="2375.4" width="580.8" height="7.5" fill="#fff" opacity="0.04"/><rect x="779" y="2382.9" width="580.8" height="5.3" fill="#fff" opacity="0.10"/><rect x="779" y="2388.2" width="580.8" height="15.5" fill="#000" opacity="0.018"/><rect x="779" y="2403.7" width="580.8" height="15.5" fill="#fff" opacity="0.06"/><rect x="779" y="2419.2" width="580.8" height="7.2" fill="#fff" opacity="0.11"/><rect x="779" y="2426.4" width="580.8" height="14.2" fill="#fff" opacity="0.10"/><rect x="779" y="2461.6" width="580.8" height="13.3" fill="#fff" opacity="0.10"/><rect x="779" y="2483.5" width="580.8" height="15.7" fill="#fff" opacity="0.12"/><rect x="779" y="2499.2" width="580.8" height="13.0" fill="#fff" opacity="0.05"/><rect x="779" y="1834.7" width="578" height="2.5" fill="#fff" opacity="0.35"/><rect x="1032" y="1837.2" width="328" height="1.5" fill="#fff" opacity="0.18"/><rect x="779" y="1838.7" width="486" height="2.0" fill="#fff" opacity="0.31"/><rect x="779" y="1847.2" width="581" height="3.0" fill="#fff" opacity="0.25"/><rect x="820" y="1851.7" width="540" height="2.0" fill="#fff" opacity="0.15"/><rect x="779" y="1853.7" width="581" height="1.5" fill="#fff" opacity="0.15"/><rect x="807" y="1855.2" width="548" height="3.0" fill="#000" opacity="0.07"/><rect x="779" y="1858.2" width="581" height="1.5" fill="#fff" opacity="0.28"/><rect x="779" y="1859.7" width="490" height="2.5" fill="#fff" opacity="0.32"/><rect x="974" y="1866.2" width="349" height="2.0" fill="#fff" opacity="0.20"/><rect x="779" y="1871.7" width="415" height="2.0" fill="#fff" opacity="0.22"/><rect x="984" y="1873.7" width="376" height="2.5" fill="#fff" opacity="0.22"/><rect x="779" y="1876.2" width="484" height="2.5" fill="#000" opacity="0.05"/><rect x="1058" y="1878.7" width="142" height="1.5" fill="#fff" opacity="0.18"/><rect x="779" y="1880.2" width="449" height="1.5" fill="#000" opacity="0.07"/><rect x="779" y="1881.7" width="524" height="2.0" fill="#fff" opacity="0.19"/><rect x="779" y="1883.7" width="581" height="2.0" fill="#000" opacity="0.07"/><rect x="814" y="1885.7" width="372" height="1.5" fill="#000" opacity="0.05"/><rect x="779" y="1887.2" width="581" height="2.0" fill="#000" opacity="0.08"/><rect x="868" y="1889.2" width="492" height="2.0" fill="#000" opacity="0.04"/><rect x="779" y="1891.2" width="581" height="3.0" fill="#000" opacity="0.03"/><rect x="1017" y="1898.7" width="257" height="3.0" fill="#fff" opacity="0.31"/><rect x="1021" y="1904.2" width="339" height="2.0" fill="#fff" opacity="0.27"/><rect x="826" y="1910.2" width="387" height="1.5" fill="#fff" opacity="0.32"/><rect x="833" y="1911.7" width="526" height="2.0" fill="#fff" opacity="0.21"/><rect x="779" y="1915.7" width="549" height="3.0" fill="#000" opacity="0.04"/><rect x="926" y="1918.7" width="388" height="1.5" fill="#fff" opacity="0.15"/><rect x="949" y="1922.7" width="411" height="2.5" fill="#000" opacity="0.07"/><rect x="779" y="1925.2" width="455" height="3.0" fill="#000" opacity="0.06"/><rect x="779" y="1932.7" width="581" height="3.0" fill="#fff" opacity="0.31"/><rect x="779" y="1938.7" width="581" height="2.0" fill="#000" opacity="0.05"/><rect x="991" y="1955.7" width="240" height="2.5" fill="#000" opacity="0.08"/><rect x="995" y="1967.2" width="266" height="2.0" fill="#000" opacity="0.02"/><rect x="914" y="1972.2" width="290" height="2.5" fill="#fff" opacity="0.17"/><rect x="779" y="1976.2" width="581" height="1.5" fill="#000" opacity="0.08"/><rect x="948" y="1977.7" width="321" height="2.5" fill="#fff" opacity="0.34"/><rect x="924" y="1982.2" width="436" height="3.0" fill="#000" opacity="0.05"/><rect x="867" y="1985.2" width="433" height="2.0" fill="#fff" opacity="0.20"/><rect x="779" y="1987.2" width="419" height="2.0" fill="#fff" opacity="0.29"/><rect x="1032" y="1989.2" width="167" height="2.0" fill="#000" opacity="0.07"/><rect x="779" y="1991.2" width="581" height="1.5" fill="#000" opacity="0.03"/><rect x="779" y="1994.7" width="581" height="2.0" fill="#fff" opacity="0.31"/><rect x="998" y="2002.2" width="362" height="1.5" fill="#fff" opacity="0.19"/><rect x="865" y="2005.2" width="494" height="3.0" fill="#fff" opacity="0.35"/><rect x="828" y="2010.2" width="496" height="2.0" fill="#fff" opacity="0.33"/><rect x="805" y="2019.7" width="509" height="3.0" fill="#000" opacity="0.06"/><rect x="857" y="2024.2" width="502" height="2.5" fill="#fff" opacity="0.24"/><rect x="967" y="2034.7" width="339" height="2.0" fill="#fff" opacity="0.31"/><rect x="779" y="2036.7" width="581" height="1.5" fill="#fff" opacity="0.34"/><rect x="779" y="2038.2" width="581" height="2.5" fill="#fff" opacity="0.32"/><rect x="931" y="2040.7" width="429" height="2.5" fill="#000" opacity="0.08"/><rect x="815" y="2043.2" width="544" height="2.5" fill="#fff" opacity="0.14"/><rect x="779" y="2052.2" width="535" height="1.5" fill="#000" opacity="0.04"/><rect x="1057" y="2053.7" width="302" height="1.5" fill="#000" opacity="0.05"/><rect x="779" y="2063.2" width="581" height="2.0" fill="#000" opacity="0.02"/><rect x="1001" y="2077.7" width="277" height="3.0" fill="#fff" opacity="0.12"/><rect x="779" y="2080.7" width="581" height="2.0" fill="#fff" opacity="0.15"/><rect x="893" y="2087.7" width="467" height="3.0" fill="#000" opacity="0.05"/><rect x="1056" y="2105.2" width="135" height="1.5" fill="#000" opacity="0.02"/><rect x="936" y="2110.7" width="367" height="2.5" fill="#fff" opacity="0.18"/><rect x="779" y="2113.2" width="581" height="2.5" fill="#fff" opacity="0.09"/><rect x="779" y="2124.2" width="581" height="3.0" fill="#fff" opacity="0.12"/><rect x="1057" y="2130.2" width="303" height="1.5" fill="#000" opacity="0.03"/><rect x="1049" y="2133.7" width="190" height="2.5" fill="#fff" opacity="0.10"/><rect x="779" y="2140.2" width="570" height="3.0" fill="#000" opacity="0.02"/><rect x="779" y="2151.7" width="540" height="2.0" fill="#fff" opacity="0.14"/><rect x="779" y="2183.2" width="581" height="1.5" fill="#fff" opacity="0.21"/><rect x="779" y="2186.2" width="581" height="2.0" fill="#000" opacity="0.05"/><rect x="779" y="2194.2" width="517" height="1.5" fill="#fff" opacity="0.10"/><rect x="919" y="2205.2" width="302" height="2.0" fill="#000" opacity="0.04"/><rect x="779" y="2233.7" width="446" height="2.5" fill="#000" opacity="0.02"/><rect x="925" y="2237.7" width="385" height="2.5" fill="#fff" opacity="0.15"/><rect x="779" y="2240.2" width="581" height="1.5" fill="#fff" opacity="0.11"/><rect x="779" y="2250.7" width="581" height="2.5" fill="#fff" opacity="0.17"/><rect x="883" y="2260.7" width="307" height="2.0" fill="#fff" opacity="0.19"/><rect x="779" y="2262.7" width="435" height="2.0" fill="#fff" opacity="0.10"/><rect x="779" y="2276.2" width="503" height="2.5" fill="#000" opacity="0.04"/><rect x="907" y="2283.7" width="452" height="1.5" fill="#fff" opacity="0.09"/><rect x="779" y="2285.2" width="581" height="2.0" fill="#fff" opacity="0.09"/><rect x="779" y="2290.2" width="581" height="2.0" fill="#000" opacity="0.02"/><rect x="779" y="2298.7" width="425" height="2.0" fill="#fff" opacity="0.12"/><rect x="779" y="2300.7" width="535" height="2.5" fill="#fff" opacity="0.15"/><rect x="933" y="2311.2" width="427" height="2.5" fill="#fff" opacity="0.13"/><rect x="931" y="2358.2" width="429" height="1.5" fill="#fff" opacity="0.14"/><rect x="779" y="2363.7" width="581" height="2.5" fill="#000" opacity="0.03"/><rect x="786" y="2384.7" width="546" height="2.0" fill="#000" opacity="0.05"/><rect x="779" y="2386.7" width="546" height="1.5" fill="#fff" opacity="0.17"/><rect x="1068" y="2405.2" width="179" height="2.5" fill="#fff" opacity="0.10"/><rect x="1042" y="2419.2" width="318" height="2.0" fill="#fff" opacity="0.11"/><rect x="1049" y="2445.2" width="286" height="2.0" fill="#000" opacity="0.02"/><rect x="799" y="2447.2" width="412" height="1.5" fill="#fff" opacity="0.19"/><rect x="789" y="2455.2" width="571" height="2.5" fill="#000" opacity="0.04"/><rect x="872" y="2461.2" width="484" height="2.0" fill="#fff" opacity="0.12"/><rect x="779" y="2463.2" width="581" height="2.0" fill="#fff" opacity="0.16"/><rect x="915" y="2470.7" width="346" height="2.5" fill="#fff" opacity="0.18"/><rect x="1000" y="2474.7" width="359" height="2.0" fill="#000" opacity="0.02"/><rect x="779" y="2476.7" width="581" height="2.5" fill="#fff" opacity="0.16"/><rect x="779" y="2518.2" width="581" height="3.0" fill="#fff" opacity="0.10"/><rect x="874" y="2531.7" width="486" height="3.0" fill="#000" opacity="0.02"/><rect x="826" y="1835.0" width="533" height="2.5" fill="url(#sk)" opacity="0.28"/><rect x="943" y="1837.5" width="416" height="1.5" fill="url(#sk)" opacity="0.17"/><rect x="978" y="1840.9" width="382" height="2.5" fill="url(#sk)" opacity="0.15"/><rect x="806" y="1842.8" width="553" height="1.5" fill="url(#sk)" opacity="0.15"/><rect x="895" y="1846.0" width="465" height="1.5" fill="url(#sk)" opacity="0.17"/><rect x="952" y="1848.5" width="407" height="2.5" fill="url(#sk)" opacity="0.28"/><rect x="785" y="1850.6" width="575" height="2" fill="url(#sk)" opacity="0.21"/><rect x="964" y="1853.3" width="396" height="2" fill="url(#sk)" opacity="0.23"/><rect x="941" y="1856.1" width="419" height="1.5" fill="url(#sk)" opacity="0.22"/></g>
<rect x="779" y="1834.7" width="580.8" height="700.3" filter="url(#noise)" opacity="0.22"/>
<rect x="200" y="1834.7" width="579" height="700.3" filter="url(#noise)" opacity="0.035"/>
<rect x="576" y="2289.7" width="203" height="2" fill="#000" opacity="0.022"/><rect x="278" y="1994.1" width="102" height="2" fill="#000" opacity="0.019"/><rect x="501" y="2015.9" width="278" height="2" fill="#000" opacity="0.015"/><rect x="506" y="2113.7" width="113" height="2" fill="#000" opacity="0.027"/><rect x="208" y="2171.3" width="352" height="2" fill="#000" opacity="0.020"/><rect x="575" y="2295.7" width="204" height="2" fill="#000" opacity="0.017"/><rect x="557" y="1842.1" width="222" height="2" fill="#000" opacity="0.012"/><rect x="293" y="2009.9" width="304" height="2" fill="#000" opacity="0.029"/><rect x="349" y="1974.0" width="348" height="2" fill="#000" opacity="0.019"/><rect x="404" y="1977.6" width="65" height="2" fill="#000" opacity="0.026"/><rect x="347" y="2092.6" width="312" height="2" fill="#000" opacity="0.019"/><rect x="279" y="2525.2" width="235" height="2" fill="#000" opacity="0.029"/><rect x="463" y="2343.1" width="277" height="2" fill="#000" opacity="0.015"/><rect x="226" y="2101.0" width="86" height="2" fill="#000" opacity="0.028"/><rect x="490" y="2273.0" width="257" height="2" fill="#000" opacity="0.012"/><rect x="372" y="2046.3" width="384" height="2" fill="#000" opacity="0.029"/><rect x="612" y="2528.0" width="167" height="2" fill="#000" opacity="0.013"/><rect x="230" y="2482.8" width="331" height="2" fill="#000" opacity="0.014"/><rect x="509" y="2282.5" width="270" height="2" fill="#000" opacity="0.013"/><rect x="556" y="2299.1" width="223" height="2" fill="#000" opacity="0.018"/><rect x="526" y="2529.3" width="253" height="2" fill="#000" opacity="0.026"/><rect x="536" y="2162.0" width="138" height="2" fill="#000" opacity="0.024"/><rect x="622" y="2314.1" width="157" height="2" fill="#000" opacity="0.020"/><rect x="543" y="2396.3" width="182" height="2" fill="#000" opacity="0.023"/><rect x="408" y="2058.1" width="272" height="2" fill="#000" opacity="0.012"/><rect x="266" y="2460.2" width="163" height="2" fill="#000" opacity="0.018"/><rect x="442" y="1894.2" width="170" height="2" fill="#000" opacity="0.029"/><rect x="348" y="2204.7" width="258" height="2" fill="#000" opacity="0.023"/><rect x="231" y="1981.0" width="160" height="2" fill="#000" opacity="0.022"/><rect x="566" y="2238.1" width="123" height="2" fill="#000" opacity="0.019"/><rect x="289" y="2382.0" width="197" height="2" fill="#000" opacity="0.021"/><rect x="495" y="2259.7" width="284" height="2" fill="#000" opacity="0.012"/><rect x="435" y="2463.4" width="276" height="2" fill="#000" opacity="0.016"/><rect x="291" y="2179.5" width="87" height="2" fill="#000" opacity="0.027"/><rect x="250" y="2302.7" width="100" height="2" fill="#000" opacity="0.018"/><rect x="403" y="2411.4" width="249" height="2" fill="#000" opacity="0.020"/><rect x="500" y="2466.1" width="144" height="2" fill="#000" opacity="0.013"/><rect x="515" y="2252.8" width="115" height="2" fill="#000" opacity="0.016"/><rect x="413" y="2319.9" width="161" height="2" fill="#000" opacity="0.019"/><rect x="629" y="2131.6" width="150" height="2" fill="#000" opacity="0.014"/><rect x="477" y="2086.0" width="67" height="2" fill="#000" opacity="0.011"/><rect x="629" y="2348.3" width="150" height="2" fill="#000" opacity="0.012"/><rect x="525" y="2172.3" width="109" height="2" fill="#000" opacity="0.014"/><rect x="254" y="2124.5" width="92" height="2" fill="#000" opacity="0.023"/><rect x="534" y="2072.7" width="245" height="2" fill="#000" opacity="0.028"/><rect x="347" y="2032.8" width="146" height="2" fill="#000" opacity="0.011"/><rect x="352" y="2036.3" width="228" height="2" fill="#000" opacity="0.017"/><rect x="575" y="2521.0" width="177" height="2" fill="#000" opacity="0.014"/><rect x="251" y="2177.9" width="125" height="2" fill="#000" opacity="0.024"/><rect x="617" y="1923.7" width="90" height="2" fill="#000" opacity="0.030"/><rect x="438" y="2112.8" width="198" height="2" fill="#000" opacity="0.021"/><rect x="247" y="2112.6" width="76" height="2" fill="#000" opacity="0.026"/><rect x="529" y="2166.0" width="80" height="2" fill="#000" opacity="0.020"/><rect x="361" y="2213.8" width="110" height="2" fill="#000" opacity="0.023"/><rect x="576" y="2315.2" width="88" height="2" fill="#000" opacity="0.011"/><rect x="468" y="2276.5" width="119" height="2" fill="#000" opacity="0.023"/><rect x="381" y="2440.8" width="94" height="2" fill="#000" opacity="0.029"/><rect x="574" y="1844.1" width="107" height="2" fill="#000" opacity="0.016"/><rect x="570" y="2329.9" width="123" height="2" fill="#000" opacity="0.011"/><rect x="443" y="1848.9" width="257" height="2" fill="#000" opacity="0.028"/>
<rect x="190" y="1824" width="6" height="5" fill="#9a9a9a" opacity="0.8"/>
<g filter="url(#sblur)"><rect x="198.0" y="1821" width="3.8" height="9.5" fill="#fbab6c"/><rect x="201.5" y="1821" width="2.3" height="9.5" fill="#ee9890"/><rect x="203.5" y="1821" width="3.8" height="9.5" fill="#fbab6c"/><rect x="207.0" y="1821" width="3.8" height="9.5" fill="#fab583"/><rect x="210.5" y="1821" width="2.3" height="9.5" fill="#fbab6c"/><rect x="212.5" y="1821" width="4.3" height="9.5" fill="#fbab6c"/><rect x="216.5" y="1821" width="5.3" height="9.5" fill="#b3bce6"/><rect x="221.5" y="1821" width="3.8" height="9.5" fill="#ee9890"/><rect x="225.0" y="1821" width="4.3" height="9.5" fill="#fab583"/><rect x="229.0" y="1821" width="5.3" height="9.5" fill="#fab583"/><rect x="234.0" y="1821" width="2.8" height="9.5" fill="#fbab6c"/><rect x="236.5" y="1821" width="3.8" height="9.5" fill="#fab583"/><rect x="240.0" y="1821" width="5.3" height="9.5" fill="#fbab6c"/><rect x="245.0" y="1821" width="2.3" height="9.5" fill="#fab583"/><rect x="247.0" y="1821" width="2.3" height="9.5" fill="#fab583"/><rect x="249.0" y="1821" width="2.3" height="9.5" fill="#fab583"/><rect x="251.0" y="1821" width="4.3" height="9.5" fill="#fab583"/><rect x="255.0" y="1821" width="5.3" height="9.5" fill="#fbab6c"/><rect x="260.0" y="1821" width="2.3" height="9.5" fill="#fab583"/><rect x="262.0" y="1821" width="5.3" height="9.5" fill="#fbab6c"/><rect x="267.0" y="1821" width="2.8" height="9.5" fill="#fbab6c"/><rect x="269.5" y="1821" width="2.3" height="9.5" fill="#fab583"/><rect x="271.5" y="1821" width="4.3" height="9.5" fill="#fbab6c"/><rect x="275.5" y="1821" width="3.8" height="9.5" fill="#fbab6c"/><rect x="279.0" y="1821" width="3.3" height="9.5" fill="#dcd9da"/><rect x="282.0" y="1821" width="2.3" height="9.5" fill="#fbab6c"/><rect x="284.0" y="1821" width="2.3" height="9.5" fill="#fab583"/><rect x="286.0" y="1821" width="5.3" height="9.5" fill="#fbab6c"/><rect x="291.0" y="1821" width="4.3" height="9.5" fill="#fab583"/><rect x="295.0" y="1821" width="3.3" height="9.5" fill="#fab583"/><rect x="298.0" y="1821" width="4.3" height="9.5" fill="#fab583"/><rect x="302.0" y="1821" width="3.8" height="9.5" fill="#fbab6c"/><rect x="305.5" y="1821" width="3.3" height="9.5" fill="#fab583"/><rect x="308.5" y="1821" width="4.3" height="9.5" fill="#fbab6c"/><rect x="312.5" y="1821" width="3.8" height="9.5" fill="#fbab6c"/><rect x="316.0" y="1821" width="2.8" height="9.5" fill="#b3bce6"/><rect x="318.5" y="1821" width="2.3" height="9.5" fill="#fab583"/><rect x="320.5" y="1821" width="5.3" height="9.5" fill="#fab583"/><rect x="325.5" y="1821" width="3.8" height="9.5" fill="#fab583"/><rect x="329.0" y="1821" width="3.8" height="9.5" fill="#dcd9da"/><rect x="332.5" y="1821" width="4.3" height="9.5" fill="#fab583"/><rect x="336.5" y="1821" width="3.3" height="9.5" fill="#fab583"/><rect x="339.5" y="1821" width="5.3" height="9.5" fill="#fbab6c"/><rect x="344.5" y="1821" width="4.3" height="9.5" fill="#fab583"/><rect x="348.5" y="1821" width="4.3" height="9.5" fill="#fbab6c"/><rect x="352.5" y="1821" width="2.3" height="9.5" fill="#ee9890"/><rect x="354.5" y="1821" width="4.3" height="9.5" fill="#ee9890"/><rect x="358.5" y="1821" width="4.3" height="9.5" fill="#fab583"/><rect x="362.5" y="1821" width="2.8" height="9.5" fill="#fab583"/><rect x="365.0" y="1821" width="5.3" height="9.5" fill="#fab583"/><rect x="370.0" y="1821" width="2.8" height="9.5" fill="#ee9890"/><rect x="372.5" y="1821" width="3.3" height="9.5" fill="#fbab6c"/><rect x="375.5" y="1821" width="3.3" height="9.5" fill="#fab583"/><rect x="378.5" y="1821" width="3.8" height="9.5" fill="#fab583"/><rect x="382.0" y="1821" width="2.3" height="9.5" fill="#fab583"/><rect x="384.0" y="1821" width="2.8" height="9.5" fill="#ee9890"/><rect x="386.5" y="1821" width="4.3" height="9.5" fill="#fab583"/><rect x="390.5" y="1821" width="4.3" height="9.5" fill="#fbab6c"/><rect x="394.5" y="1821" width="3.8" height="9.5" fill="#fab583"/><rect x="398.0" y="1821" width="2.3" height="9.5" fill="#fbab6c"/><rect x="400.0" y="1821" width="3.8" height="9.5" fill="#ee9890"/><rect x="403.5" y="1821" width="2.8" height="9.5" fill="#ee9890"/><rect x="406.0" y="1821" width="5.3" height="9.5" fill="#dcd9da"/><rect x="411.0" y="1821" width="2.8" height="9.5" fill="#fab583"/><rect x="413.5" y="1821" width="2.3" height="9.5" fill="#fbab6c"/><rect x="415.5" y="1821" width="3.8" height="9.5" fill="#fbab6c"/><rect x="419.0" y="1821" width="3.3" height="9.5" fill="#fbab6c"/><rect x="422.0" y="1821" width="2.3" height="9.5" fill="#ee9890"/><rect x="424.0" y="1821" width="3.8" height="9.5" fill="#fbab6c"/><rect x="427.5" y="1821" width="4.3" height="9.5" fill="#ee9890"/><rect x="431.5" y="1821" width="2.3" height="9.5" fill="#fab583"/><rect x="433.5" y="1821" width="4.3" height="9.5" fill="#fbab6c"/><rect x="437.5" y="1821" width="3.3" height="9.5" fill="#ee9890"/><rect x="440.5" y="1821" width="4.3" height="9.5" fill="#fab583"/><rect x="444.5" y="1821" width="4.3" height="9.5" fill="#fbab6c"/><rect x="448.5" y="1821" width="2.8" height="9.5" fill="#fab583"/><rect x="451.0" y="1821" width="2.3" height="9.5" fill="#fab583"/><rect x="453.0" y="1821" width="5.3" height="9.5" fill="#fab583"/><rect x="458.0" y="1821" width="4.3" height="9.5" fill="#fbab6c"/><rect x="462.0" y="1821" width="3.8" height="9.5" fill="#ee9890"/><rect x="465.5" y="1821" width="2.8" height="9.5" fill="#fab583"/><rect x="468.0" y="1821" width="3.8" height="9.5" fill="#fab583"/><rect x="471.5" y="1821" width="2.3" height="9.5" fill="#fab583"/><rect x="473.5" y="1821" width="3.8" height="9.5" fill="#ee9890"/><rect x="477.0" y="1821" width="2.8" height="9.5" fill="#fab583"/><rect x="479.5" y="1821" width="2.3" height="9.5" fill="#fab583"/><rect x="481.5" y="1821" width="4.3" height="9.5" fill="#fbab6c"/><rect x="485.5" y="1821" width="2.3" height="9.5" fill="#fab583"/><rect x="487.5" y="1821" width="4.3" height="9.5" fill="#fab583"/><rect x="491.5" y="1821" width="4.3" height="9.5" fill="#fab583"/><rect x="495.5" y="1821" width="3.3" height="9.5" fill="#fbab6c"/><rect x="498.5" y="1821" width="3.8" height="9.5" fill="#dcd9da"/><rect x="502.0" y="1821" width="4.3" height="9.5" fill="#b3bce6"/><rect x="506.0" y="1821" width="3.3" height="9.5" fill="#b3bce6"/><rect x="509.0" y="1821" width="3.3" height="9.5" fill="#fab583"/><rect x="512.0" y="1821" width="2.8" height="9.5" fill="#fab583"/><rect x="514.5" y="1821" width="2.3" height="9.5" fill="#fab583"/><rect x="516.5" y="1821" width="4.3" height="9.5" fill="#fab583"/><rect x="520.5" y="1821" width="5.3" height="9.5" fill="#fbab6c"/><rect x="525.5" y="1821" width="2.3" height="9.5" fill="#b3bce6"/><rect x="527.5" y="1821" width="5.3" height="9.5" fill="#fab583"/><rect x="532.5" y="1821" width="2.3" height="9.5" fill="#dcd9da"/><rect x="534.5" y="1821" width="2.3" height="9.5" fill="#fab583"/><rect x="536.5" y="1821" width="4.3" height="9.5" fill="#fab583"/><rect x="540.5" y="1821" width="2.3" height="9.5" fill="#b3bce6"/><rect x="542.5" y="1821" width="5.3" height="9.5" fill="#ee9890"/><rect x="547.5" y="1821" width="2.8" height="9.5" fill="#fbab6c"/><rect x="550.0" y="1821" width="2.8" height="9.5" fill="#fab583"/><rect x="552.5" y="1821" width="2.8" height="9.5" fill="#b3bce6"/><rect x="555.0" y="1821" width="2.8" height="9.5" fill="#fab583"/><rect x="557.5" y="1821" width="3.3" height="9.5" fill="#b3bce6"/><rect x="560.5" y="1821" width="2.3" height="9.5" fill="#b3bce6"/><rect x="562.5" y="1821" width="2.3" height="9.5" fill="#b3bce6"/><rect x="564.5" y="1821" width="2.3" height="9.5" fill="#fab583"/><rect x="566.5" y="1821" width="4.3" height="9.5" fill="#dcd9da"/><rect x="570.5" y="1821" width="5.3" height="9.5" fill="#dcd9da"/><rect x="575.5" y="1821" width="3.8" height="9.5" fill="#fab583"/><rect x="579.0" y="1821" width="2.8" height="9.5" fill="#fab583"/><rect x="581.5" y="1821" width="2.3" height="9.5" fill="#b3bce6"/><rect x="583.5" y="1821" width="5.3" height="9.5" fill="#dcd9da"/><rect x="588.5" y="1821" width="4.3" height="9.5" fill="#ee9890"/><rect x="592.5" y="1821" width="5.3" height="9.5" fill="#fab583"/><rect x="597.5" y="1821" width="3.3" height="9.5" fill="#fab583"/><rect x="600.5" y="1821" width="3.8" height="9.5" fill="#fab583"/><rect x="604.0" y="1821" width="3.8" height="9.5" fill="#fab583"/><rect x="607.5" y="1821" width="3.8" height="9.5" fill="#fab583"/><rect x="611.0" y="1821" width="2.8" height="9.5" fill="#b3bce6"/><rect x="613.5" y="1821" width="2.3" height="9.5" fill="#fbab6c"/><rect x="615.5" y="1821" width="2.8" height="9.5" fill="#dcd9da"/><rect x="618.0" y="1821" width="2.8" height="9.5" fill="#b3bce6"/><rect x="620.5" y="1821" width="2.8" height="9.5" fill="#fab583"/><rect x="623.0" y="1821" width="4.3" height="9.5" fill="#b3bce6"/><rect x="627.0" y="1821" width="5.3" height="9.5" fill="#fab583"/><rect x="632.0" y="1821" width="3.8" height="9.5" fill="#b3bce6"/><rect x="635.5" y="1821" width="3.8" height="9.5" fill="#b3bce6"/><rect x="639.0" y="1821" width="5.3" height="9.5" fill="#fab583"/><rect x="644.0" y="1821" width="3.3" height="9.5" fill="#fab583"/><rect x="647.0" y="1821" width="2.8" height="9.5" fill="#fbab6c"/><rect x="649.5" y="1821" width="5.3" height="9.5" fill="#fab583"/><rect x="654.5" y="1821" width="3.3" height="9.5" fill="#fab583"/><rect x="657.5" y="1821" width="2.3" height="9.5" fill="#fab583"/><rect x="659.5" y="1821" width="3.8" height="9.5" fill="#ee9890"/><rect x="663.0" y="1821" width="2.8" height="9.5" fill="#fbab6c"/><rect x="665.5" y="1821" width="2.8" height="9.5" fill="#fab583"/><rect x="668.0" y="1821" width="3.8" height="9.5" fill="#fab583"/><rect x="671.5" y="1821" width="2.3" height="9.5" fill="#fab583"/><rect x="673.5" y="1821" width="3.3" height="9.5" fill="#fab583"/><rect x="676.5" y="1821" width="2.8" height="9.5" fill="#fab583"/><rect x="679.0" y="1821" width="2.3" height="9.5" fill="#fab583"/><rect x="681.0" y="1821" width="3.8" height="9.5" fill="#fab583"/><rect x="684.5" y="1821" width="4.3" height="9.5" fill="#fab583"/><rect x="688.5" y="1821" width="5.3" height="9.5" fill="#b3bce6"/><rect x="693.5" y="1821" width="4.3" height="9.5" fill="#fbab6c"/><rect x="697.5" y="1821" width="3.3" height="9.5" fill="#fab583"/><rect x="700.5" y="1821" width="2.8" height="9.5" fill="#b3bce6"/><rect x="703.0" y="1821" width="3.8" height="9.5" fill="#b3bce6"/><rect x="706.5" y="1821" width="2.8" height="9.5" fill="#b3bce6"/><rect x="709.0" y="1821" width="2.3" height="9.5" fill="#fab583"/><rect x="711.0" y="1821" width="3.8" height="9.5" fill="#b3bce6"/><rect x="714.5" y="1821" width="2.3" height="9.5" fill="#b3bce6"/><rect x="716.5" y="1821" width="3.3" height="9.5" fill="#fab583"/><rect x="719.5" y="1821" width="5.3" height="9.5" fill="#fab583"/><rect x="724.5" y="1821" width="4.3" height="9.5" fill="#fab583"/><rect x="728.5" y="1821" width="2.8" height="9.5" fill="#fbab6c"/><rect x="731.0" y="1821" width="4.3" height="9.5" fill="#fab583"/><rect x="735.0" y="1821" width="3.3" height="9.5" fill="#fbab6c"/><rect x="738.0" y="1821" width="3.8" height="9.5" fill="#fab583"/><rect x="741.5" y="1821" width="4.3" height="9.5" fill="#fab583"/><rect x="745.5" y="1821" width="2.8" height="9.5" fill="#ee9890"/><rect x="748.0" y="1821" width="2.8" height="9.5" fill="#dcd9da"/><rect x="750.5" y="1821" width="2.8" height="9.5" fill="#ee9890"/><rect x="753.0" y="1821" width="2.3" height="9.5" fill="#b3bce6"/><rect x="755.0" y="1821" width="5.3" height="9.5" fill="#fbab6c"/><rect x="760.0" y="1821" width="3.3" height="9.5" fill="#fab583"/><rect x="763.0" y="1821" width="2.8" height="9.5" fill="#ee9890"/><rect x="765.5" y="1821" width="5.3" height="9.5" fill="#ee9890"/><rect x="770.5" y="1821" width="2.8" height="9.5" fill="#ee9890"/><rect x="773.0" y="1821" width="2.8" height="9.5" fill="#fab583"/><rect x="775.5" y="1821" width="5.3" height="9.5" fill="#dcd9da"/><rect x="780.5" y="1821" width="3.8" height="9.5" fill="#b3bce6"/><rect x="784.0" y="1821" width="2.3" height="9.5" fill="#dcd9da"/><rect x="786.0" y="1821" width="3.3" height="9.5" fill="#ee9890"/><rect x="789.0" y="1821" width="5.3" height="9.5" fill="#b3bce6"/><rect x="794.0" y="1821" width="3.8" height="9.5" fill="#fab583"/><rect x="797.5" y="1821" width="3.8" height="9.5" fill="#b3bce6"/><rect x="801.0" y="1821" width="3.8" height="9.5" fill="#fab583"/><rect x="804.5" y="1821" width="5.3" height="9.5" fill="#fab583"/><rect x="809.5" y="1821" width="2.8" height="9.5" fill="#dcd9da"/><rect x="812.0" y="1821" width="3.3" height="9.5" fill="#fab583"/><rect x="815.0" y="1821" width="5.3" height="9.5" fill="#ee9890"/><rect x="820.0" y="1821" width="4.3" height="9.5" fill="#b3bce6"/><rect x="824.0" y="1821" width="3.3" height="9.5" fill="#dcd9da"/><rect x="827.0" y="1821" width="3.8" height="9.5" fill="#b3bce6"/><rect x="830.5" y="1821" width="2.3" height="9.5" fill="#fab583"/><rect x="832.5" y="1821" width="5.3" height="9.5" fill="#fab583"/><rect x="837.5" y="1821" width="3.3" height="9.5" fill="#b3bce6"/><rect x="840.5" y="1821" width="3.8" height="9.5" fill="#dcd9da"/><rect x="844.0" y="1821" width="2.3" height="9.5" fill="#fab583"/><rect x="846.0" y="1821" width="2.3" height="9.5" fill="#b3bce6"/><rect x="848.0" y="1821" width="3.8" height="9.5" fill="#ee9890"/><rect x="851.5" y="1821" width="2.3" height="9.5" fill="#dcd9da"/><rect x="853.5" y="1821" width="4.3" height="9.5" fill="#fab583"/><rect x="857.5" y="1821" width="2.8" height="9.5" fill="#b3bce6"/><rect x="860.0" y="1821" width="2.8" height="9.5" fill="#dcd9da"/><rect x="862.5" y="1821" width="2.8" height="9.5" fill="#fab583"/><rect x="865.0" y="1821" width="3.3" height="9.5" fill="#dcd9da"/><rect x="868.0" y="1821" width="2.3" height="9.5" fill="#fab583"/><rect x="870.0" y="1821" width="5.3" height="9.5" fill="#b3bce6"/><rect x="875.0" y="1821" width="3.3" height="9.5" fill="#fab583"/><rect x="878.0" y="1821" width="4.3" height="9.5" fill="#dcd9da"/><rect x="882.0" y="1821" width="3.8" height="9.5" fill="#dcd9da"/><rect x="885.5" y="1821" width="5.3" height="9.5" fill="#ee9890"/><rect x="890.5" y="1821" width="3.3" height="9.5" fill="#b3bce6"/><rect x="893.5" y="1821" width="5.3" height="9.5" fill="#fab583"/><rect x="898.5" y="1821" width="3.3" height="9.5" fill="#fab583"/><rect x="901.5" y="1821" width="3.8" height="9.5" fill="#dcd9da"/><rect x="905.0" y="1821" width="3.3" height="9.5" fill="#fab583"/><rect x="908.0" y="1821" width="2.3" height="9.5" fill="#ee9890"/><rect x="910.0" y="1821" width="2.8" height="9.5" fill="#dcd9da"/><rect x="912.5" y="1821" width="2.8" height="9.5" fill="#b3bce6"/><rect x="915.0" y="1821" width="2.8" height="9.5" fill="#dcd9da"/><rect x="917.5" y="1821" width="3.8" height="9.5" fill="#b3bce6"/><rect x="921.0" y="1821" width="2.8" height="9.5" fill="#b3bce6"/><rect x="923.5" y="1821" width="2.3" height="9.5" fill="#b3bce6"/><rect x="925.5" y="1821" width="3.8" height="9.5" fill="#b3bce6"/><rect x="929.0" y="1821" width="4.3" height="9.5" fill="#b3bce6"/><rect x="933.0" y="1821" width="4.3" height="9.5" fill="#fab583"/><rect x="937.0" y="1821" width="2.3" height="9.5" fill="#b3bce6"/><rect x="939.0" y="1821" width="3.3" height="9.5" fill="#ee9890"/><rect x="942.0" y="1821" width="3.3" height="9.5" fill="#b3bce6"/><rect x="945.0" y="1821" width="4.3" height="9.5" fill="#b3bce6"/><rect x="949.0" y="1821" width="3.3" height="9.5" fill="#b3bce6"/><rect x="952.0" y="1821" width="4.3" height="9.5" fill="#fab583"/><rect x="956.0" y="1821" width="4.3" height="9.5" fill="#fab583"/><rect x="960.0" y="1821" width="5.3" height="9.5" fill="#b3bce6"/><rect x="965.0" y="1821" width="2.8" height="9.5" fill="#b3bce6"/><rect x="967.5" y="1821" width="5.3" height="9.5" fill="#dcd9da"/><rect x="972.5" y="1821" width="3.3" height="9.5" fill="#fab583"/><rect x="975.5" y="1821" width="2.8" height="9.5" fill="#fab583"/><rect x="978.0" y="1821" width="3.8" height="9.5" fill="#fab583"/><rect x="981.5" y="1821" width="5.3" height="9.5" fill="#fab583"/><rect x="986.5" y="1821" width="2.8" height="9.5" fill="#ee9890"/><rect x="989.0" y="1821" width="3.8" height="9.5" fill="#b3bce6"/><rect x="992.5" y="1821" width="3.8" height="9.5" fill="#dcd9da"/><rect x="996.0" y="1821" width="2.3" height="9.5" fill="#fab583"/><rect x="998.0" y="1821" width="5.3" height="9.5" fill="#dcd9da"/><rect x="1003.0" y="1821" width="5.3" height="9.5" fill="#dcd9da"/><rect x="1008.0" y="1821" width="5.3" height="9.5" fill="#dcd9da"/><rect x="1013.0" y="1821" width="2.3" height="9.5" fill="#dcd9da"/><rect x="1015.0" y="1821" width="3.3" height="9.5" fill="#fab583"/><rect x="1018.0" y="1821" width="2.3" height="9.5" fill="#ee9890"/><rect x="1020.0" y="1821" width="2.3" height="9.5" fill="#fab583"/><rect x="1022.0" y="1821" width="3.3" height="9.5" fill="#ee9890"/><rect x="1025.0" y="1821" width="2.8" height="9.5" fill="#fab583"/><rect x="1027.5" y="1821" width="4.3" height="9.5" fill="#b3bce6"/><rect x="1031.5" y="1821" width="4.3" height="9.5" fill="#b3bce6"/><rect x="1035.5" y="1821" width="2.3" height="9.5" fill="#dcd9da"/><rect x="1037.5" y="1821" width="4.3" height="9.5" fill="#ececee"/><rect x="1041.5" y="1821" width="3.8" height="9.5" fill="#fab583"/><rect x="1045.0" y="1821" width="2.8" height="9.5" fill="#b3bce6"/><rect x="1047.5" y="1821" width="3.8" height="9.5" fill="#dcd9da"/><rect x="1051.0" y="1821" width="3.3" height="9.5" fill="#ee9890"/><rect x="1054.0" y="1821" width="2.3" height="9.5" fill="#b3bce6"/><rect x="1056.0" y="1821" width="3.3" height="9.5" fill="#b3bce6"/><rect x="1059.0" y="1821" width="4.3" height="9.5" fill="#b3bce6"/><rect x="1063.0" y="1821" width="2.8" height="9.5" fill="#b3bce6"/><rect x="1065.5" y="1821" width="2.8" height="9.5" fill="#dcd9da"/><rect x="1068.0" y="1821" width="3.3" height="9.5" fill="#dcd9da"/><rect x="1071.0" y="1821" width="4.3" height="9.5" fill="#dcd9da"/><rect x="1075.0" y="1821" width="3.8" height="9.5" fill="#dcd9da"/><rect x="1078.5" y="1821" width="3.3" height="9.5" fill="#fab583"/><rect x="1081.5" y="1821" width="3.3" height="9.5" fill="#ee9890"/><rect x="1084.5" y="1821" width="4.3" height="9.5" fill="#dcd9da"/><rect x="1088.5" y="1821" width="4.3" height="9.5" fill="#dcd9da"/><rect x="1092.5" y="1821" width="3.3" height="9.5" fill="#fab583"/><rect x="1095.5" y="1821" width="2.8" height="9.5" fill="#dcd9da"/><rect x="1098.0" y="1821" width="3.3" height="9.5" fill="#dcd9da"/><rect x="1101.0" y="1821" width="3.3" height="9.5" fill="#b3bce6"/><rect x="1104.0" y="1821" width="2.8" height="9.5" fill="#ee9890"/><rect x="1106.5" y="1821" width="2.3" height="9.5" fill="#fab583"/><rect x="1108.5" y="1821" width="2.3" height="9.5" fill="#b3bce6"/><rect x="1110.5" y="1821" width="3.3" height="9.5" fill="#dcd9da"/><rect x="1113.5" y="1821" width="2.3" height="9.5" fill="#dcd9da"/><rect x="1115.5" y="1821" width="3.8" height="9.5" fill="#dcd9da"/><rect x="1119.0" y="1821" width="2.3" height="9.5" fill="#dcd9da"/><rect x="1121.0" y="1821" width="5.3" height="9.5" fill="#b3bce6"/><rect x="1126.0" y="1821" width="2.8" height="9.5" fill="#dcd9da"/><rect x="1128.5" y="1821" width="5.3" height="9.5" fill="#dcd9da"/><rect x="1133.5" y="1821" width="5.3" height="9.5" fill="#ee9890"/><rect x="1138.5" y="1821" width="4.3" height="9.5" fill="#b3bce6"/><rect x="1142.5" y="1821" width="4.3" height="9.5" fill="#fab583"/><rect x="1146.5" y="1821" width="5.3" height="9.5" fill="#ececee"/><rect x="1151.5" y="1821" width="3.8" height="9.5" fill="#ee9890"/><rect x="1155.0" y="1821" width="5.3" height="9.5" fill="#b3bce6"/><rect x="1160.0" y="1821" width="5.3" height="9.5" fill="#fab583"/><rect x="1165.0" y="1821" width="2.3" height="9.5" fill="#fab583"/><rect x="1167.0" y="1821" width="4.3" height="9.5" fill="#dcd9da"/><rect x="1171.0" y="1821" width="3.8" height="9.5" fill="#dcd9da"/><rect x="1174.5" y="1821" width="4.3" height="9.5" fill="#fab583"/><rect x="1178.5" y="1821" width="3.3" height="9.5" fill="#b3bce6"/><rect x="1181.5" y="1821" width="4.3" height="9.5" fill="#fab583"/><rect x="1185.5" y="1821" width="3.8" height="9.5" fill="#b3bce6"/><rect x="1189.0" y="1821" width="3.3" height="9.5" fill="#b3bce6"/><rect x="1192.0" y="1821" width="3.3" height="9.5" fill="#dcd9da"/><rect x="1195.0" y="1821" width="4.3" height="9.5" fill="#dcd9da"/><rect x="1199.0" y="1821" width="3.8" height="9.5" fill="#b3bce6"/><rect x="1202.5" y="1821" width="2.3" height="9.5" fill="#b3bce6"/><rect x="1204.5" y="1821" width="3.8" height="9.5" fill="#dcd9da"/><rect x="1208.0" y="1821" width="3.3" height="9.5" fill="#ee9890"/><rect x="1211.0" y="1821" width="3.3" height="9.5" fill="#b3bce6"/><rect x="1214.0" y="1821" width="3.8" height="9.5" fill="#dcd9da"/><rect x="1217.5" y="1821" width="4.3" height="9.5" fill="#ee9890"/><rect x="1221.5" y="1821" width="3.3" height="9.5" fill="#dcd9da"/><rect x="1224.5" y="1821" width="4.3" height="9.5" fill="#b3bce6"/><rect x="1228.5" y="1821" width="3.3" height="9.5" fill="#dcd9da"/><rect x="1231.5" y="1821" width="3.8" height="9.5" fill="#b3bce6"/><rect x="1235.0" y="1821" width="2.3" height="9.5" fill="#dcd9da"/><rect x="1237.0" y="1821" width="3.3" height="9.5" fill="#ececee"/><rect x="1240.0" y="1821" width="3.8" height="9.5" fill="#dcd9da"/><rect x="1243.5" y="1821" width="4.3" height="9.5" fill="#ececee"/><rect x="1247.5" y="1821" width="4.3" height="9.5" fill="#ececee"/><rect x="1251.5" y="1821" width="3.8" height="9.5" fill="#ececee"/><rect x="1255.0" y="1821" width="4.3" height="9.5" fill="#ececee"/><rect x="1259.0" y="1821" width="3.8" height="9.5" fill="#dcd9da"/><rect x="1262.5" y="1821" width="3.3" height="9.5" fill="#dcd9da"/><rect x="1265.5" y="1821" width="5.3" height="9.5" fill="#dcd9da"/><rect x="1270.5" y="1821" width="2.3" height="9.5" fill="#ececee"/><rect x="1272.5" y="1821" width="4.3" height="9.5" fill="#dcd9da"/><rect x="1276.5" y="1821" width="3.8" height="9.5" fill="#dcd9da"/><rect x="1280.0" y="1821" width="3.8" height="9.5" fill="#ececee"/><rect x="1283.5" y="1821" width="4.3" height="9.5" fill="#dcd9da"/><rect x="1287.5" y="1821" width="2.8" height="9.5" fill="#fab583"/><rect x="1290.0" y="1821" width="3.8" height="9.5" fill="#dcd9da"/><rect x="1293.5" y="1821" width="4.3" height="9.5" fill="#b3bce6"/><rect x="1297.5" y="1821" width="4.3" height="9.5" fill="#dcd9da"/><rect x="1301.5" y="1821" width="4.3" height="9.5" fill="#ececee"/><rect x="1305.5" y="1821" width="2.3" height="9.5" fill="#dcd9da"/><rect x="1307.5" y="1821" width="3.3" height="9.5" fill="#dcd9da"/><rect x="1310.5" y="1821" width="2.3" height="9.5" fill="#b3bce6"/><rect x="1312.5" y="1821" width="4.3" height="9.5" fill="#dcd9da"/><rect x="1316.5" y="1821" width="5.3" height="9.5" fill="#b3bce6"/><rect x="1321.5" y="1821" width="5.3" height="9.5" fill="#dcd9da"/><rect x="1326.5" y="1821" width="4.3" height="9.5" fill="#b3bce6"/><rect x="1330.5" y="1821" width="3.8" height="9.5" fill="#ececee"/><rect x="1334.0" y="1821" width="4.3" height="9.5" fill="#dcd9da"/><rect x="1338.0" y="1821" width="4.3" height="9.5" fill="#dcd9da"/><rect x="1342.0" y="1821" width="2.8" height="9.5" fill="#dcd9da"/><rect x="1344.5" y="1821" width="2.3" height="9.5" fill="#ececee"/><rect x="1346.5" y="1821" width="4.3" height="9.5" fill="#dcd9da"/><rect x="1350.5" y="1821" width="4.3" height="9.5" fill="#fab583"/><rect x="1354.5" y="1821" width="5.3" height="9.5" fill="#ececee"/><rect x="1359.5" y="1821" width="0.6" height="9.5" fill="#dcd9da"/></g>
<line x1="260.5" x2="661" y1="2546.8" y2="2546.8" stroke="#000" stroke-width="2.5"/>
<line x1="920" x2="1296" y1="2546.8" y2="2546.8" stroke="#000" stroke-width="2.5"/>
<text x="371" y="2619.6" font-family="'Liberation Sans', sans-serif" font-size="38.2" font-weight="bold" fill="#000">4<tspan font-size="24" dy="-11.5">th</tspan><tspan dy="11.5"> Quantile</tspan></text>
<text x="1005" y="2619.6" font-family="'Liberation Sans', sans-serif" font-size="38.2" font-weight="bold" fill="#000">1<tspan font-size="24" dy="-11.5">st</tspan><tspan dy="11.5"> Quantile</tspan></text>
<text transform="translate(52.00 2682.70)" font-family="'Liberation Sans', sans-serif" font-size="38.2" font-weight="bold" text-anchor="start" fill="#000">Row max</text>
<text transform="translate(270.50 2682.70)" font-family="'Liberation Sans', sans-serif" font-size="38.2" font-weight="bold" text-anchor="start" fill="#000">Row min</text>
<rect x="145.9" y="2695.3" width="169.4" height="16.8" fill="url(#gbar)"/>
<line x1="1687.7" x2="1687.7" y1="1836.7" y2="2553" stroke="#000" stroke-width="2"/>
<line x1="1678.0" x2="1687.7" y1="2552.0" y2="2552.0" stroke="#000" stroke-width="2"/>
<text transform="translate(1668.30 2563.00)" font-family="'DejaVu Sans', sans-serif" font-size="26.5" font-weight="normal" text-anchor="end" fill="#000">0</text>
<line x1="1678.0" x2="1687.7" y1="2410.9" y2="2410.9" stroke="#000" stroke-width="2"/>
<text transform="translate(1668.30 2421.88)" font-family="'DejaVu Sans', sans-serif" font-size="26.5" font-weight="normal" text-anchor="end" fill="#000">200</text>
<line x1="1678.0" x2="1687.7" y1="2269.8" y2="2269.8" stroke="#000" stroke-width="2"/>
<text transform="translate(1668.30 2280.76)" font-family="'DejaVu Sans', sans-serif" font-size="26.5" font-weight="normal" text-anchor="end" fill="#000">400</text>
<line x1="1678.0" x2="1687.7" y1="2128.6" y2="2128.6" stroke="#000" stroke-width="2"/>
<text transform="translate(1668.30 2139.64)" font-family="'DejaVu Sans', sans-serif" font-size="26.5" font-weight="normal" text-anchor="end" fill="#000">600</text>
<line x1="1678.0" x2="1687.7" y1="1987.5" y2="1987.5" stroke="#000" stroke-width="2"/>
<text transform="translate(1668.30 1998.52)" font-family="'DejaVu Sans', sans-serif" font-size="26.5" font-weight="normal" text-anchor="end" fill="#000">800</text>
<line x1="1678.0" x2="1687.7" y1="1846.4" y2="1846.4" stroke="#000" stroke-width="2"/>
<text transform="translate(1668.30 1857.40)" font-family="'DejaVu Sans', sans-serif" font-size="26.5" font-weight="normal" text-anchor="end" fill="#000">1000</text>
<rect x="1709.7" y="2533.2" width="62.6" height="19.1" fill="#8388d2"/>
<rect x="1709.7" y="2401.7" width="62.6" height="131.8" fill="#c9c9c9"/>
<rect x="1709.7" y="2266.9" width="62.6" height="135.1" fill="#4aa3fa"/>
<rect x="1709.7" y="2011.1" width="62.6" height="256.2" fill="#fb9a2b"/>
<rect x="1709.7" y="1870.7" width="62.6" height="140.7" fill="#fb4545"/>
<line x1="1741.0" x2="1741.0" y1="2552" y2="2561.5" stroke="#000" stroke-width="2"/>
<rect x="1889.7" y="2505.3" width="62.6" height="47.0" fill="#8388d2"/>
<rect x="1889.7" y="2156.9" width="62.6" height="348.7" fill="#c9c9c9"/>
<rect x="1889.7" y="2022.3" width="62.6" height="134.9" fill="#4aa3fa"/>
<rect x="1889.7" y="1935.3" width="62.6" height="87.3" fill="#fb9a2b"/>
<rect x="1889.7" y="1870.7" width="62.6" height="64.9" fill="#fb4545"/>
<line x1="1921.0" x2="1921.0" y1="2552" y2="2561.5" stroke="#000" stroke-width="2"/>
<text transform="translate(1741.00 2596.00)" font-family="'Liberation Sans', sans-serif" font-size="34" font-weight="bold" text-anchor="middle" fill="#000">IV</text>
<text transform="translate(1921.00 2596.00)" font-family="'Liberation Sans', sans-serif" font-size="34" font-weight="bold" text-anchor="middle" fill="#000">I</text>
<text transform="translate(1822.40 2662.00)" font-family="'Liberation Sans', sans-serif" font-size="46" font-weight="bold" text-anchor="middle" fill="#000">Quantiles</text>
<text transform="translate(1583 2195) rotate(-90)" font-family="'DejaVu Sans', sans-serif" font-size="26.8" text-anchor="middle" fill="#000">Number of Domains</text>
</svg>
</body></html>
